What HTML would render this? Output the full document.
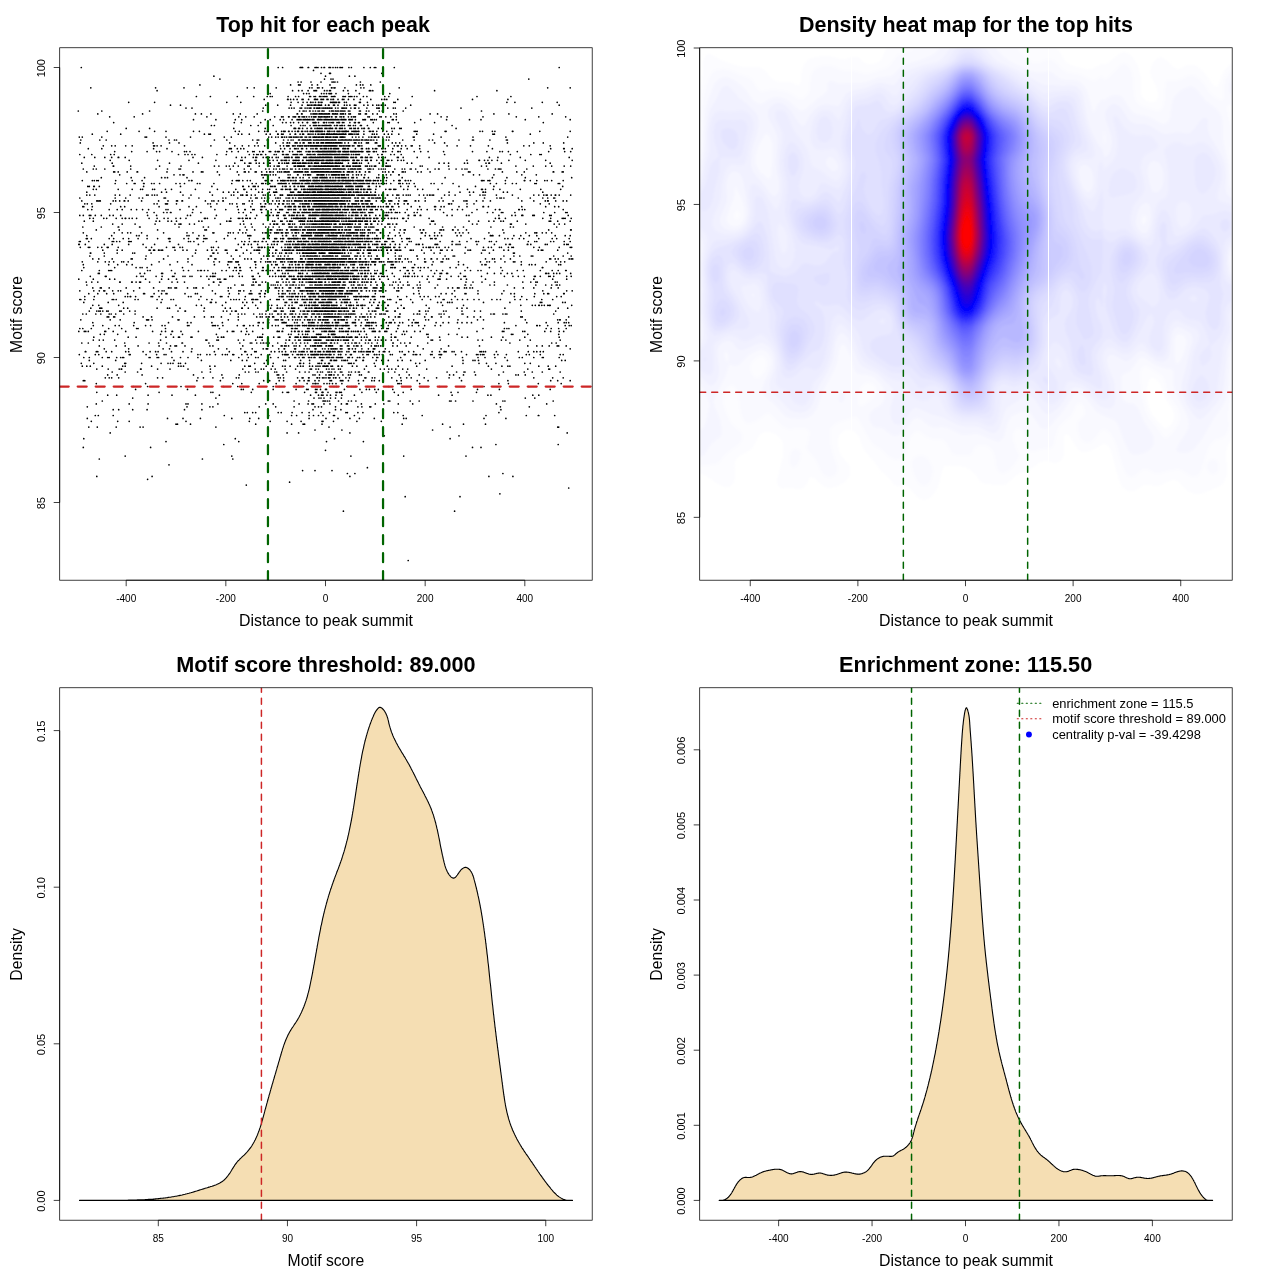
<!DOCTYPE html>
<html lang="en"><head><meta charset="utf-8"><title>Motif enrichment plots</title>
<style>html,body{margin:0;padding:0;background:#fff}svg{display:block}</style></head>
<body><svg width="1280" height="1280" viewBox="0 0 1280 1280" font-family="'Liberation Sans', sans-serif" fill="#000">
<rect width="1280" height="1280" fill="#fff"/>
<defs>
<clipPath id="c0"><rect x="59.70" y="47.75" width="532.50" height="532.45"/></clipPath>
<clipPath id="c1"><rect x="699.70" y="47.75" width="532.50" height="532.45"/></clipPath>
<clipPath id="c2"><rect x="59.70" y="687.75" width="532.50" height="532.45"/></clipPath>
<clipPath id="c3"><rect x="699.70" y="687.75" width="532.50" height="532.45"/></clipPath>
<filter id="hb" x="-5%" y="-5%" width="110%" height="110%"><feGaussianBlur stdDeviation="1.2"/></filter>
</defs>
<path d="M408.2 560.5h0M343.4 511.2h0m111.2 0h0M405.2 496.7h0m54.8 0h0M499.9 493.8h0M568.7 488.0h0M246.3 485.1h0M289.6 482.2h0M147.6 479.3h0M96.8 476.4h0m55.3 0h0m197.8 0h0m139 0h0m24 0h0M347.4 473.5h0m7.5 0h0m148 0h0M302.6 470.6h0m12.4 0h0m17 0h0M367.4 467.7h0M169 464.8h0M99.3 459.0h0m103.1 0h0m30.4 0h0M125.2 456.1h0m106.6 0h0m119.1 0h0m52.8 0h0m62.3 0h0M325.5 450.3h0M83.3 447.4h0m67.3 0h0m321.9 0h0m8.5 0h0M223.8 444.5h0m272.1 0h0m62.3 0h0M166 441.6h0m72.8 0h0m87.7 0h0m36.9 0h0M83.8 438.7h0m151.5 0h0m99.2 0h0m115.6 0h0M384.3 435.8h0m74.7 0h0M110.2 432.9h0m176.9 0h0m11.5 0h0m51.3 0h0m217.3 0h0M315 430.0h0m26.9 0h0m90.7 0h0M88.8 427.1h0m8.5 0h0m18.9 0h0m23.9 0h0m3 0h0m72.8 0h0m113.1 0h0m121.1 0h0m107.6 0h0m1 0h0M176 424.2h0m1.5 0h0m13 0h0m65.2 0h0m35.9 0h0m11.5 0h0m1.5 0h0m17.4 0h0m80.2 0h0m40.4 0h0m20.9 0h0m22 0h0M91.3 421.3h0m26.4 0h0m11.5 0h0m56.8 0h0m63.3 0h0m20.9 0h0m16.9 0h0m14 0h0m20.9 0h0m1 0h0m10.5 0h0m23.4 0h0m24.4 0h0M87.3 418.4h0m80.2 0h0m15.5 0h0m17.4 0h0m31.4 0h0m18 0h0m8.9 0h0m50.4 0h0m16.9 0h0m12 0h0m11.9 0h0m9.5 0h0m14.9 0h0m29.4 0h0m2.5 0h0m77.8 0h0m21.9 0h0M95.3 415.5h0m3 0h0m14.9 0h0m111.1 0h0m44.4 0h0m22.9 0h0m5 0h0m12.5 0h0m4.4 0h0m5 0h0m4.5 0h0m10.5 0h0m1 0h0m19.9 0h0m48.8 0h0m19 0h0m63.8 0h0m40.3 0h0m12 0h0m0.5 0h0m15.9 0h0M244.8 412.6h0m2.5 0h0m5.4 0h0m3 0h0m22.5 0h0m3 0h0m10.9 0h0m10 0h0m7 0h0m11.9 0h0m8.5 0h0m16.4 0h0m1.5 0h0m10.5 0h0m5 0h0m30.9 0h0m4 0h0m101.1 0h0M113.2 409.7h0m5.5 0h0m14 0h0m14.4 0h0m37.4 0h0m17.4 0h0m111.1 0h0m22.5 0h0m5.4 0h0m160 0h0M87.3 406.8h0m99.7 0h0m22.9 0h0m3 0h0m46.3 0h0m16.5 0h0m18.4 0h0m20.9 0h0m3.5 0h0m3 0h0m14 0h0m22.4 0h0m4 0h0m7.9 0h0m1 0h0m129.6 0h0m28.9 0h0M96.3 403.9h0m32.9 0h0m18.9 0h0m37.9 0h0m2 0h0m13.9 0h0m16 0h0m47.8 0h0m7.5 0h0m25.9 0h0m9 0h0m3.9 0h0m1.5 0h0m10.5 0h0m6 0h0m11.4 0h0m5 0h0m1 0h0m14 0h0m13.9 0h0m8.5 0h0m14.5 0h0m14.4 0h0m83.7 0h0m50.3 0h0M102.3 401.0h0m191.8 0h0m14.5 0h0m14.4 0h0m0.5 0h0m1 0h0m1 0h0m2 0h0m2 0h0m9 0h0m9.9 0h0m3 0h0m4.5 0h0m32.4 0h0m1.5 0h0m20.4 0h0m9 0h0m30.4 0h0m1.5 0h0m4.5 0h0m17.4 0h0m29.9 0h0m2 0h0m48.3 0h0M132.7 398.1h0m83.2 0h0m98.1 0h0m5 0h0m2 0h0m3 0h0m6.5 0h0m5 0h0m5.9 0h0m183.9 0h0m9.5 0h0M107.7 395.2h0m9 0h0m31.4 0h0m23.9 0h0m23.4 0h0m24 0h0m48.8 0h0m42.4 0h0m7.9 0h0m3 0h0m1.5 0h0m4 0h0m3.5 0h0m5.5 0h0m5.9 0h0m12.5 0h0m43.9 0h0m40.3 0h0m13.5 0h0m35.8 0h0m3 0h0m41.9 0h0m6 0h0M96.8 392.3h0m62.3 0h0m51.8 0h0m2 0h0m38.4 0h0m31.3 0h0m4.5 0h0m1.5 0h0m16 0h0m10.9 0h0m1 0h0m5.5 0h0m0.5 0h0m0.5 0h0m5 0h0m8 0h0m1 0h0m2.5 0h0m0.5 0h0m1.4 0h0m20.5 0h0m14.4 0h0m18 0h0m8.9 0h0m47.9 0h0m6.9 0h0m18.5 0h0M135.6 389.4h0m51.9 0h0m53.8 0h0m2 0h0m9.4 0h0m20.5 0h0m22.9 0h0m10.5 0h0m1.5 0h0m7.4 0h0m1.5 0h0m3.5 0h0m5 0h0m0.5 0h0m0.5 0h0m17.9 0h0m15.5 0h0m6.5 0h0m3 0h0m5.4 0h0m3.5 0h0m14.5 0h0m18.4 0h0m66.3 0h0m21.9 0h0m50.8 0h0M122.2 386.5h0m11 0h0m14.4 0h0m33.4 0h0m42.8 0h0m14 0h0m35.4 0h0m6 0h0m14.9 0h0m4.5 0h0m0.5 0h0m4.5 0h0m15.4 0h0m15 0h0m2.5 0h0m10.4 0h0m0.5 0h0m4.5 0h0m2 0h0m1.5 0h0m12.5 0h0m20.9 0h0m50.8 0h0m44.4 0h0m44.8 0h0M96.3 383.6h0m49.3 0h0m87.2 0h0m9 0h0m17.4 0h0m17 0h0m19.9 0h0m11 0h0m5.9 0h0m2 0h0m0.5 0h0m0.5 0h0m2 0h0m6 0h0m3 0h0m2.5 0h0m3 0h0m3.5 0h0m5.9 0h0m17 0h0m38.9 0h0m1.4 0h0m2 0h0m18.5 0h0m79.2 0h0m9.5 0h0m29.9 0h0m22.9 0h0M83.3 380.7h0m1.5 0h0m112.1 0h0m23.5 0h0m43.3 0h0m6 0h0m9.5 0h0m4.4 0h0m16 0h0m4.5 0h0m4 0h0m1 0h0m5.9 0h0m4 0h0m11 0h0m1.5 0h0m8.9 0h0m1.5 0h0m1 0h0m5.5 0h0m10 0h0m5 0h0m8.4 0h0m2.5 0h0m5 0h0m17.5 0h0m4.4 0h0m16 0h0m10.9 0h0m33.4 0h0m46.4 0h0m42.8 0h0m7 0h0m12.5 0h0M105.3 377.8h0m3.9 0h0m2.5 0h0m7 0h0m38.9 0h0m5 0h0m35.3 0h0m5.5 0h0m9.5 0h0m10 0h0m13.4 0h0m2.5 0h0m39.4 0h0m2 0h0m3.4 0h0m14 0h0m4.5 0h0m1 0h0m5.5 0h0m0.5 0h0m7.9 0h0m0.5 0h0m2 0h0m3 0h0m1.5 0h0m2 0h0m2.5 0h0m0.5 0h0m1 0h0m3.5 0h0m2 0h0m0.5 0h0m3.5 0h0m6.4 0h0m3.5 0h0m15.5 0h0m1 0h0m6.4 0h0m2.5 0h0m17 0h0m8.9 0h0m6 0h0m4.5 0h0m13 0h0m12.4 0h0m12.5 0h0m10.4 0h0m74.3 0h0m18.9 0h0m10.5 0h0M107.7 374.9h0m9.5 0h0m24.9 0h0m51.4 0h0m28.4 0h0m17.4 0h0m37.9 0h0m1.5 0h0m4.4 0h0m29.9 0h0m2 0h0m4.5 0h0m6.5 0h0m3 0h0m1 0h0m1 0h0m0.5 0h0m2.5 0h0m4 0h0m4.9 0h0m5.5 0h0m2 0h0m9 0h0m2 0h0m37.8 0h0m10 0h0m10 0h0m30.4 0h0m4 0h0m9.9 0h0m12 0h0m23.4 0h0m17 0h0m2.4 0h0m7 0h0M112.2 372.0h0m13 0h0m12.4 0h0m64.3 0h0m8.5 0h0m34.9 0h0m3.5 0h0m6.9 0h0m2.5 0h0m9.5 0h0m7 0h0m2 0h0m9.9 0h0m13 0h0m5.5 0h0m4 0h0m8.4 0h0m3 0h0m2 0h0m5.5 0h0m1.5 0h0m2 0h0m3.5 0h0m5.4 0h0m1.5 0h0m7 0h0m2.5 0h0m4 0h0m3 0h0m1 0h0m9 0h0m0.5 0h0m19.4 0h0m6.5 0h0m11.9 0h0m40.4 0h0m9.5 0h0m7.4 0h0m1 0h0m9.5 0h0m28.9 0h0m20.9 0h0m8 0h0m10 0h0m17.9 0h0M96.8 369.1h0m11.4 0h0m11 0h0m2 0h0m0.5 0h0m18.9 0h0m0.5 0h0m16.5 0h0m12.4 0h0m18 0h0m22.4 0h0m32.4 0h0m12.4 0h0m6 0h0m2.5 0h0m7.5 0h0m4 0h0m9.9 0h0m10.5 0h0m14.5 0h0m1.4 0h0m4.5 0h0m2.5 0h0m8 0h0m2.5 0h0m3 0h0m2 0h0m4.5 0h0m1.9 0h0m24 0h0m15.9 0h0m4 0h0m4.5 0h0m3 0h0m4 0h0m6.9 0h0m5 0h0m19 0h0m64.7 0h0m36.4 0h0m20.9 0h0m1 0h0M82.3 366.2h0m4.5 0h0m3.5 0h0m12 0h0m20.4 0h0m2.5 0h0m26.4 0h0m26.9 0h0m2.5 0h0m2.5 0h0m26.4 0h0m5 0h0m29.9 0h0m4 0h0m1.5 0h0m15.9 0h0m6.5 0h0m9.9 0h0m2.5 0h0m5 0h0m7.5 0h0m3 0h0m2.5 0h0m6.5 0h0m2.9 0h0m3.5 0h0m2 0h0m2 0h0m3 0h0m0.5 0h0m1 0h0m0.5 0h0m1.5 0h0m0.5 0h0m0.5 0h0m0.5 0h0m3 0h0m1.5 0h0m5.5 0h0m0.5 0h0m3.4 0h0m10.5 0h0m4.5 0h0m9.5 0h0m8.9 0h0m12 0h0m11 0h0m18.4 0h0m35.4 0h0m36.3 0h0m13.5 0h0m6 0h0m2 0h0m28.9 0h0m9.4 0h0m7.5 0h0M81.3 363.3h0m12.5 0h0m30.9 0h0m1 0h0m15.9 0h0m19.5 0h0m6.9 0h0m2.5 0h0m2.5 0h0m5.5 0h0m2 0h0m5 0h0m69.2 0h0m9.5 0h0m9 0h0m26.4 0h0m1 0h0m3 0h0m6 0h0m8.4 0h0m1.5 0h0m2 0h0m3.5 0h0m3.5 0h0m1 0h0m18.9 0h0m1.5 0h0m1.5 0h0m2.5 0h0m20.4 0h0m41.4 0h0m4 0h0m43.3 0h0m16 0h0m7.5 0h0m9.4 0h0m28.9 0h0m5.5 0h0M89.3 360.4h0m26.4 0h0m58.3 0h0m27.4 0h0m29.4 0h0m11.5 0h0m4.5 0h0m19.9 0h0m16.9 0h0m2 0h0m15 0h0m9 0h0m11.9 0h0m1 0h0m8 0h0m0.5 0h0m0.5 0h0m2.5 0h0m1 0h0m1.5 0h0m5.4 0h0m2 0h0m1.5 0h0m2 0h0m8.5 0h0m0.5 0h0m6.5 0h0m0.5 0h0m12.9 0h0m5.5 0h0m6.5 0h0m9.5 0h0m4.4 0h0m8.5 0h0m14.5 0h0m37.8 0h0m10 0h0m2 0h0m3.5 0h0m28.9 0h0m54.3 0h0m3.5 0h0M83.8 357.5h0m5.5 0h0m13 0h0m5.4 0h0m1.5 0h0m7.5 0h0m4 0h0m2 0h0m1 0h0m25.4 0h0m1 0h0m7 0h0m1.5 0h0m13.4 0h0m8.5 0h0m7.5 0h0m9.9 0h0m40.9 0h0m9.5 0h0m7.4 0h0m2.5 0h0m12.5 0h0m7.5 0h0m10.9 0h0m5.5 0h0m1 0h0m3.5 0h0m3.5 0h0m1 0h0m0.5 0h0m4.5 0h0m1 0h0m1.9 0h0m2.5 0h0m0.5 0h0m0.5 0h0m4.5 0h0m0.5 0h0m1 0h0m1.5 0h0m1.5 0h0m2.5 0h0m0.5 0h0m0.5 0h0m0.5 0h0m0.5 0h0m0.5 0h0m0.5 0h0m2 0h0m1 0h0m0.5 0h0m0.5 0h0m3 0h0m0.5 0h0m0.5 0h0m1 0h0m1.5 0h0m0.4 0h0m1 0h0m1 0h0m5.5 0h0m1 0h0m0.5 0h0m3 0h0m5 0h0m2 0h0m0.5 0h0m3.5 0h0m0.5 0h0m8.9 0h0m4 0h0m1 0h0m22.9 0h0m33.4 0h0m6 0h0m22.4 0h0m15.5 0h0m7 0h0m9.9 0h0m10 0h0m14.4 0h0m3 0h0m11.5 0h0m8.5 0h0m1 0h0m15.9 0h0M79.3 354.6h0m16 0h0m3.5 0h0m30.4 0h0m1 0h0m15.9 0h0m10.5 0h0m7.5 0h0m1.9 0h0m31.9 0h0m2.5 0h0m6.5 0h0m3 0h0m5.5 0h0m7 0h0m2.9 0h0m2 0h0m5.5 0h0m1 0h0m8 0h0m5.5 0h0m4 0h0m9.9 0h0m8.5 0h0m12.9 0h0m2 0h0m1 0h0m0.5 0h0m1 0h0m1 0h0m4.5 0h0m4.5 0h0m1.5 0h0m2 0h0m0.5 0h0m1.5 0h0m2.5 0h0m3 0h0m2.9 0h0m1 0h0m1 0h0m1 0h0m0.5 0h0m0.5 0h0m1 0h0m0.5 0h0m0.5 0h0m0.5 0h0m1 0h0m2 0h0m0.5 0h0m1.5 0h0m0.5 0h0m2 0h0m0.5 0h0m1.5 0h0m2 0h0m0.5 0h0m0.5 0h0m1 0h0m3 0h0m4.5 0h0m1.9 0h0m0.5 0h0m5 0h0m4.5 0h0m1 0h0m11.5 0h0m4 0h0m1.5 0h0m5.9 0h0m0.5 0h0m2 0h0m2.5 0h0m3 0h0m8 0h0m2 0h0m11.9 0h0m1 0h0m8 0h0m2 0h0m1.5 0h0m3.5 0h0m10.4 0h0m1.5 0h0m7 0h0m1.5 0h0m1 0h0m14 0h0m10.9 0h0m10 0h0m1.5 0h0m2.5 0h0m2 0h0m1.5 0h0m10.4 0h0m3.5 0h0m8.5 0h0m19.9 0h0m3 0h0m11 0h0m19.9 0h0m3 0h0M85.3 351.7h0m0.5 0h0m10.5 0h0m1.5 0h0m8.4 0h0m5.5 0h0m14 0h0m3 0h0m14.4 0h0m7 0h0m5.5 0h0m2.5 0h0m13.4 0h0m11.5 0h0m8.5 0h0m22.9 0h0m14.9 0h0m15.5 0h0m1 0h0m8.9 0h0m1.5 0h0m15 0h0m3.5 0h0m4.5 0h0m2.9 0h0m3.5 0h0m5.5 0h0m2.5 0h0m2 0h0m3.5 0h0m2 0h0m1.5 0h0m0.5 0h0m1 0h0m3 0h0m3.5 0h0m0.4 0h0m1 0h0m0.5 0h0m2.5 0h0m0.5 0h0m2.5 0h0m1 0h0m1.5 0h0m3 0h0m0.5 0h0m2.5 0h0m0.5 0h0m0.5 0h0m0.5 0h0m0.5 0h0m1 0h0m0.5 0h0m0.5 0h0m2 0h0m0.5 0h0m1.5 0h0m0.5 0h0m3 0h0m0.5 0h0m1.5 0h0m1.9 0h0m5 0h0m2 0h0m5 0h0m1.5 0h0m3.5 0h0m2 0h0m0.5 0h0m0.5 0h0m2 0h0m2.5 0h0m1 0h0m1.5 0h0m1.4 0h0m2.5 0h0m0.5 0h0m6 0h0m4 0h0m1 0h0m0.5 0h0m4.5 0h0m10.4 0h0m2.5 0h0m6.5 0h0m5 0h0m18.4 0h0m7.5 0h0m4.5 0h0m0.5 0h0m1.5 0h0m6 0h0m2 0h0m7.4 0h0m18.5 0h0m1.5 0h0m2 0h0m2 0h0m10.9 0h0m21.9 0h0m10 0h0m5.5 0h0m3 0h0m3.5 0h0m3 0h0M104.3 348.8h0m24.4 0h0m34.4 0h0m6.4 0h0m22.5 0h0m26.4 0h0m8.4 0h0m14 0h0m11.4 0h0m11 0h0m3 0h0m0.5 0h0m1 0h0m11 0h0m5.4 0h0m0.5 0h0m10 0h0m1 0h0m8.5 0h0m3 0h0m2 0h0m5.9 0h0m1 0h0m6.5 0h0m2.5 0h0m3.5 0h0m2.5 0h0m1 0h0m1.5 0h0m1.5 0h0m0.5 0h0m1.5 0h0m3.4 0h0m1.5 0h0m6.5 0h0m1 0h0m3 0h0m3 0h0m6.5 0h0m6.5 0h0m4.9 0h0m0.5 0h0m1 0h0m10.5 0h0m37.9 0h0m17.9 0h0m129.1 0h0M99.3 345.9h0m16.9 0h0m9 0h0m12.9 0h0m21 0h0m11.4 0h0m4.5 0h0m1.5 0h0m8.5 0h0m24.9 0h0m3 0h0m29.9 0h0m24.9 0h0m5 0h0m8.5 0h0m0.9 0h0m2.5 0h0m1.5 0h0m2.5 0h0m5.5 0h0m2 0h0m3.5 0h0m6 0h0m5 0h0m1.9 0h0m1.5 0h0m0.5 0h0m1 0h0m2 0h0m0.5 0h0m1.5 0h0m0.5 0h0m0.5 0h0m1 0h0m4.5 0h0m0.5 0h0m2 0h0m1 0h0m0.5 0h0m0.5 0h0m1.5 0h0m0.5 0h0m7.9 0h0m1.5 0h0m5.5 0h0m1.5 0h0m5 0h0m2.5 0h0m1.5 0h0m3.5 0h0m9.9 0h0m3.5 0h0m1.5 0h0m2 0h0m2.5 0h0m12 0h0m4.5 0h0m8.9 0h0m11.5 0h0m30.9 0h0m30.9 0h0m48.3 0h0m9 0h0m5.5 0h0m6.9 0h0m8 0h0m1.5 0h0m7.5 0h0M81.8 343.0h0m6.5 0h0m36.4 0h0m24.4 0h0m9.5 0h0m7.9 0h0m15.5 0h0m0.5 0h0m26.4 0h0m30.9 0h0m10.5 0h0m1.5 0h0m4.9 0h0m4 0h0m2.5 0h0m0.5 0h0m2.5 0h0m3 0h0m8.5 0h0m7.9 0h0m7 0h0m3.5 0h0m4.5 0h0m4 0h0m3 0h0m7.4 0h0m0.5 0h0m1 0h0m2 0h0m2.5 0h0m1 0h0m1 0h0m1.5 0h0m0.5 0h0m1 0h0m0.5 0h0m4 0h0m0.5 0h0m0.5 0h0m3 0h0m3 0h0m7.9 0h0m3 0h0m3.5 0h0m3 0h0m0.5 0h0m1 0h0m3 0h0m6 0h0m3 0h0m3.4 0h0m5.5 0h0m15.5 0h0m0.5 0h0m7.4 0h0m4 0h0m5 0h0m0.5 0h0m17.5 0h0m82.2 0h0m41.8 0h0m4.5 0h0M93.3 340.1h0m6 0h0m4 0h0m11.4 0h0m45.9 0h0m45.3 0h0m1 0h0m10 0h0m1.5 0h0m19.9 0h0m5.5 0h0m11.9 0h0m6.5 0h0m23.9 0h0m3 0h0m0.5 0h0m5.5 0h0m3.5 0h0m1.5 0h0m4 0h0m1.5 0h0m1.5 0h0m1 0h0m1.5 0h0m0.5 0h0m0.5 0h0m3.4 0h0m1.5 0h0m0.5 0h0m1 0h0m1.5 0h0m1 0h0m0.5 0h0m1 0h0m5.5 0h0m1.5 0h0m1 0h0m2 0h0m0.5 0h0m1 0h0m1 0h0m2 0h0m2 0h0m0.5 0h0m0.5 0h0m2.4 0h0m2.5 0h0m1.5 0h0m1.5 0h0m1 0h0m1 0h0m4.5 0h0m8.5 0h0m4.5 0h0m3 0h0m0.9 0h0m0.5 0h0m5 0h0m2.5 0h0m3.5 0h0m4.5 0h0m5.5 0h0m6.5 0h0m33.3 0h0m1.5 0h0m7.5 0h0m37.9 0h0m4.5 0h0m18.9 0h0m4.5 0h0m13.9 0h0m10.5 0h0m29.9 0h0M93.8 337.2h0m34.4 0h0m7.9 0h0m29.9 0h0m7.5 0h0m5 0h0m1 0h0m11.5 0h0m1 0h0m25.9 0h0m3.5 0h0m1.9 0h0m0.5 0h0m33.9 0h0m2 0h0m1 0h0m1.5 0h0m11.5 0h0m4.5 0h0m1.5 0h0m9.9 0h0m0.5 0h0m5 0h0m0.5 0h0m1 0h0m1 0h0m0.5 0h0m2.5 0h0m3 0h0m0.5 0h0m0.5 0h0m1.5 0h0m1 0h0m2 0h0m2.4 0h0m1 0h0m1.5 0h0m0.5 0h0m1 0h0m1 0h0m3.5 0h0m1 0h0m1 0h0m1 0h0m1 0h0m1.5 0h0m0.5 0h0m2 0h0m0.5 0h0m0.5 0h0m0.5 0h0m0.5 0h0m3 0h0m2 0h0m0.5 0h0m0.5 0h0m0.5 0h0m1.5 0h0m1.5 0h0m0.5 0h0m1.9 0h0m0.5 0h0m0.5 0h0m0.5 0h0m1 0h0m2 0h0m0.5 0h0m2 0h0m1.5 0h0m1 0h0m0.5 0h0m3.5 0h0m0.5 0h0m1.5 0h0m4 0h0m3 0h0m2.5 0h0m8.4 0h0m3.5 0h0m4 0h0m8.5 0h0m3.5 0h0m1 0h0m15.4 0h0m16.9 0h0m11.5 0h0m22.4 0h0m5.5 0h0m23.9 0h0m11.5 0h0m21.9 0h0m34.4 0h0M100.3 334.3h0m4 0h0m13.4 0h0m42.9 0h0m10.4 0h0m11.5 0h0m33.9 0h0m29.4 0h0m3 0h0m13.9 0h0m25.9 0h0m2.5 0h0m7.5 0h0m4 0h0m3 0h0m2 0h0m8.9 0h0m1.5 0h0m0.5 0h0m1.5 0h0m1 0h0m7.5 0h0m3 0h0m1 0h0m1 0h0m0.5 0h0m1 0h0m12.9 0h0m11.5 0h0m7 0h0m24.9 0h0m10.9 0h0m2.5 0h0m22 0h0m1.4 0h0m20.5 0h0m8.5 0h0m54.3 0h0m1.5 0h0m14.9 0h0m30.9 0h0M78.8 331.4h0m5.5 0h0m1.5 0h0m2.5 0h0m16.5 0h0m0.9 0h0m7.5 0h0m12.5 0h0m26.9 0h0m9 0h0m3.9 0h0m6.5 0h0m0.5 0h0m8.5 0h0m17.4 0h0m28.9 0h0m5 0h0m1.5 0h0m7.5 0h0m5.5 0h0m5.9 0h0m24.5 0h0m0.5 0h0m1.5 0h0m2.9 0h0m0.5 0h0m9 0h0m3 0h0m0.5 0h0m3 0h0m1 0h0m3 0h0m3.5 0h0m1.5 0h0m1.5 0h0m0.5 0h0m4.4 0h0m8.5 0h0m2 0h0m0.5 0h0m1 0h0m1 0h0m2.5 0h0m0.5 0h0m0.5 0h0m1 0h0m1.5 0h0m0.5 0h0m1.5 0h0m5 0h0m0.5 0h0m1.9 0h0m1.5 0h0m2 0h0m1 0h0m1.5 0h0m0.5 0h0m3 0h0m2 0h0m2 0h0m2 0h0m1 0h0m2.5 0h0m3.5 0h0m7.9 0h0m1 0h0m1 0h0m1 0h0m4 0h0m0.5 0h0m5 0h0m1 0h0m1 0h0m9.5 0h0m7.4 0h0m3 0h0m8 0h0m5.5 0h0m56.8 0h0m25.4 0h0m1.5 0h0m18.9 0h0m2 0h0m20 0h0m5.9 0h0m8.5 0h0m4.5 0h0M79.8 328.5h0m3 0h0m8.5 0h0m17.4 0h0m13 0h0m14.9 0h0m1.5 0h0m27.4 0h0m53.9 0h0m26.9 0h0m16.4 0h0m20.4 0h0m8.5 0h0m1 0h0m2.5 0h0m0.5 0h0m1.5 0h0m10.5 0h0m0.5 0h0m1 0h0m3.4 0h0m0.5 0h0m3 0h0m1.5 0h0m2 0h0m0.5 0h0m1 0h0m0.5 0h0m0.5 0h0m1 0h0m0.5 0h0m1.5 0h0m0.5 0h0m0.5 0h0m1 0h0m0.5 0h0m1 0h0m0.5 0h0m1 0h0m0.5 0h0m0.5 0h0m4.5 0h0m0.5 0h0m3.5 0h0m1.9 0h0m1 0h0m6 0h0m1 0h0m14 0h0m0.5 0h0m5.5 0h0m1.9 0h0m2 0h0m0.5 0h0m8 0h0m5 0h0m1.5 0h0m9.5 0h0m25.4 0h0m35.8 0h0m24 0h0m21.4 0h0m2.5 0h0m2 0h0m37.3 0h0m5 0h0m7.5 0h0m7.5 0h0M93.3 325.6h0m9.5 0h0m12.4 0h0m4 0h0m14.5 0h0m11.9 0h0m5 0h0m11.5 0h0m2.9 0h0m22.5 0h0m1.5 0h0m23.4 0h0m1.5 0h0m1.5 0h0m2.5 0h0m5 0h0m14.4 0h0m6 0h0m1 0h0m5.5 0h0m3.4 0h0m5 0h0m14 0h0m3.5 0h0m2.5 0h0m8.4 0h0m1 0h0m1.5 0h0m1 0h0m1.5 0h0m1 0h0m2.5 0h0m2 0h0m1 0h0m1.5 0h0m3 0h0m1.5 0h0m0.5 0h0m1.5 0h0m0.5 0h0m2 0h0m0.5 0h0m0.5 0h0m1 0h0m0.4 0h0m0.5 0h0m1.5 0h0m1 0h0m1 0h0m2 0h0m1 0h0m2 0h0m1 0h0m0.5 0h0m0.5 0h0m0.5 0h0m0.5 0h0m1.5 0h0m0.5 0h0m1.5 0h0m0.5 0h0m0.5 0h0m1 0h0m0.5 0h0m1 0h0m0.5 0h0m1.5 0h0m1.5 0h0m2 0h0m0.5 0h0m0.5 0h0m0.5 0h0m0.5 0h0m0.5 0h0m2 0h0m1.9 0h0m1 0h0m1 0h0m1.5 0h0m0.5 0h0m0.5 0h0m1 0h0m1.5 0h0m6.5 0h0m0.5 0h0m5 0h0m4.5 0h0m0.5 0h0m0.5 0h0m1.5 0h0m1 0h0m0.9 0h0m2 0h0m4.5 0h0m5 0h0m7 0h0m10 0h0m0.5 0h0m9.9 0h0m3.5 0h0m6.5 0h0m6 0h0m10.4 0h0m5.5 0h0m75.3 0h0m20.9 0h0m0.5 0h0m2.5 0h0m7.9 0h0m17.5 0h0m4 0h0m2 0h0M92.8 322.7h0m41.4 0h0m34.3 0h0m19 0h0m3.5 0h0m20.9 0h0m10.5 0h0m35.8 0h0m1 0h0m4 0h0m5.5 0h0m13.4 0h0m1.5 0h0m0.5 0h0m0.5 0h0m1.5 0h0m8.5 0h0m2.5 0h0m5.5 0h0m6 0h0m0.5 0h0m1.9 0h0m1 0h0m0.5 0h0m1.5 0h0m4 0h0m4 0h0m3 0h0m0.5 0h0m1 0h0m1.5 0h0m1 0h0m3.5 0h0m3 0h0m0.5 0h0m1 0h0m1 0h0m0.5 0h0m7.4 0h0m1.5 0h0m5 0h0m1 0h0m1 0h0m1 0h0m6 0h0m5.5 0h0m1.5 0h0m1 0h0m1.9 0h0m1.5 0h0m1 0h0m2 0h0m10.5 0h0m3 0h0m1.5 0h0m0.5 0h0m3.5 0h0m4.9 0h0m3 0h0m9.5 0h0m3 0h0m1.5 0h0m1.5 0h0m17.9 0h0m7 0h0m5.5 0h0m8.9 0h0m4.5 0h0m5 0h0m4.5 0h0m32.9 0h0m22.4 0h0m19.4 0h0m12 0h0m6 0h0m2 0h0m2.5 0h0M80.8 319.8h0m29.4 0h0m10 0h0m26.4 0h0m1 0h0m1 0h0m3.5 0h0m25.9 0h0m1 0h0m49.3 0h0m10 0h0m30.4 0h0m6.5 0h0m1.5 0h0m1.5 0h0m3 0h0m1.4 0h0m6 0h0m4 0h0m3 0h0m2 0h0m2.5 0h0m4.5 0h0m3 0h0m1.5 0h0m1 0h0m2.4 0h0m2.5 0h0m3.5 0h0m1.5 0h0m0.5 0h0m2 0h0m1 0h0m0.5 0h0m1.5 0h0m1.5 0h0m0.5 0h0m0.5 0h0m6.5 0h0m1 0h0m2.5 0h0m0.5 0h0m0.5 0h0m1.9 0h0m0.5 0h0m0.5 0h0m1 0h0m0.5 0h0m1 0h0m2.5 0h0m8.5 0h0m3.5 0h0m6.5 0h0m2 0h0m15.9 0h0m1 0h0m9 0h0m15.4 0h0m5 0h0m12 0h0m2.9 0h0m29.4 0h0m19.5 0h0m6 0h0m41.8 0h0m32.4 0h0m2 0h0m0.5 0h0m6 0h0M107.2 316.9h0m1.5 0h0m5 0h0m1 0h0m28.4 0h0m8.5 0h0m20.9 0h0m21.9 0h0m10 0h0m7 0h0m2 0h0m8 0h0m16.9 0h0m18.4 0h0m3.5 0h0m2 0h0m4 0h0m2 0h0m1 0h0m3.5 0h0m0.5 0h0m0.5 0h0m7.5 0h0m3.4 0h0m3 0h0m5 0h0m2 0h0m3.5 0h0m0.5 0h0m0.5 0h0m2.5 0h0m3.5 0h0m0.5 0h0m1 0h0m4.9 0h0m4 0h0m0.5 0h0m3 0h0m0.5 0h0m0.5 0h0m4 0h0m0.5 0h0m1.5 0h0m0.5 0h0m1 0h0m1 0h0m0.5 0h0m0.5 0h0m0.5 0h0m1 0h0m1 0h0m0.5 0h0m1.5 0h0m0.5 0h0m1 0h0m1.5 0h0m1.5 0h0m0.5 0h0m1.9 0h0m4 0h0m1.5 0h0m0.5 0h0m0.5 0h0m1 0h0m2 0h0m5.5 0h0m4 0h0m2.5 0h0m1 0h0m1.5 0h0m3 0h0m2.9 0h0m4 0h0m14 0h0m6.5 0h0m3 0h0m1.4 0h0m25 0h0m6.9 0h0m0.5 0h0m9 0h0m8 0h0m18.4 0h0m6.5 0h0m6.5 0h0m40.3 0h0m1.5 0h0m46.4 0h0M82.8 314.0h0m3.5 0h0m9.5 0h0m5 0h0m8.4 0h0m2 0h0m4.5 0h0m8 0h0m11.4 0h0m95.2 0h0m8 0h0m3.5 0h0m3 0h0m8.9 0h0m6 0h0m2.5 0h0m3.5 0h0m4 0h0m2.5 0h0m5.5 0h0m1 0h0m2.5 0h0m3.4 0h0m1 0h0m4.5 0h0m1.5 0h0m0.5 0h0m0.5 0h0m3 0h0m4 0h0m3.5 0h0m1 0h0m1 0h0m2 0h0m0.5 0h0m4.4 0h0m0.5 0h0m1 0h0m0.5 0h0m0.5 0h0m2.5 0h0m1.5 0h0m1 0h0m2 0h0m2 0h0m1 0h0m1 0h0m0.5 0h0m1.5 0h0m0.5 0h0m0.5 0h0m0.5 0h0m0.5 0h0m1.5 0h0m1 0h0m0.5 0h0m2.5 0h0m0.5 0h0m2.5 0h0m0.5 0h0m0.5 0h0m1 0h0m1.9 0h0m2 0h0m2 0h0m0.5 0h0m2 0h0m1.5 0h0m1 0h0m0.5 0h0m1.5 0h0m0.5 0h0m1.5 0h0m6.5 0h0m5.5 0h0m3.4 0h0m0.5 0h0m5 0h0m4 0h0m1.5 0h0m0.5 0h0m2 0h0m1.5 0h0m14.4 0h0m0.5 0h0m13.5 0h0m3.5 0h0m0.5 0h0m2 0h0m6.5 0h0m12.9 0h0m2 0h0m3 0h0m17.9 0h0m1 0h0m27.9 0h0m2.5 0h0m1 0h0m8.5 0h0m2.5 0h0m1.5 0h0m46.8 0h0M89.3 311.1h0m7.5 0h0m2 0h0m1.5 0h0m2.5 0h0m3.9 0h0m1.5 0h0m11.5 0h0m1.5 0h0m8.5 0h0m5.4 0h0m42.9 0h0m7 0h0m0.5 0h0m18.4 0h0m19.4 0h0m3.5 0h0m5 0h0m3.5 0h0m1 0h0m29.9 0h0m8 0h0m1.5 0h0m0.5 0h0m5 0h0m0.4 0h0m1.5 0h0m7.5 0h0m2 0h0m1 0h0m0.5 0h0m6.5 0h0m2.5 0h0m1.5 0h0m2.5 0h0m1 0h0m1 0h0m2.4 0h0m0.5 0h0m2 0h0m1 0h0m0.5 0h0m0.5 0h0m0.5 0h0m0.5 0h0m1 0h0m1.5 0h0m1 0h0m0.5 0h0m0.5 0h0m1 0h0m0.5 0h0m1.5 0h0m0.5 0h0m0.5 0h0m0.5 0h0m1 0h0m0.5 0h0m1 0h0m1 0h0m1.5 0h0m0.5 0h0m0.5 0h0m0.5 0h0m0.5 0h0m0.5 0h0m1 0h0m1.5 0h0m2.5 0h0m0.5 0h0m1 0h0m0.4 0h0m1.5 0h0m2 0h0m0.5 0h0m0.5 0h0m2 0h0m1.5 0h0m4.5 0h0m1 0h0m0.5 0h0m14.5 0h0m3.4 0h0m2 0h0m1.5 0h0m10.5 0h0m1.5 0h0m7 0h0m0.5 0h0m23.9 0h0m0.5 0h0m6 0h0m2.4 0h0m15.5 0h0m2.5 0h0m15.9 0h0m12.5 0h0m6 0h0m40.8 0h0m34.4 0h0M90.8 308.2h0m9 0h0m1 0h0m1 0h0m21.9 0h0m4 0h0m29.4 0h0m10.4 0h0m2 0h0m10.5 0h0m24.4 0h0m20.9 0h0m5 0h0m11.5 0h0m0.5 0h0m6 0h0m9.4 0h0m13 0h0m6.5 0h0m0.5 0h0m2.5 0h0m2.4 0h0m6 0h0m3 0h0m0.5 0h0m1.5 0h0m1 0h0m4 0h0m7 0h0m1 0h0m2.5 0h0m1.9 0h0m0.5 0h0m0.5 0h0m2.5 0h0m1 0h0m0.5 0h0m0.5 0h0m0.5 0h0m1 0h0m1 0h0m0.5 0h0m0.5 0h0m2 0h0m0.5 0h0m1 0h0m0.5 0h0m1.5 0h0m0.5 0h0m0.5 0h0m0.5 0h0m1 0h0m1 0h0m1 0h0m1 0h0m0.5 0h0m1.5 0h0m1 0h0m0.5 0h0m1 0h0m1 0h0m0.5 0h0m1.5 0h0m0.5 0h0m0.5 0h0m1.9 0h0m1 0h0m1.5 0h0m1 0h0m1.5 0h0m0.5 0h0m3 0h0m3.5 0h0m0.5 0h0m2.5 0h0m6 0h0m6 0h0m7.9 0h0m1 0h0m1.5 0h0m7 0h0m12 0h0m5.9 0h0m0.5 0h0m24.9 0h0m28 0h0m4.9 0h0m5 0h0m37.9 0h0m53.3 0h0m9.5 0h0M92.8 305.3h0m6 0h0m19.9 0h0m57.3 0h0m20.4 0h0m5 0h0m21 0h0m22.4 0h0m10.9 0h0m12 0h0m1 0h0m3 0h0m5.5 0h0m7.9 0h0m4 0h0m3 0h0m8 0h0m1.5 0h0m0.5 0h0m2.5 0h0m2 0h0m2 0h0m1 0h0m2.4 0h0m0.5 0h0m1.5 0h0m1 0h0m0.5 0h0m0.5 0h0m1.5 0h0m0.5 0h0m3.5 0h0m0.5 0h0m1.5 0h0m0.5 0h0m1 0h0m1.5 0h0m0.5 0h0m0.5 0h0m1 0h0m1 0h0m2 0h0m0.5 0h0m1 0h0m0.5 0h0m1 0h0m1.5 0h0m1 0h0m3.9 0h0m5.5 0h0m2.5 0h0m1 0h0m0.5 0h0m1 0h0m2 0h0m3.5 0h0m1.5 0h0m2.5 0h0m1 0h0m0.5 0h0m0.5 0h0m2 0h0m6.9 0h0m6 0h0m0.5 0h0m4 0h0m5.5 0h0m0.5 0h0m12.9 0h0m25 0h0m16.4 0h0m20.9 0h0m57.3 0h0m11.5 0h0m3 0h0m3.5 0h0m0.5 0h0m2.5 0h0m2.5 0h0m3.4 0h0m1.5 0h0m1 0h0m21.5 0h0M83.8 302.4h0m24.4 0h0m15 0h0m37.9 0h0m49.3 0h0m1 0h0m4.5 0h0m9.9 0h0m17 0h0m4 0h0m5.9 0h0m8 0h0m24.4 0h0m1.5 0h0m5.5 0h0m3 0h0m1 0h0m1 0h0m7 0h0m1.5 0h0m4 0h0m1.9 0h0m2.5 0h0m1 0h0m0.5 0h0m3.5 0h0m1.5 0h0m1.5 0h0m1 0h0m1 0h0m2 0h0m1 0h0m0.5 0h0m1 0h0m0.5 0h0m0.5 0h0m0.5 0h0m0.5 0h0m1 0h0m5 0h0m4.9 0h0m0.5 0h0m2.5 0h0m0.5 0h0m1 0h0m0.5 0h0m1 0h0m3 0h0m6.5 0h0m12.9 0h0m4 0h0m5.5 0h0m5.5 0h0m11.5 0h0m16.4 0h0m24.9 0h0m3.5 0h0m6.5 0h0m2 0h0m2.5 0h0m31.4 0h0m26.4 0h0m30.4 0h0m1.5 0h0m20.9 0h0m2.5 0h0M79.8 299.5h0m1 0h0m4 0h0m9 0h0m18.4 0h0m1.5 0h0m2.5 0h0m18.9 0h0m3 0h0m19 0h0m5 0h0m8.9 0h0m2.5 0h0m25.4 0h0m8 0h0m5 0h0m18.9 0h0m3 0h0m2.5 0h0m3 0h0m5.5 0h0m7 0h0m0.4 0h0m0.5 0h0m0.5 0h0m0.5 0h0m2 0h0m1 0h0m1 0h0m12.5 0h0m6.5 0h0m1 0h0m1.5 0h0m4.4 0h0m5.5 0h0m1 0h0m1.5 0h0m3 0h0m3 0h0m4.5 0h0m0.5 0h0m1.5 0h0m2 0h0m0.5 0h0m1 0h0m2 0h0m0.5 0h0m0.5 0h0m0.9 0h0m1 0h0m3 0h0m0.5 0h0m0.5 0h0m1 0h0m0.5 0h0m0.5 0h0m3.5 0h0m1 0h0m1.5 0h0m1 0h0m2.5 0h0m0.5 0h0m0.5 0h0m0.5 0h0m0.5 0h0m0.5 0h0m1 0h0m0.5 0h0m0.5 0h0m1 0h0m1 0h0m1 0h0m0.5 0h0m4 0h0m2.9 0h0m1 0h0m1 0h0m1 0h0m1 0h0m0.5 0h0m0.5 0h0m1.5 0h0m5.5 0h0m1.5 0h0m2 0h0m5.5 0h0m6.9 0h0m3.5 0h0m1 0h0m12.5 0h0m2 0h0m1 0h0m8.9 0h0m1.5 0h0m9.5 0h0m11.5 0h0m8.4 0h0m12.5 0h0m1 0h0m7.5 0h0m5.9 0h0m5 0h0m5 0h0m6.5 0h0m5 0h0m12.9 0h0m5 0h0m3.5 0h0m14.5 0h0m5.4 0h0m6.5 0h0m15 0h0m10.9 0h0M84.8 296.6h0m9.5 0h0m30.9 0h0m2.5 0h0m2.5 0h0m0.5 0h0m4.9 0h0m15.5 0h0m1.5 0h0m6.5 0h0m29.4 0h0m2.5 0h0m9.9 0h0m19.5 0h0m1.5 0h0m6.4 0h0m17 0h0m14.9 0h0m4.5 0h0m14.5 0h0m2 0h0m0.9 0h0m1 0h0m4 0h0m2 0h0m2 0h0m1 0h0m1 0h0m2.5 0h0m1.5 0h0m1 0h0m2.5 0h0m2 0h0m2 0h0m0.5 0h0m4 0h0m1 0h0m0.9 0h0m2 0h0m0.5 0h0m1 0h0m1 0h0m3 0h0m0.5 0h0m0.5 0h0m0.5 0h0m1 0h0m1 0h0m1 0h0m0.5 0h0m0.5 0h0m1.5 0h0m0.5 0h0m0.5 0h0m1 0h0m0.5 0h0m1 0h0m0.5 0h0m0.5 0h0m0.5 0h0m1 0h0m0.5 0h0m1 0h0m1 0h0m0.5 0h0m1 0h0m0.5 0h0m0.5 0h0m1 0h0m0.5 0h0m0.5 0h0m1 0h0m1.4 0h0m0.5 0h0m1.5 0h0m1.5 0h0m0.5 0h0m0.5 0h0m2.5 0h0m6 0h0m1.5 0h0m1 0h0m1.5 0h0m2 0h0m1 0h0m0.5 0h0m0.5 0h0m2 0h0m1.5 0h0m0.5 0h0m1.5 0h0m1 0h0m3.9 0h0m1 0h0m1.5 0h0m6 0h0m2 0h0m0.5 0h0m1 0h0m13.5 0h0m8.9 0h0m13.5 0h0m4 0h0m3.9 0h0m7.5 0h0m3.5 0h0m16 0h0m59.3 0h0m7.4 0h0m12.5 0h0m22.4 0h0m4.5 0h0M88.8 293.7h0m9 0h0m8.9 0h0m7 0h0m14 0h0m15.9 0h0m1 0h0m9.5 0h0m7.5 0h0m4.4 0h0m1 0h0m18 0h0m10.4 0h0m2 0h0m18 0h0m13.9 0h0m9.5 0h0m10.5 0h0m1.5 0h0m1 0h0m7.4 0h0m1 0h0m4.5 0h0m0.5 0h0m13.5 0h0m3.4 0h0m1 0h0m2 0h0m4.5 0h0m2.5 0h0m2 0h0m1 0h0m3.5 0h0m3.5 0h0m5.5 0h0m0.5 0h0m2 0h0m0.9 0h0m0.5 0h0m1 0h0m1 0h0m1 0h0m2 0h0m0.5 0h0m1 0h0m0.5 0h0m3.5 0h0m0.5 0h0m0.5 0h0m0.5 0h0m2 0h0m0.5 0h0m1.5 0h0m1.5 0h0m0.5 0h0m1.5 0h0m0.5 0h0m0.5 0h0m0.5 0h0m1 0h0m2 0h0m1 0h0m2.5 0h0m0.5 0h0m0.5 0h0m0.4 0h0m1 0h0m1 0h0m2.5 0h0m1 0h0m0.5 0h0m0.5 0h0m0.5 0h0m1 0h0m1 0h0m0.5 0h0m1 0h0m1 0h0m7 0h0m16.4 0h0m38.4 0h0m5.5 0h0m21.9 0h0m5 0h0m6 0h0m12.9 0h0m1 0h0m12 0h0m23.9 0h0m9 0h0m3.5 0h0m20.4 0h0m9 0h0m3.9 0h0m1 0h0m15 0h0m0.5 0h0M79.8 290.8h0m14 0h0m5.5 0h0m4.5 0h0m1 0h0m7.9 0h0m5.5 0h0m2.5 0h0m13 0h0m24.9 0h0m3.5 0h0m2 0h0m48.3 0h0m15.9 0h0m10.5 0h0m1.5 0h0m3.5 0h0m7 0h0m10.4 0h0m4.5 0h0m13 0h0m3.9 0h0m4.5 0h0m0.5 0h0m0.5 0h0m2 0h0m4 0h0m6 0h0m0.5 0h0m0.5 0h0m1 0h0m0.5 0h0m1.5 0h0m2 0h0m0.5 0h0m0.5 0h0m0.5 0h0m1.5 0h0m1 0h0m0.9 0h0m1 0h0m1 0h0m2.5 0h0m4 0h0m1 0h0m0.5 0h0m1 0h0m1.5 0h0m0.5 0h0m1 0h0m1 0h0m0.5 0h0m0.5 0h0m1 0h0m0.5 0h0m0.5 0h0m0.5 0h0m0.5 0h0m1 0h0m0.5 0h0m0.5 0h0m0.5 0h0m1 0h0m0.5 0h0m0.5 0h0m2.5 0h0m1.5 0h0m1 0h0m0.5 0h0m0.4 0h0m1 0h0m0.5 0h0m0.5 0h0m0.5 0h0m4 0h0m1 0h0m2 0h0m1.5 0h0m0.5 0h0m0.5 0h0m1.5 0h0m0.5 0h0m1.5 0h0m1.5 0h0m3.5 0h0m1 0h0m4.5 0h0m3 0h0m3.4 0h0m2 0h0m1 0h0m3.5 0h0m1 0h0m1.5 0h0m4 0h0m11 0h0m1.5 0h0m0.5 0h0m19.9 0h0m35.9 0h0m23.4 0h0m25.9 0h0m38.9 0h0m23.9 0h0m5.5 0h0M92.8 287.9h0m7.5 0h0m1 0h0m7.9 0h0m17 0h0m13.4 0h0m14 0h0m14.9 0h0m0.5 0h0m2 0h0m4 0h0m1.5 0h0m11 0h0m6.4 0h0m2 0h0m0.5 0h0m6.5 0h0m25.4 0h0m2.5 0h0m38.4 0h0m6 0h0m0.5 0h0m1 0h0m2.5 0h0m3.4 0h0m6.5 0h0m1.5 0h0m5 0h0m2.5 0h0m1 0h0m0.5 0h0m6 0h0m0.5 0h0m1.5 0h0m0.5 0h0m1 0h0m0.5 0h0m0.5 0h0m0.5 0h0m0.9 0h0m1 0h0m0.5 0h0m1 0h0m0.5 0h0m0.5 0h0m0.5 0h0m1 0h0m0.5 0h0m1 0h0m0.5 0h0m0.5 0h0m0.5 0h0m0.5 0h0m0.5 0h0m0.5 0h0m1 0h0m0.5 0h0m1 0h0m1 0h0m1 0h0m1 0h0m0.5 0h0m0.5 0h0m0.5 0h0m0.5 0h0m0.5 0h0m0.5 0h0m0.5 0h0m0.5 0h0m1.5 0h0m0.5 0h0m0.5 0h0m0.5 0h0m0.5 0h0m0.5 0h0m0.5 0h0m0.5 0h0m1 0h0m0.5 0h0m2 0h0m0.5 0h0m0.9 0h0m1 0h0m0.5 0h0m0.5 0h0m0.5 0h0m1.5 0h0m4 0h0m4 0h0m0.5 0h0m2.5 0h0m0.5 0h0m0.5 0h0m2.5 0h0m2 0h0m0.5 0h0m3 0h0m1 0h0m1.5 0h0m6.4 0h0m1 0h0m1 0h0m1.5 0h0m4 0h0m1 0h0m12.5 0h0m4 0h0m2.9 0h0m0.5 0h0m11.5 0h0m5 0h0m2 0h0m14.9 0h0m13 0h0m4.5 0h0m4.9 0h0m1.5 0h0m5.5 0h0m2 0h0m3.5 0h0m2.5 0h0m41.9 0h0m8.9 0h0m10.5 0h0m17.4 0h0m7 0h0M86.8 285.0h0m122.1 0h0m10 0h0m15.9 0h0m7 0h0m1.5 0h0m8.5 0h0m1.4 0h0m0.5 0h0m5 0h0m0.5 0h0m1 0h0m11 0h0m2 0h0m2 0h0m2.5 0h0m3 0h0m5.4 0h0m1 0h0m3 0h0m2 0h0m1 0h0m0.5 0h0m2.5 0h0m3 0h0m2.5 0h0m0.5 0h0m2 0h0m6 0h0m1.9 0h0m3 0h0m0.5 0h0m0.5 0h0m1.5 0h0m1.5 0h0m1 0h0m0.5 0h0m0.5 0h0m1 0h0m2.5 0h0m1 0h0m0.5 0h0m0.5 0h0m1.5 0h0m1 0h0m0.5 0h0m0.5 0h0m0.5 0h0m0.5 0h0m1.5 0h0m0.5 0h0m1 0h0m0.5 0h0m0.5 0h0m0.5 0h0m1.5 0h0m0.5 0h0m1 0h0m0.5 0h0m0.5 0h0m2.9 0h0m1 0h0m0.5 0h0m0.5 0h0m1 0h0m6 0h0m2 0h0m0.5 0h0m4 0h0m1.5 0h0m0.5 0h0m2.5 0h0m3 0h0m5.4 0h0m6 0h0m0.5 0h0m7 0h0m5.5 0h0m2.5 0h0m6 0h0m4.9 0h0m4.5 0h0m1.5 0h0m8 0h0m3 0h0m17.4 0h0m27.4 0h0m0.5 0h0m5.5 0h0m18.9 0h0m4.5 0h0m13 0h0m28.4 0h0m9.9 0h0m6 0h0m4.5 0h0m1 0h0m2.5 0h0M86.3 282.1h0m5.5 0h0m6 0h0m21.9 0h0m0.5 0h0m11.5 0h0m0.5 0h0m3.9 0h0m3.5 0h0m1 0h0m9 0h0m10 0h0m12.4 0h0m5.5 0h0m7 0h0m28.9 0h0m0.5 0h0m6 0h0m1 0h0m32.3 0h0m2.5 0h0m0.5 0h0m6 0h0m3.5 0h0m11 0h0m1.5 0h0m4.9 0h0m3 0h0m3 0h0m4 0h0m1.5 0h0m5 0h0m2.5 0h0m0.5 0h0m3.5 0h0m2 0h0m1.5 0h0m1 0h0m0.4 0h0m1 0h0m1 0h0m1.5 0h0m1 0h0m1 0h0m2 0h0m0.5 0h0m1 0h0m0.5 0h0m1 0h0m0.5 0h0m3 0h0m0.5 0h0m3.5 0h0m3 0h0m1 0h0m1 0h0m0.5 0h0m1 0h0m0.5 0h0m1.5 0h0m0.5 0h0m0.5 0h0m0.5 0h0m0.5 0h0m0.5 0h0m0.4 0h0m3 0h0m1.5 0h0m4.5 0h0m0.5 0h0m1.5 0h0m2 0h0m0.5 0h0m0.5 0h0m0.5 0h0m3 0h0m4 0h0m0.5 0h0m2 0h0m2 0h0m1.5 0h0m2.9 0h0m0.5 0h0m4.5 0h0m6 0h0m11.5 0h0m2.5 0h0m4.4 0h0m7.5 0h0m12 0h0m9.4 0h0m36.9 0h0m7 0h0m9 0h0m12.4 0h0m28.4 0h0m8 0h0m5 0h0m1.5 0h0m17.9 0h0m2 0h0M78.8 279.2h0m14.5 0h0m16.4 0h0m5 0h0m30.9 0h0m16 0h0m6.9 0h0m8 0h0m32.4 0h0m9 0h0m2 0h0m4.4 0h0m1.5 0h0m27.4 0h0m1.5 0h0m27.4 0h0m4.5 0h0m1 0h0m4.5 0h0m1.5 0h0m1 0h0m1.5 0h0m2.5 0h0m1 0h0m0.5 0h0m2.5 0h0m1 0h0m1 0h0m1.5 0h0m0.5 0h0m1.5 0h0m1.5 0h0m0.5 0h0m0.9 0h0m1.5 0h0m3.5 0h0m2 0h0m0.5 0h0m0.5 0h0m0.5 0h0m0.5 0h0m2 0h0m2 0h0m1.5 0h0m2 0h0m0.5 0h0m0.5 0h0m0.5 0h0m1 0h0m0.5 0h0m1.5 0h0m0.5 0h0m0.5 0h0m2 0h0m0.5 0h0m0.5 0h0m0.5 0h0m2.5 0h0m0.5 0h0m0.9 0h0m0.5 0h0m1.5 0h0m0.5 0h0m0.5 0h0m1.5 0h0m1 0h0m0.5 0h0m1 0h0m0.5 0h0m3 0h0m2.5 0h0m0.5 0h0m1 0h0m0.5 0h0m1.5 0h0m2 0h0m3.5 0h0m0.5 0h0m2.5 0h0m3 0h0m2.9 0h0m2 0h0m1 0h0m5.5 0h0m8.5 0h0m10.9 0h0m28 0h0m10.9 0h0m1.5 0h0m0.5 0h0m6.5 0h0m14.4 0h0m5.5 0h0m19 0h0m48.3 0h0m18.9 0h0m14 0h0M90.3 276.3h0m15 0h0m0.9 0h0m30.4 0h0m4.5 0h0m2 0h0m13 0h0m6 0h0m10.4 0h0m1.5 0h0m9 0h0m2 0h0m5 0h0m2 0h0m8.9 0h0m6 0h0m3.5 0h0m2 0h0m1 0h0m1.5 0h0m14.9 0h0m2.5 0h0m0.5 0h0m6.5 0h0m3 0h0m9.9 0h0m1 0h0m6.5 0h0m10 0h0m3 0h0m3 0h0m3 0h0m2 0h0m0.9 0h0m2 0h0m1 0h0m0.5 0h0m4 0h0m0.5 0h0m0.5 0h0m1.5 0h0m2 0h0m0.5 0h0m3.5 0h0m1 0h0m2 0h0m1 0h0m1 0h0m2.5 0h0m0.5 0h0m1.5 0h0m1.5 0h0m0.5 0h0m1 0h0m0.9 0h0m1.5 0h0m0.5 0h0m1 0h0m1 0h0m0.5 0h0m1 0h0m0.5 0h0m1 0h0m0.5 0h0m1 0h0m0.5 0h0m1 0h0m1 0h0m0.5 0h0m0.5 0h0m0.5 0h0m0.5 0h0m2 0h0m0.5 0h0m0.5 0h0m0.5 0h0m0.5 0h0m0.5 0h0m0.5 0h0m0.5 0h0m0.5 0h0m0.5 0h0m0.5 0h0m0.5 0h0m0.5 0h0m1.5 0h0m0.5 0h0m1 0h0m0.5 0h0m1.5 0h0m0.5 0h0m1 0h0m0.5 0h0m1 0h0m1.4 0h0m1 0h0m0.5 0h0m0.5 0h0m0.5 0h0m1 0h0m0.5 0h0m1 0h0m0.5 0h0m0.5 0h0m1 0h0m2 0h0m2 0h0m1 0h0m0.5 0h0m0.5 0h0m0.5 0h0m1.5 0h0m1 0h0m1.5 0h0m2.5 0h0m3 0h0m1 0h0m0.5 0h0m0.5 0h0m0.5 0h0m4.4 0h0m0.5 0h0m2 0h0m5 0h0m3 0h0m1.5 0h0m1 0h0m3 0h0m7 0h0m9.4 0h0m2 0h0m2 0h0m1 0h0m3.5 0h0m2.5 0h0m3 0h0m4.5 0h0m5.9 0h0m5 0h0m7 0h0m11 0h0m7.4 0h0m5.5 0h0m1.5 0h0m16 0h0m22.9 0h0m8.5 0h0m5.4 0h0m6 0h0m10 0h0m1 0h0m5 0h0m8.4 0h0m1.5 0h0m3.5 0h0m13 0h0m4.5 0h0M98.3 273.4h0m1 0h0m40.8 0h0m4.5 0h0m17 0h0m1 0h0m12.4 0h0m37.9 0h0m2.5 0h0m23.4 0h0m19.4 0h0m17 0h0m7.4 0h0m2.5 0h0m3 0h0m10.5 0h0m0.5 0h0m1.5 0h0m2 0h0m4.5 0h0m5.4 0h0m2 0h0m1 0h0m1 0h0m1 0h0m0.5 0h0m1 0h0m0.5 0h0m0.5 0h0m0.5 0h0m0.5 0h0m0.5 0h0m1.5 0h0m0.5 0h0m1 0h0m0.5 0h0m0.5 0h0m1.5 0h0m0.5 0h0m0.5 0h0m1 0h0m3 0h0m1 0h0m1.5 0h0m1 0h0m0.5 0h0m0.5 0h0m0.5 0h0m1 0h0m1.5 0h0m0.5 0h0m0.4 0h0m1 0h0m0.5 0h0m0.5 0h0m0.5 0h0m1 0h0m1 0h0m1 0h0m1.5 0h0m1 0h0m1.5 0h0m0.5 0h0m1 0h0m1.5 0h0m5.5 0h0m2.5 0h0m1.5 0h0m2.5 0h0m0.5 0h0m2.5 0h0m2.9 0h0m4 0h0m1.5 0h0m4 0h0m1.5 0h0m10.5 0h0m12.9 0h0m4 0h0m5 0h0m20.4 0h0m5.5 0h0m1.5 0h0m5 0h0m1 0h0m12.9 0h0m26.9 0h0m7 0h0m6.5 0h0m6.5 0h0m4.5 0h0m33.8 0h0m1 0h0m2 0h0m5 0h0m3 0h0m3 0h0m11 0h0M81.8 270.5h0m17.5 0h0m9.4 0h0m1.5 0h0m1.5 0h0m35.9 0h0m2.5 0h0m21.4 0h0m12 0h0m5 0h0m9.4 0h0m2.5 0h0m1 0h0m3 0h0m3.5 0h0m14 0h0m4.4 0h0m7 0h0m3 0h0m3.5 0h0m1 0h0m11 0h0m10.4 0h0m1 0h0m3 0h0m0.5 0h0m0.5 0h0m3 0h0m2.5 0h0m5 0h0m1 0h0m0.5 0h0m2.4 0h0m4.5 0h0m0.5 0h0m1 0h0m0.5 0h0m0.5 0h0m1 0h0m1.5 0h0m1 0h0m1 0h0m2 0h0m0.5 0h0m0.5 0h0m0.5 0h0m2 0h0m2.5 0h0m1.5 0h0m0.5 0h0m2 0h0m0.5 0h0m2.5 0h0m1 0h0m1.9 0h0m0.5 0h0m1.5 0h0m0.5 0h0m0.5 0h0m0.5 0h0m1 0h0m0.5 0h0m0.5 0h0m0.5 0h0m0.5 0h0m0.5 0h0m0.5 0h0m0.5 0h0m0.5 0h0m0.5 0h0m0.5 0h0m0.5 0h0m1 0h0m0.5 0h0m0.5 0h0m0.5 0h0m1.5 0h0m0.5 0h0m0.5 0h0m0.5 0h0m0.5 0h0m0.5 0h0m1 0h0m0.5 0h0m0.5 0h0m0.5 0h0m0.5 0h0m0.5 0h0m0.5 0h0m0.5 0h0m0.5 0h0m1 0h0m0.5 0h0m1 0h0m1.5 0h0m1 0h0m0.5 0h0m0.5 0h0m1.9 0h0m1.5 0h0m1 0h0m2 0h0m1.5 0h0m0.5 0h0m1 0h0m0.5 0h0m2.5 0h0m1.5 0h0m0.5 0h0m1 0h0m0.5 0h0m0.5 0h0m0.5 0h0m0.5 0h0m0.5 0h0m0.5 0h0m0.5 0h0m2.5 0h0m2 0h0m2.5 0h0m1.5 0h0m2 0h0m0.5 0h0m0.5 0h0m5.9 0h0m2.5 0h0m9 0h0m13.9 0h0m7 0h0m1 0h0m4.5 0h0m7.5 0h0m10.9 0h0m5.5 0h0m6 0h0m22.4 0h0m5.5 0h0m7.5 0h0m3 0h0m21.4 0h0m14.9 0h0m6 0h0m17 0h0m11.9 0h0m6 0h0m7.5 0h0m0.5 0h0M83.8 267.6h0m30.9 0h0m21.4 0h0m4 0h0m2 0h0m5 0h0m35.4 0h0m46.8 0h0m5.5 0h0m1.5 0h0m3.5 0h0m0.5 0h0m10 0h0m5.4 0h0m7 0h0m0.5 0h0m11 0h0m4.5 0h0m3.4 0h0m1.5 0h0m1 0h0m1 0h0m2.5 0h0m1 0h0m0.5 0h0m1 0h0m2.5 0h0m2.5 0h0m0.5 0h0m2 0h0m1 0h0m1.5 0h0m2 0h0m0.5 0h0m2.5 0h0m0.5 0h0m0.5 0h0m0.5 0h0m0.5 0h0m0.5 0h0m1 0h0m1.9 0h0m0.5 0h0m0.5 0h0m0.5 0h0m1.5 0h0m1.5 0h0m1 0h0m0.5 0h0m1 0h0m1.5 0h0m0.5 0h0m0.5 0h0m0.5 0h0m0.5 0h0m1 0h0m0.5 0h0m0.5 0h0m0.5 0h0m0.5 0h0m0.5 0h0m0.5 0h0m1 0h0m0.5 0h0m2 0h0m0.5 0h0m1 0h0m0.5 0h0m1.5 0h0m0.5 0h0m0.5 0h0m0.5 0h0m0.5 0h0m1 0h0m1.5 0h0m0.5 0h0m0.5 0h0m0.5 0h0m0.5 0h0m1 0h0m4.9 0h0m0.5 0h0m2.5 0h0m0.5 0h0m0.5 0h0m4 0h0m1 0h0m3.5 0h0m3 0h0m1 0h0m0.5 0h0m1.5 0h0m1.5 0h0m3 0h0m0.5 0h0m14.4 0h0m8 0h0m1.5 0h0m2 0h0m1 0h0m8.4 0h0m1.5 0h0m7 0h0m1.5 0h0m4.5 0h0m2.5 0h0m3.5 0h0m3.9 0h0m22 0h0m6 0h0m11.4 0h0m21.9 0h0m11.5 0h0m41.4 0h0m0.5 0h0M83.3 264.7h0m25.4 0h0m9 0h0m9 0h0m5.5 0h0m19.4 0h0m18.4 0h0m22 0h0m22.4 0h0m13.4 0h0m11 0h0m16.9 0h0m16 0h0m4 0h0m1.5 0h0m5.9 0h0m6.5 0h0m2.5 0h0m3.5 0h0m2.5 0h0m1 0h0m3.5 0h0m3.5 0h0m0.5 0h0m1 0h0m0.5 0h0m0.5 0h0m0.5 0h0m0.5 0h0m0.5 0h0m1.4 0h0m1 0h0m0.5 0h0m3 0h0m0.5 0h0m2 0h0m1 0h0m1 0h0m0.5 0h0m4 0h0m0.5 0h0m1.5 0h0m0.5 0h0m0.5 0h0m0.5 0h0m0.5 0h0m0.5 0h0m0.5 0h0m2.5 0h0m1 0h0m1 0h0m0.5 0h0m0.5 0h0m2 0h0m2.5 0h0m0.4 0h0m2 0h0m1.5 0h0m2.5 0h0m4.5 0h0m2 0h0m1 0h0m0.5 0h0m5.5 0h0m2 0h0m0.5 0h0m3 0h0m0.5 0h0m0.5 0h0m2 0h0m2.4 0h0m4 0h0m0.5 0h0m9.5 0h0m6.5 0h0m1 0h0m1 0h0m21.4 0h0m17.4 0h0m26.4 0h0m5 0h0m18.5 0h0m3 0h0m1 0h0m35.3 0h0m8 0h0m2.5 0h0m3.5 0h0m23.4 0h0m2 0h0M82.3 261.8h0m15.5 0h0m7.5 0h0m3.9 0h0m4.5 0h0m8 0h0m2 0h0m4.5 0h0m30.9 0h0m18.4 0h0m10.5 0h0m25.9 0h0m5.5 0h0m8.9 0h0m0.5 0h0m1.5 0h0m1.5 0h0m4 0h0m1 0h0m1 0h0m0.5 0h0m16.4 0h0m1 0h0m5 0h0m5 0h0m2 0h0m1.5 0h0m1.5 0h0m3 0h0m2 0h0m5 0h0m0.5 0h0m1.4 0h0m2 0h0m3.5 0h0m2 0h0m1 0h0m0.5 0h0m1 0h0m2 0h0m0.5 0h0m0.5 0h0m0.5 0h0m2.5 0h0m0.5 0h0m1.5 0h0m0.5 0h0m0.5 0h0m0.5 0h0m0.5 0h0m0.5 0h0m0.5 0h0m0.5 0h0m0.5 0h0m2.5 0h0m1 0h0m0.5 0h0m0.5 0h0m0.5 0h0m0.5 0h0m0.9 0h0m0.5 0h0m0.5 0h0m0.5 0h0m1 0h0m0.5 0h0m1.5 0h0m1 0h0m1 0h0m1 0h0m0.5 0h0m1 0h0m0.5 0h0m0.5 0h0m0.5 0h0m0.5 0h0m0.5 0h0m0.5 0h0m0.5 0h0m0.5 0h0m0.5 0h0m0.5 0h0m0.5 0h0m0.5 0h0m1 0h0m1 0h0m0.5 0h0m0.5 0h0m0.5 0h0m0.5 0h0m0.5 0h0m1 0h0m0.5 0h0m1 0h0m1 0h0m1 0h0m0.5 0h0m0.5 0h0m1 0h0m0.5 0h0m1 0h0m0.5 0h0m1.4 0h0m0.5 0h0m0.5 0h0m1 0h0m0.5 0h0m0.5 0h0m1 0h0m0.5 0h0m2 0h0m1.5 0h0m1 0h0m0.5 0h0m0.5 0h0m1 0h0m0.5 0h0m1 0h0m0.5 0h0m0.5 0h0m1 0h0m0.5 0h0m1.5 0h0m2 0h0m1 0h0m0.5 0h0m1.5 0h0m1 0h0m1 0h0m1.5 0h0m1 0h0m0.5 0h0m2 0h0m2.9 0h0m0.5 0h0m1 0h0m0.5 0h0m1 0h0m1 0h0m3.5 0h0m0.5 0h0m1.5 0h0m0.5 0h0m2 0h0m4 0h0m1.5 0h0m1.5 0h0m0.5 0h0m1.5 0h0m2.5 0h0m1.5 0h0m2.4 0h0m3 0h0m6.5 0h0m2.5 0h0m13.5 0h0m1 0h0m7.4 0h0m8 0h0m1.5 0h0m15.9 0h0m22 0h0m6.4 0h0m2.5 0h0m5.5 0h0m10 0h0m8.5 0h0m1.5 0h0m6.4 0h0m24.9 0h0m10 0h0m4.5 0h0m4 0h0M92.8 258.9h0m6 0h0m13.4 0h0m19 0h0m1 0h0m13.4 0h0m18 0h0m24.4 0h0m20.4 0h0m6.5 0h0m1 0h0m17.4 0h0m11.5 0h0m3 0h0m3.5 0h0m9.9 0h0m6.5 0h0m9 0h0m1.5 0h0m1 0h0m1 0h0m1.9 0h0m0.5 0h0m1.5 0h0m2.5 0h0m1.5 0h0m1 0h0m1 0h0m2 0h0m0.5 0h0m8 0h0m0.5 0h0m0.5 0h0m0.5 0h0m3.5 0h0m2.5 0h0m1 0h0m1 0h0m0.9 0h0m1 0h0m0.5 0h0m2 0h0m0.5 0h0m1 0h0m0.5 0h0m1.5 0h0m0.5 0h0m0.5 0h0m1.5 0h0m1.5 0h0m1.5 0h0m0.5 0h0m1 0h0m0.5 0h0m0.5 0h0m0.5 0h0m0.5 0h0m0.5 0h0m0.5 0h0m1 0h0m1 0h0m1 0h0m0.5 0h0m0.5 0h0m0.5 0h0m0.5 0h0m0.5 0h0m0.5 0h0m1 0h0m0.5 0h0m0.5 0h0m1.5 0h0m1.5 0h0m0.5 0h0m1.4 0h0m0.5 0h0m0.5 0h0m1 0h0m0.5 0h0m0.5 0h0m1 0h0m1 0h0m0.5 0h0m2.5 0h0m0.5 0h0m1 0h0m2 0h0m3.5 0h0m0.5 0h0m3.5 0h0m0.5 0h0m5 0h0m5.4 0h0m4.5 0h0m0.5 0h0m1.5 0h0m1.5 0h0m0.5 0h0m9 0h0m7.5 0h0m3 0h0m1.4 0h0m5 0h0m2.5 0h0m10 0h0m7 0h0m6.4 0h0m0.5 0h0m5.5 0h0m6 0h0m3.5 0h0m2 0h0m36.9 0h0m6.9 0h0m2 0h0m6.5 0h0m9.5 0h0m39.3 0h0m1 0h0m4.5 0h0m3 0h0m11 0h0m2 0h0m1.5 0h0M89.8 256.0h0m14.5 0h0m41.8 0h0m21.9 0h0m24.5 0h0m17.9 0h0m1 0h0m19.9 0h0m8.5 0h0m23.9 0h0m3 0h0m2.5 0h0m3.5 0h0m1 0h0m4.5 0h0m2.5 0h0m3.9 0h0m3.5 0h0m12.5 0h0m2.5 0h0m0.5 0h0m1 0h0m2 0h0m0.5 0h0m0.5 0h0m0.5 0h0m1 0h0m1.5 0h0m0.4 0h0m1 0h0m1 0h0m1.5 0h0m0.5 0h0m0.5 0h0m0.5 0h0m0.5 0h0m1 0h0m2 0h0m3 0h0m1 0h0m0.5 0h0m1 0h0m1.5 0h0m0.5 0h0m0.5 0h0m1 0h0m0.5 0h0m0.5 0h0m0.5 0h0m0.5 0h0m0.5 0h0m1 0h0m0.5 0h0m0.5 0h0m2.5 0h0m1.5 0h0m0.5 0h0m4.4 0h0m1.5 0h0m1.5 0h0m1.5 0h0m1 0h0m1.5 0h0m0.5 0h0m5.5 0h0m1 0h0m1.5 0h0m3 0h0m3.5 0h0m4.5 0h0m0.5 0h0m2.4 0h0m5.5 0h0m0.5 0h0m18 0h0m3.9 0h0m2 0h0m15.5 0h0m0.5 0h0m27.9 0h0m8 0h0m1.5 0h0m49.3 0h0m10 0h0m5.9 0h0m11.5 0h0m1.5 0h0m20.9 0h0m9.5 0h0m8 0h0M90.3 253.1h0m0.5 0h0m13.5 0h0m12.9 0h0m15.5 0h0m2 0h0m16.4 0h0m44.3 0h0m17.5 0h0m1 0h0m4 0h0m9.4 0h0m16 0h0m7.5 0h0m8.4 0h0m10 0h0m3.5 0h0m3 0h0m4 0h0m1.9 0h0m4 0h0m1 0h0m2.5 0h0m2 0h0m0.5 0h0m5.5 0h0m2.5 0h0m3 0h0m0.5 0h0m0.5 0h0m0.5 0h0m1.5 0h0m1 0h0m0.5 0h0m1 0h0m1 0h0m1 0h0m0.9 0h0m0.5 0h0m0.5 0h0m1 0h0m0.5 0h0m0.5 0h0m0.5 0h0m1 0h0m0.5 0h0m3 0h0m0.5 0h0m0.5 0h0m1 0h0m0.5 0h0m0.5 0h0m0.5 0h0m0.5 0h0m0.5 0h0m1 0h0m0.5 0h0m4 0h0m0.5 0h0m0.5 0h0m0.5 0h0m0.5 0h0m0.5 0h0m0.5 0h0m0.5 0h0m0.5 0h0m1 0h0m0.5 0h0m0.5 0h0m0.5 0h0m1 0h0m0.5 0h0m0.5 0h0m1 0h0m0.5 0h0m0.5 0h0m0.9 0h0m1.5 0h0m0.5 0h0m2 0h0m0.5 0h0m3.5 0h0m2.5 0h0m6.5 0h0m1.5 0h0m4 0h0m0.5 0h0m5 0h0m1 0h0m0.9 0h0m17.5 0h0m7.5 0h0m28.9 0h0m9.9 0h0m6 0h0m24.9 0h0m16.5 0h0m7.9 0h0m24 0h0m1 0h0m53.3 0h0M102.8 250.2h0m14.4 0h0m5 0h0m26.9 0h0m1 0h0m3.5 0h0m1 0h0m4 0h0m0.5 0h0m2 0h0m1.5 0h0m12.4 0h0m8 0h0m4 0h0m8.9 0h0m11.5 0h0m4.5 0h0m4.5 0h0m8.9 0h0m1.5 0h0m9 0h0m1 0h0m10 0h0m7.4 0h0m2 0h0m1.5 0h0m0.5 0h0m1.5 0h0m9.5 0h0m6.5 0h0m1 0h0m5.9 0h0m2 0h0m0.5 0h0m1.5 0h0m1.5 0h0m1 0h0m1 0h0m2 0h0m1.5 0h0m3 0h0m1 0h0m0.5 0h0m1.5 0h0m0.5 0h0m1 0h0m1 0h0m0.5 0h0m1.5 0h0m0.5 0h0m1.5 0h0m1 0h0m0.5 0h0m0.5 0h0m0.5 0h0m0.5 0h0m0.5 0h0m1 0h0m0.4 0h0m0.5 0h0m0.5 0h0m1 0h0m1.5 0h0m1 0h0m0.5 0h0m0.5 0h0m0.5 0h0m0.5 0h0m0.5 0h0m0.5 0h0m0.5 0h0m0.5 0h0m0.5 0h0m1 0h0m0.5 0h0m0.5 0h0m0.5 0h0m1.5 0h0m0.5 0h0m0.5 0h0m1 0h0m0.5 0h0m0.5 0h0m0.5 0h0m1 0h0m0.5 0h0m0.5 0h0m0.5 0h0m0.5 0h0m0.5 0h0m0.5 0h0m0.5 0h0m1 0h0m0.5 0h0m0.5 0h0m0.5 0h0m0.5 0h0m0.5 0h0m0.5 0h0m0.5 0h0m0.5 0h0m0.5 0h0m0.5 0h0m0.5 0h0m1 0h0m0.9 0h0m2 0h0m0.5 0h0m0.5 0h0m0.5 0h0m0.5 0h0m0.5 0h0m2.5 0h0m2.5 0h0m1 0h0m1 0h0m1.5 0h0m1 0h0m1.5 0h0m0.5 0h0m0.5 0h0m0.5 0h0m1 0h0m2 0h0m3.5 0h0m3.5 0h0m0.5 0h0m1 0h0m0.9 0h0m0.5 0h0m1 0h0m2 0h0m1.5 0h0m0.5 0h0m1 0h0m2.5 0h0m2.5 0h0m2 0h0m3.5 0h0m0.5 0h0m3.5 0h0m0.5 0h0m4 0h0m1 0h0m1 0h0m1.9 0h0m1.5 0h0m9.5 0h0m1 0h0m2 0h0m8.5 0h0m9.4 0h0m9.5 0h0m1.5 0h0m5 0h0m5 0h0m15.9 0h0m2 0h0m0.5 0h0m12.5 0h0m2 0h0m8.4 0h0m10.5 0h0m4.5 0h0m29.9 0h0m3 0h0m1.5 0h0m14.9 0h0M80.3 247.3h0m8 0h0m1.5 0h0m8 0h0m4 0h0m5.4 0h0m1 0h0m10 0h0m27.9 0h0m5.5 0h0m14.9 0h0m6.5 0h0m1.5 0h0m5.5 0h0m2.5 0h0m28.9 0h0m2 0h0m5 0h0m22.9 0h0m10.5 0h0m6.4 0h0m1 0h0m2 0h0m1 0h0m2.5 0h0m5.5 0h0m2.5 0h0m0.5 0h0m8.4 0h0m3.5 0h0m2.5 0h0m0.5 0h0m1 0h0m1 0h0m1 0h0m3 0h0m1 0h0m0.5 0h0m0.5 0h0m0.5 0h0m1 0h0m1.5 0h0m0.5 0h0m2.5 0h0m1 0h0m1 0h0m0.5 0h0m0.5 0h0m1.5 0h0m0.5 0h0m0.5 0h0m1 0h0m0.5 0h0m1 0h0m0.5 0h0m0.4 0h0m0.5 0h0m1.5 0h0m0.5 0h0m1 0h0m0.5 0h0m0.5 0h0m1 0h0m0.5 0h0m0.5 0h0m1 0h0m1 0h0m0.5 0h0m0.5 0h0m0.5 0h0m0.5 0h0m0.5 0h0m0.5 0h0m0.5 0h0m0.5 0h0m0.5 0h0m0.5 0h0m0.5 0h0m0.5 0h0m0.5 0h0m0.5 0h0m0.5 0h0m0.5 0h0m0.5 0h0m1.5 0h0m0.5 0h0m1 0h0m0.5 0h0m0.5 0h0m0.5 0h0m0.5 0h0m0.5 0h0m0.5 0h0m1 0h0m0.5 0h0m1 0h0m0.5 0h0m1 0h0m1 0h0m1.9 0h0m0.5 0h0m0.5 0h0m0.5 0h0m1 0h0m0.5 0h0m0.5 0h0m0.5 0h0m1.5 0h0m2 0h0m1 0h0m2.5 0h0m3.5 0h0m2.5 0h0m1.5 0h0m0.5 0h0m0.5 0h0m1 0h0m1.5 0h0m1.5 0h0m1 0h0m3 0h0m0.5 0h0m0.5 0h0m0.9 0h0m6.5 0h0m1 0h0m2.5 0h0m1.5 0h0m2 0h0m1.5 0h0m0.5 0h0m1 0h0m1 0h0m0.5 0h0m0.5 0h0m1.5 0h0m3.5 0h0m1 0h0m4.4 0h0m0.5 0h0m5.5 0h0m18 0h0m3 0h0m2.4 0h0m0.5 0h0m1 0h0m0.5 0h0m2.5 0h0m3.5 0h0m2.5 0h0m6 0h0m3.5 0h0m16.9 0h0m18 0h0m4.9 0h0m3 0h0m8 0h0m2 0h0m7 0h0m3.5 0h0m1.5 0h0m20.4 0h0m5.5 0h0m19.9 0h0m11 0h0m1.5 0h0M78.8 244.4h0m0.5 0h0m6 0h0m19 0h0m7.9 0h0m16.5 0h0m14.4 0h0m11.5 0h0m23.9 0h0m19.9 0h0m39.9 0h0m5.5 0h0m0.5 0h0m4 0h0m3 0h0m6.4 0h0m10 0h0m4 0h0m2.5 0h0m3 0h0m7.9 0h0m2 0h0m2 0h0m1 0h0m2.5 0h0m0.5 0h0m2 0h0m0.5 0h0m1.5 0h0m1 0h0m0.5 0h0m0.5 0h0m2 0h0m1 0h0m0.5 0h0m0.5 0h0m0.5 0h0m0.5 0h0m1.5 0h0m2.5 0h0m1 0h0m0.5 0h0m0.5 0h0m1.9 0h0m0.5 0h0m0.5 0h0m0.5 0h0m1.5 0h0m0.5 0h0m0.5 0h0m0.5 0h0m0.5 0h0m0.5 0h0m0.5 0h0m0.5 0h0m1 0h0m2 0h0m0.5 0h0m0.5 0h0m0.5 0h0m0.5 0h0m0.5 0h0m1.5 0h0m0.5 0h0m0.5 0h0m1 0h0m1.5 0h0m0.5 0h0m0.5 0h0m1.5 0h0m1 0h0m0.5 0h0m0.5 0h0m0.5 0h0m0.5 0h0m0.5 0h0m0.5 0h0m1 0h0m0.5 0h0m1.5 0h0m0.5 0h0m1.4 0h0m0.5 0h0m1 0h0m1 0h0m1.5 0h0m1 0h0m0.5 0h0m2 0h0m0.5 0h0m1.5 0h0m1 0h0m2 0h0m1 0h0m1 0h0m1 0h0m0.5 0h0m1.5 0h0m0.5 0h0m0.5 0h0m1.5 0h0m3.5 0h0m1.5 0h0m3 0h0m0.5 0h0m3.9 0h0m2 0h0m1.5 0h0m1.5 0h0m4 0h0m1 0h0m2 0h0m0.5 0h0m5 0h0m5 0h0m4.4 0h0m7.5 0h0m9 0h0m2 0h0m1 0h0m3.5 0h0m12.4 0h0m1 0h0m1.5 0h0m14.5 0h0m4 0h0m1.9 0h0m2 0h0m17 0h0m17.4 0h0m11.5 0h0m3.5 0h0m1 0h0m16.9 0h0m0.5 0h0m3 0h0m14.5 0h0m1.9 0h0m17 0h0m2.5 0h0m1.5 0h0M79.3 241.5h0m1 0h0m8.5 0h0m23.4 0h0m1.5 0h0m3 0h0m3 0h0m9 0h0m1 0h0m1.5 0h0m38.3 0h0m0.5 0h0m18.5 0h0m2 0h0m3.4 0h0m9.5 0h0m13 0h0m25.4 0h0m3 0h0m4.5 0h0m4.9 0h0m1.5 0h0m2.5 0h0m4 0h0m0.5 0h0m3.5 0h0m7 0h0m1 0h0m0.5 0h0m2.5 0h0m1 0h0m3 0h0m0.9 0h0m0.5 0h0m4 0h0m2 0h0m1.5 0h0m0.5 0h0m0.5 0h0m2.5 0h0m0.5 0h0m3.5 0h0m0.5 0h0m0.5 0h0m1.5 0h0m1 0h0m0.5 0h0m2 0h0m0.5 0h0m1.5 0h0m0.5 0h0m0.5 0h0m0.5 0h0m1.5 0h0m2.9 0h0m0.5 0h0m0.5 0h0m2 0h0m1 0h0m0.5 0h0m2 0h0m0.5 0h0m0.5 0h0m0.5 0h0m0.5 0h0m0.5 0h0m1 0h0m0.5 0h0m1 0h0m0.5 0h0m0.5 0h0m0.5 0h0m0.5 0h0m1 0h0m0.5 0h0m0.5 0h0m0.5 0h0m1.5 0h0m0.5 0h0m0.5 0h0m0.5 0h0m0.5 0h0m3 0h0m1.5 0h0m1 0h0m1 0h0m0.5 0h0m0.5 0h0m0.5 0h0m0.5 0h0m0.9 0h0m0.5 0h0m1 0h0m1 0h0m2 0h0m0.5 0h0m0.5 0h0m1 0h0m1.5 0h0m0.5 0h0m0.5 0h0m0.5 0h0m0.5 0h0m1 0h0m0.5 0h0m1 0h0m0.5 0h0m0.5 0h0m2.5 0h0m0.5 0h0m1 0h0m1.5 0h0m1.5 0h0m1.5 0h0m0.5 0h0m2 0h0m1 0h0m0.5 0h0m0.5 0h0m1.5 0h0m1.9 0h0m1.5 0h0m4.5 0h0m1.5 0h0m2 0h0m5 0h0m0.5 0h0m1.5 0h0m5.5 0h0m1.5 0h0m8.4 0h0m7 0h0m2 0h0m28.9 0h0m12 0h0m0.5 0h0m6.9 0h0m7.5 0h0m9 0h0m0.5 0h0m2 0h0m10.9 0h0m2 0h0m5 0h0m31.9 0h0m6.5 0h0m2 0h0m13.9 0h0m3 0h0m10.5 0h0m6 0h0M86.3 238.6h0m1 0h0m4 0h0m17.9 0h0m4.5 0h0m9.5 0h0m5.5 0h0m9.4 0h0m9 0h0m10.5 0h0m10.9 0h0m1 0h0m0.5 0h0m14 0h0m4.5 0h0m8.4 0h0m1 0h0m6 0h0m1.5 0h0m1.5 0h0m17.4 0h0m11 0h0m14 0h0m13.9 0h0m1 0h0m5 0h0m5.5 0h0m1 0h0m1 0h0m4 0h0m1.9 0h0m1 0h0m4.5 0h0m0.5 0h0m1 0h0m0.5 0h0m1.5 0h0m1.5 0h0m0.5 0h0m0.5 0h0m0.5 0h0m1 0h0m0.5 0h0m1 0h0m0.5 0h0m0.5 0h0m2 0h0m2.5 0h0m1 0h0m0.5 0h0m1 0h0m3.5 0h0m0.5 0h0m0.5 0h0m1.4 0h0m1 0h0m1 0h0m0.5 0h0m0.5 0h0m0.5 0h0m1 0h0m0.5 0h0m0.5 0h0m1 0h0m0.5 0h0m0.5 0h0m1 0h0m1 0h0m0.5 0h0m1 0h0m0.5 0h0m0.5 0h0m1 0h0m0.5 0h0m1 0h0m0.5 0h0m0.5 0h0m0.5 0h0m0.5 0h0m0.5 0h0m1 0h0m0.5 0h0m0.5 0h0m1.5 0h0m1 0h0m0.5 0h0m0.5 0h0m0.5 0h0m0.5 0h0m0.5 0h0m0.5 0h0m0.5 0h0m0.5 0h0m0.5 0h0m1.5 0h0m1 0h0m0.9 0h0m1.5 0h0m0.5 0h0m0.5 0h0m1 0h0m0.5 0h0m1 0h0m2 0h0m1 0h0m0.5 0h0m2.5 0h0m0.5 0h0m0.5 0h0m0.5 0h0m1 0h0m1.5 0h0m1.5 0h0m0.5 0h0m0.5 0h0m0.5 0h0m1.5 0h0m0.5 0h0m1.5 0h0m0.5 0h0m2 0h0m0.5 0h0m2 0h0m0.5 0h0m1 0h0m1.4 0h0m2.5 0h0m2 0h0m0.5 0h0m0.5 0h0m1.5 0h0m1 0h0m0.5 0h0m2 0h0m7.5 0h0m1 0h0m1 0h0m2.5 0h0m9.4 0h0m5 0h0m1 0h0m1.5 0h0m0.5 0h0m11 0h0m9.9 0h0m1.5 0h0m3 0h0m1 0h0m34.9 0h0m13.5 0h0m20.4 0h0m3 0h0m4.5 0h0m6.9 0h0m4.5 0h0m15 0h0m13.4 0h0m4.5 0h0m12.5 0h0M86.8 235.7h0m24.9 0h0m24.9 0h0m2.5 0h0m8 0h0m39.9 0h0m2 0h0m9.9 0h0m5 0h0m23.9 0h0m20 0h0m1.5 0h0m1.5 0h0m18.4 0h0m13.4 0h0m3.5 0h0m0.5 0h0m6.5 0h0m0.5 0h0m2.5 0h0m5.5 0h0m0.5 0h0m1.5 0h0m1 0h0m0.5 0h0m0.5 0h0m0.5 0h0m1.5 0h0m1 0h0m1.5 0h0m0.5 0h0m0.4 0h0m0.5 0h0m3.5 0h0m0.5 0h0m0.5 0h0m1 0h0m0.5 0h0m0.5 0h0m0.5 0h0m1.5 0h0m0.5 0h0m0.5 0h0m0.5 0h0m0.5 0h0m0.5 0h0m3.5 0h0m2 0h0m0.5 0h0m0.5 0h0m0.5 0h0m0.5 0h0m1.5 0h0m1 0h0m0.5 0h0m0.5 0h0m0.5 0h0m1 0h0m1.5 0h0m0.5 0h0m3.4 0h0m2 0h0m0.5 0h0m1 0h0m2 0h0m0.5 0h0m0.5 0h0m1 0h0m1 0h0m0.5 0h0m0.5 0h0m1 0h0m3 0h0m2 0h0m1 0h0m1 0h0m2.5 0h0m1 0h0m0.5 0h0m0.5 0h0m0.5 0h0m1.5 0h0m3 0h0m1 0h0m8.4 0h0m7 0h0m4.5 0h0m7 0h0m4.9 0h0m25 0h0m4.4 0h0m5 0h0m3 0h0m4 0h0m15.5 0h0m3.9 0h0m29.4 0h0m0.5 0h0m1.5 0h0m0.5 0h0m6.5 0h0m14.5 0h0m6.9 0h0m8.5 0h0m7.5 0h0m18.4 0h0m10 0h0m5 0h0M83.3 232.8h0m30.9 0h0m8 0h0m5.5 0h0m3 0h0m10.9 0h0m22 0h0m23.4 0h0m6 0h0m19.9 0h0m1 0h0m14.4 0h0m2 0h0m3 0h0m5 0h0m4.5 0h0m3 0h0m16.9 0h0m2.5 0h0m1.5 0h0m2 0h0m2 0h0m4 0h0m1.5 0h0m0.5 0h0m0.5 0h0m1.5 0h0m2.5 0h0m0.4 0h0m1 0h0m3 0h0m1 0h0m1.5 0h0m4 0h0m3 0h0m0.5 0h0m1 0h0m2 0h0m4 0h0m0.5 0h0m3.5 0h0m1 0h0m0.5 0h0m1 0h0m0.5 0h0m1 0h0m0.9 0h0m2 0h0m0.5 0h0m1.5 0h0m1 0h0m0.5 0h0m1 0h0m0.5 0h0m0.5 0h0m0.5 0h0m0.5 0h0m1 0h0m0.5 0h0m0.5 0h0m0.5 0h0m0.5 0h0m0.5 0h0m1 0h0m0.5 0h0m1 0h0m1 0h0m0.5 0h0m0.5 0h0m0.5 0h0m0.5 0h0m2 0h0m0.5 0h0m0.5 0h0m1 0h0m0.5 0h0m1.5 0h0m1 0h0m1 0h0m1 0h0m0.5 0h0m0.5 0h0m0.5 0h0m0.9 0h0m1 0h0m0.5 0h0m2 0h0m0.5 0h0m2.5 0h0m1.5 0h0m1.5 0h0m1 0h0m1 0h0m0.5 0h0m1 0h0m0.5 0h0m1 0h0m1.5 0h0m1 0h0m3 0h0m1.5 0h0m1 0h0m1.5 0h0m0.5 0h0m3.5 0h0m1.9 0h0m2 0h0m0.5 0h0m2 0h0m5.5 0h0m0.5 0h0m9 0h0m9.4 0h0m5 0h0m17 0h0m1 0h0m3.5 0h0m8.9 0h0m5 0h0m16 0h0m3.9 0h0m3.5 0h0m5.5 0h0m20.4 0h0m15 0h0m21.9 0h0m9 0h0m1.5 0h0m0.5 0h0m5.5 0h0m3.9 0h0m5.5 0h0M96.3 229.9h0m22.9 0h0m38.4 0h0m47.3 0h0m1.5 0h0m33.4 0h0m7 0h0m7.9 0h0m15.5 0h0m0.5 0h0m1 0h0m5.5 0h0m2 0h0m1 0h0m1.9 0h0m4.5 0h0m0.5 0h0m4 0h0m0.5 0h0m1.5 0h0m1.5 0h0m1 0h0m0.5 0h0m0.5 0h0m1.5 0h0m2 0h0m2.5 0h0m1 0h0m1 0h0m0.5 0h0m2.5 0h0m1.5 0h0m0.5 0h0m1.4 0h0m0.5 0h0m1.5 0h0m1 0h0m1 0h0m0.5 0h0m2.5 0h0m0.5 0h0m1 0h0m1 0h0m0.5 0h0m0.5 0h0m0.5 0h0m1 0h0m0.5 0h0m0.5 0h0m0.5 0h0m1 0h0m0.5 0h0m0.5 0h0m1 0h0m1 0h0m0.5 0h0m0.5 0h0m0.5 0h0m0.5 0h0m0.5 0h0m0.5 0h0m0.5 0h0m0.5 0h0m1 0h0m0.5 0h0m0.5 0h0m0.5 0h0m0.5 0h0m0.5 0h0m2.5 0h0m1 0h0m2.4 0h0m0.5 0h0m2.5 0h0m1.5 0h0m0.5 0h0m2 0h0m1 0h0m0.5 0h0m5 0h0m0.5 0h0m1 0h0m1.5 0h0m2 0h0m2 0h0m2 0h0m3.5 0h0m0.5 0h0m1.4 0h0m6.5 0h0m1 0h0m1 0h0m16 0h0m5.9 0h0m4 0h0m1 0h0m15 0h0m3 0h0m0.5 0h0m16.4 0h0m1.5 0h0m2 0h0m9 0h0m0.5 0h0m4.9 0h0m8.5 0h0m36.4 0h0m45.8 0h0m22 0h0m0.5 0h0M82.8 227.0h0m18.5 0h0m16.9 0h0m0.5 0h0m20.9 0h0m0.5 0h0m38.9 0h0m24.4 0h0m5 0h0m36.9 0h0m6.9 0h0m13.5 0h0m3 0h0m4.5 0h0m6 0h0m9.9 0h0m0.5 0h0m1.5 0h0m1 0h0m3 0h0m1.5 0h0m3 0h0m1.5 0h0m0.5 0h0m3.5 0h0m1.5 0h0m1.5 0h0m1 0h0m0.5 0h0m1.9 0h0m1.5 0h0m0.5 0h0m1.5 0h0m0.5 0h0m1.5 0h0m0.5 0h0m1 0h0m0.5 0h0m0.5 0h0m0.5 0h0m1 0h0m0.5 0h0m0.5 0h0m0.5 0h0m1 0h0m0.5 0h0m0.5 0h0m1.5 0h0m0.5 0h0m1 0h0m1.5 0h0m0.5 0h0m1 0h0m3 0h0m1.5 0h0m0.5 0h0m0.5 0h0m0.5 0h0m1 0h0m1.5 0h0m0.5 0h0m1.4 0h0m1 0h0m0.5 0h0m3 0h0m2.5 0h0m0.5 0h0m0.5 0h0m1 0h0m1 0h0m0.5 0h0m3 0h0m0.5 0h0m1.5 0h0m1 0h0m1.5 0h0m0.5 0h0m1 0h0m4.5 0h0m1.5 0h0m2.5 0h0m1.9 0h0m1.5 0h0m1.5 0h0m11 0h0m0.5 0h0m4.5 0h0m5 0h0m19.4 0h0m28.4 0h0m12.5 0h0m8.4 0h0m27.4 0h0m19.5 0h0m3 0h0m43.3 0h0M112.7 224.1h0m9.5 0h0m12.9 0h0m20 0h0m19.9 0h0m4 0h0m1.5 0h0m0.5 0h0m8.5 0h0m4.9 0h0m26 0h0m19.9 0h0m3.5 0h0m7.5 0h0m11.9 0h0m7 0h0m3.5 0h0m1 0h0m2 0h0m1 0h0m4.9 0h0m1.5 0h0m4.5 0h0m0.5 0h0m1 0h0m2.5 0h0m2 0h0m6 0h0m2 0h0m1.5 0h0m0.5 0h0m2.5 0h0m2 0h0m1.9 0h0m1.5 0h0m1 0h0m0.5 0h0m1 0h0m0.5 0h0m1 0h0m1.5 0h0m1.5 0h0m1.5 0h0m0.5 0h0m0.5 0h0m0.5 0h0m0.5 0h0m0.5 0h0m1.5 0h0m0.5 0h0m0.5 0h0m0.5 0h0m1 0h0m0.5 0h0m1 0h0m0.5 0h0m1.5 0h0m0.5 0h0m2.5 0h0m1 0h0m0.5 0h0m0.5 0h0m3.5 0h0m0.9 0h0m2 0h0m0.5 0h0m1 0h0m1 0h0m1.5 0h0m1 0h0m0.5 0h0m1 0h0m0.5 0h0m0.5 0h0m1 0h0m1.5 0h0m3 0h0m3.5 0h0m1.5 0h0m5 0h0m0.5 0h0m0.5 0h0m1 0h0m3.4 0h0m0.5 0h0m0.5 0h0m6 0h0m4 0h0m6 0h0m0.5 0h0m1.5 0h0m3 0h0m3.5 0h0m0.5 0h0m33.3 0h0m5 0h0m37.4 0h0m4.5 0h0m33.4 0h0m1 0h0m14.4 0h0m28.4 0h0m5 0h0m5.5 0h0M84.3 221.2h0m9 0h0m62.8 0h0m3.5 0h0m8.4 0h0m3.5 0h0m5 0h0m22.4 0h0m3 0h0m24.9 0h0m2.5 0h0m1.5 0h0m12.5 0h0m29.4 0h0m2 0h0m6 0h0m1.4 0h0m5 0h0m2.5 0h0m1 0h0m1.5 0h0m7 0h0m1 0h0m0.5 0h0m0.5 0h0m0.5 0h0m0.5 0h0m0.5 0h0m1.5 0h0m0.5 0h0m3 0h0m0.5 0h0m2 0h0m0.5 0h0m0.4 0h0m1.5 0h0m2 0h0m0.5 0h0m0.5 0h0m1.5 0h0m1 0h0m1.5 0h0m0.5 0h0m1.5 0h0m0.5 0h0m0.5 0h0m0.5 0h0m0.5 0h0m0.5 0h0m1 0h0m0.5 0h0m1 0h0m0.5 0h0m0.5 0h0m0.5 0h0m0.5 0h0m0.5 0h0m1 0h0m1 0h0m0.5 0h0m1 0h0m0.5 0h0m0.5 0h0m0.5 0h0m0.5 0h0m0.5 0h0m1 0h0m1.5 0h0m0.5 0h0m1 0h0m2.9 0h0m2 0h0m2 0h0m0.5 0h0m2 0h0m1 0h0m1 0h0m1.5 0h0m1 0h0m1 0h0m1 0h0m0.5 0h0m0.5 0h0m0.5 0h0m2 0h0m0.5 0h0m0.5 0h0m1 0h0m1.5 0h0m0.5 0h0m2.5 0h0m0.5 0h0m1 0h0m1 0h0m2.9 0h0m3.5 0h0m1.5 0h0m3.5 0h0m3.5 0h0m23.9 0h0m25.4 0h0m1.5 0h0m0.5 0h0m35.4 0h0m9.5 0h0m10.4 0h0m5 0h0m7 0h0m2.5 0h0m13.9 0h0m31.9 0h0m1.5 0h0m7 0h0m12.5 0h0M89.8 218.3h0m3.5 0h0m10.5 0h0m2.9 0h0m9.5 0h0m6 0h0m3 0h0m0.5 0h0m3.5 0h0m3 0h0m4.4 0h0m12.5 0h0m8 0h0m7 0h0m3.9 0h0m8 0h0m4.5 0h0m5.5 0h0m18.4 0h0m1 0h0m2 0h0m7.5 0h0m15.9 0h0m7.5 0h0m1.5 0h0m2.5 0h0m0.5 0h0m3 0h0m1.5 0h0m2.5 0h0m0.5 0h0m4.9 0h0m23 0h0m6.4 0h0m1.5 0h0m5.5 0h0m2 0h0m1.5 0h0m1 0h0m0.5 0h0m0.5 0h0m0.5 0h0m1 0h0m1.5 0h0m1 0h0m1.5 0h0m0.5 0h0m1 0h0m0.5 0h0m0.5 0h0m0.5 0h0m3 0h0m0.5 0h0m1.5 0h0m1.9 0h0m1.5 0h0m0.5 0h0m1 0h0m4.5 0h0m1 0h0m0.5 0h0m0.5 0h0m0.5 0h0m0.5 0h0m0.5 0h0m0.5 0h0m0.5 0h0m1 0h0m0.5 0h0m0.5 0h0m0.5 0h0m0.5 0h0m1 0h0m0.5 0h0m0.5 0h0m0.5 0h0m0.5 0h0m0.5 0h0m1 0h0m0.5 0h0m0.5 0h0m0.5 0h0m1 0h0m1 0h0m0.5 0h0m0.5 0h0m0.5 0h0m1.5 0h0m0.5 0h0m0.5 0h0m0.5 0h0m1.4 0h0m0.5 0h0m0.5 0h0m1 0h0m1.5 0h0m1 0h0m0.5 0h0m0.5 0h0m1.5 0h0m1 0h0m0.5 0h0m2 0h0m3.5 0h0m0.5 0h0m1 0h0m1.5 0h0m1.5 0h0m0.5 0h0m2 0h0m0.5 0h0m0.5 0h0m1 0h0m2 0h0m1.5 0h0m1.9 0h0m1 0h0m3 0h0m0.5 0h0m2 0h0m0.5 0h0m1 0h0m4 0h0m3 0h0m3.5 0h0m3 0h0m0.5 0h0m2.5 0h0m0.5 0h0m2.5 0h0m5.4 0h0m1 0h0m4.5 0h0m20.9 0h0m66.3 0h0m3.5 0h0m0.5 0h0m6 0h0m37.4 0h0m7.9 0h0m11.5 0h0m1.5 0h0m1.5 0h0m6 0h0M79.8 215.4h0m3.5 0h0m6 0h0m1.5 0h0m4.5 0h0m6 0h0m8.4 0h0m3.5 0h0m7.5 0h0m26.9 0h0m9 0h0m30.9 0h0m3 0h0m25.9 0h0m29.9 0h0m10.4 0h0m9.5 0h0m2 0h0m1.5 0h0m3.5 0h0m3.5 0h0m1.5 0h0m5.4 0h0m1 0h0m0.5 0h0m4 0h0m0.5 0h0m2 0h0m1 0h0m1.5 0h0m2.5 0h0m1 0h0m2.5 0h0m2.5 0h0m1 0h0m5.5 0h0m0.5 0h0m1 0h0m0.4 0h0m1 0h0m0.5 0h0m0.5 0h0m0.5 0h0m1 0h0m0.5 0h0m0.5 0h0m0.5 0h0m0.5 0h0m0.5 0h0m1 0h0m1 0h0m2 0h0m0.5 0h0m0.5 0h0m0.5 0h0m0.5 0h0m0.5 0h0m0.5 0h0m0.5 0h0m1 0h0m0.5 0h0m0.5 0h0m0.5 0h0m1 0h0m1 0h0m0.5 0h0m1 0h0m1 0h0m0.5 0h0m1 0h0m2 0h0m0.5 0h0m1 0h0m0.5 0h0m0.5 0h0m1 0h0m1 0h0m0.9 0h0m1.5 0h0m0.5 0h0m0.5 0h0m1 0h0m2 0h0m3 0h0m2.5 0h0m1.5 0h0m2.5 0h0m0.5 0h0m1 0h0m1 0h0m3.5 0h0m3.5 0h0m0.5 0h0m1 0h0m3.4 0h0m6 0h0m4 0h0m5.5 0h0m0.5 0h0m1 0h0m1 0h0m20.4 0h0m0.5 0h0m5.5 0h0m1 0h0m5 0h0m0.5 0h0m26.4 0h0m5 0h0m14.4 0h0m2.5 0h0m29.9 0h0m13 0h0m3.5 0h0m6.4 0h0m0.5 0h0m0.5 0h0m10 0h0m1 0h0m0.5 0h0m15.4 0h0m1.5 0h0m17 0h0M147.1 212.5h0m7 0h0m9.5 0h0m3.4 0h0m3.5 0h0m0.5 0h0m21.5 0h0m8.4 0h0m37.9 0h0m4.5 0h0m7.5 0h0m10.9 0h0m9.5 0h0m6.5 0h0m1.5 0h0m7.4 0h0m1.5 0h0m5.5 0h0m0.5 0h0m1 0h0m2.5 0h0m0.5 0h0m1 0h0m3 0h0m0.5 0h0m1.5 0h0m0.5 0h0m1.5 0h0m0.5 0h0m1 0h0m1.5 0h0m1 0h0m2.4 0h0m1.5 0h0m1 0h0m0.5 0h0m0.5 0h0m0.5 0h0m1 0h0m0.5 0h0m1.5 0h0m1.5 0h0m1 0h0m0.5 0h0m0.5 0h0m0.5 0h0m0.5 0h0m0.5 0h0m1 0h0m0.5 0h0m0.5 0h0m0.5 0h0m0.5 0h0m0.5 0h0m0.5 0h0m0.5 0h0m1.5 0h0m1 0h0m1 0h0m1 0h0m1 0h0m0.5 0h0m1.5 0h0m0.5 0h0m0.5 0h0m2 0h0m0.9 0h0m0.5 0h0m0.5 0h0m0.5 0h0m0.5 0h0m0.5 0h0m2 0h0m1.5 0h0m3 0h0m3 0h0m0.5 0h0m0.5 0h0m0.5 0h0m1.5 0h0m1 0h0m0.5 0h0m1 0h0m2.5 0h0m1.5 0h0m0.5 0h0m0.5 0h0m2 0h0m4 0h0m1.4 0h0m1.5 0h0m1 0h0m11 0h0m2.5 0h0m2 0h0m0.5 0h0m2.5 0h0m0.5 0h0m3.5 0h0m0.5 0h0m1.5 0h0m2.4 0h0m5.5 0h0m9 0h0m3 0h0m26.4 0h0m28.4 0h0m15.4 0h0m5.5 0h0m8.5 0h0m1.5 0h0m12 0h0m28.9 0h0m10.9 0h0m11 0h0m1.5 0h0M87.8 209.6h0m4 0h0m17.4 0h0m8 0h0m5 0h0m9 0h0m5.4 0h0m6 0h0m6 0h0m17.4 0h0m2 0h0m12 0h0m13 0h0m21.9 0h0m10.9 0h0m12.5 0h0m6.5 0h0m0.5 0h0m7.4 0h0m1.5 0h0m6.5 0h0m1 0h0m4.5 0h0m5 0h0m4.5 0h0m4 0h0m0.5 0h0m1.4 0h0m1 0h0m5.5 0h0m1 0h0m2 0h0m2.5 0h0m1.5 0h0m0.5 0h0m4.5 0h0m0.5 0h0m3 0h0m0.5 0h0m1 0h0m1 0h0m2.5 0h0m0.5 0h0m0.5 0h0m1.4 0h0m0.5 0h0m0.5 0h0m0.5 0h0m0.5 0h0m0.5 0h0m2.5 0h0m1 0h0m1 0h0m1 0h0m0.5 0h0m0.5 0h0m2 0h0m0.5 0h0m0.5 0h0m0.5 0h0m0.5 0h0m0.5 0h0m0.5 0h0m1 0h0m0.5 0h0m0.5 0h0m0.5 0h0m0.5 0h0m0.5 0h0m0.5 0h0m0.5 0h0m1.5 0h0m1 0h0m0.5 0h0m0.5 0h0m0.5 0h0m1.5 0h0m0.5 0h0m1.5 0h0m0.5 0h0m0.5 0h0m0.5 0h0m1 0h0m0.5 0h0m0.4 0h0m2.5 0h0m1.5 0h0m0.5 0h0m1 0h0m1.5 0h0m1 0h0m3 0h0m0.5 0h0m1 0h0m1 0h0m1.5 0h0m2.5 0h0m1 0h0m0.5 0h0m1 0h0m0.5 0h0m0.5 0h0m2.5 0h0m0.5 0h0m2 0h0m3.9 0h0m1 0h0m1 0h0m3.5 0h0m1.5 0h0m4 0h0m0.5 0h0m8.5 0h0m1 0h0m2.5 0h0m13.4 0h0m10.5 0h0m3.5 0h0m6 0h0m7.9 0h0m5 0h0m12 0h0m5.4 0h0m5 0h0m14.5 0h0m18.4 0h0m4 0h0m0.5 0h0m18.9 0h0m0.5 0h0m3 0h0m2.5 0h0m38.4 0h0M82.8 206.7h0m1 0h0m8.5 0h0m28.4 0h0m4 0h0m34.4 0h0m29.9 0h0m7.4 0h0m14.5 0h0m26.4 0h0m13.5 0h0m10.4 0h0m1.5 0h0m2 0h0m13 0h0m7.4 0h0m0.5 0h0m2.5 0h0m1 0h0m0.5 0h0m0.5 0h0m1 0h0m3 0h0m0.5 0h0m0.5 0h0m0.5 0h0m3 0h0m1.5 0h0m2.5 0h0m0.5 0h0m0.5 0h0m1 0h0m0.5 0h0m2.5 0h0m0.5 0h0m0.5 0h0m0.5 0h0m0.5 0h0m3.4 0h0m1 0h0m0.5 0h0m1 0h0m1 0h0m0.5 0h0m1 0h0m0.5 0h0m0.5 0h0m0.5 0h0m0.5 0h0m0.5 0h0m0.5 0h0m0.5 0h0m0.5 0h0m0.5 0h0m0.5 0h0m0.5 0h0m0.5 0h0m0.5 0h0m0.5 0h0m0.5 0h0m0.5 0h0m0.5 0h0m1.5 0h0m0.5 0h0m0.5 0h0m0.5 0h0m0.5 0h0m0.5 0h0m1 0h0m0.5 0h0m0.5 0h0m0.5 0h0m2 0h0m0.5 0h0m0.5 0h0m0.5 0h0m0.5 0h0m1 0h0m2.4 0h0m0.5 0h0m0.5 0h0m0.5 0h0m2.5 0h0m0.5 0h0m0.5 0h0m2 0h0m0.5 0h0m0.5 0h0m1 0h0m1 0h0m1.5 0h0m0.5 0h0m0.5 0h0m2 0h0m1.5 0h0m0.5 0h0m0.5 0h0m1.5 0h0m1.5 0h0m2.5 0h0m1.5 0h0m2.5 0h0m1 0h0m0.5 0h0m0.5 0h0m0.5 0h0m1.9 0h0m1.5 0h0m1 0h0m1.5 0h0m3 0h0m2.5 0h0m2.5 0h0m3 0h0m1 0h0m1 0h0m3.5 0h0m1 0h0m6 0h0m12.4 0h0m8.5 0h0m14.9 0h0m1 0h0m5.5 0h0m3 0h0m14.9 0h0m8 0h0m16 0h0m0.5 0h0m4.9 0h0m33.4 0h0m23.9 0h0m9 0h0m4 0h0M84.8 203.8h0m2.5 0h0m4.5 0h0m18.9 0h0m43.4 0h0m3 0h0m8.4 0h0m1 0h0m1 0h0m9 0h0m31.4 0h0m2.5 0h0m6.5 0h0m12.9 0h0m2.5 0h0m4.5 0h0m6 0h0m1.5 0h0m7.9 0h0m8.5 0h0m4.5 0h0m0.5 0h0m3.5 0h0m2 0h0m4 0h0m3.5 0h0m0.5 0h0m3.4 0h0m1 0h0m3.5 0h0m2 0h0m3 0h0m1.5 0h0m0.5 0h0m6 0h0m2 0h0m0.5 0h0m1.5 0h0m1.5 0h0m0.5 0h0m0.5 0h0m0.5 0h0m1.5 0h0m0.5 0h0m2.4 0h0m2.5 0h0m0.5 0h0m0.5 0h0m0.5 0h0m1 0h0m0.5 0h0m1 0h0m0.5 0h0m0.5 0h0m0.5 0h0m0.5 0h0m0.5 0h0m0.5 0h0m0.5 0h0m0.5 0h0m0.5 0h0m0.5 0h0m1 0h0m0.5 0h0m0.5 0h0m1 0h0m1 0h0m1.5 0h0m0.5 0h0m0.5 0h0m0.5 0h0m0.5 0h0m1 0h0m0.5 0h0m1 0h0m0.5 0h0m0.5 0h0m0.5 0h0m0.5 0h0m0.5 0h0m0.5 0h0m0.5 0h0m1 0h0m2 0h0m0.9 0h0m1 0h0m0.5 0h0m0.5 0h0m0.5 0h0m0.5 0h0m1 0h0m1 0h0m3 0h0m0.5 0h0m3 0h0m0.5 0h0m1 0h0m1 0h0m1 0h0m1 0h0m2 0h0m0.5 0h0m3 0h0m0.5 0h0m1.5 0h0m2 0h0m1 0h0m1 0h0m2.9 0h0m0.5 0h0m1 0h0m14 0h0m3.5 0h0m5 0h0m3 0h0m0.5 0h0m5.9 0h0m3.5 0h0m0.5 0h0m40.4 0h0m1 0h0m2 0h0m15.4 0h0m7 0h0m66.3 0h0m8.9 0h0M81.8 200.9h0m15 0h0m1 0h0m1.5 0h0m1 0h0m12.9 0h0m2.5 0h0m4 0h0m4.5 0h0m0.5 0h0m3.5 0h0m13.4 0h0m17 0h0m9.4 0h0m8.5 0h0m1 0h0m4.5 0h0m0.5 0h0m22.9 0h0m6.5 0h0m2 0h0m4.5 0h0m4.5 0h0m0.4 0h0m26 0h0m2.9 0h0m12 0h0m3 0h0m5.5 0h0m4 0h0m2.5 0h0m4.4 0h0m0.5 0h0m3 0h0m2 0h0m2.5 0h0m3 0h0m0.5 0h0m0.5 0h0m1 0h0m1.5 0h0m1.5 0h0m1 0h0m1.5 0h0m2.5 0h0m1 0h0m1 0h0m2 0h0m0.5 0h0m0.5 0h0m0.5 0h0m0.5 0h0m1.9 0h0m0.5 0h0m0.5 0h0m0.5 0h0m0.5 0h0m0.5 0h0m0.5 0h0m0.5 0h0m0.5 0h0m0.5 0h0m0.5 0h0m1 0h0m0.5 0h0m0.5 0h0m0.5 0h0m0.5 0h0m0.5 0h0m0.5 0h0m0.5 0h0m0.5 0h0m0.5 0h0m0.5 0h0m0.5 0h0m0.5 0h0m0.5 0h0m0.5 0h0m1 0h0m1 0h0m0.5 0h0m0.5 0h0m0.5 0h0m1 0h0m0.5 0h0m0.5 0h0m0.5 0h0m0.5 0h0m1 0h0m1 0h0m0.5 0h0m0.5 0h0m0.5 0h0m1 0h0m0.5 0h0m1 0h0m0.5 0h0m0.5 0h0m1.4 0h0m0.5 0h0m0.5 0h0m0.5 0h0m1 0h0m1.5 0h0m0.5 0h0m2 0h0m0.5 0h0m2 0h0m0.5 0h0m5.5 0h0m1.5 0h0m1.5 0h0m2.5 0h0m0.5 0h0m0.5 0h0m0.5 0h0m3 0h0m1.5 0h0m0.5 0h0m0.5 0h0m1 0h0m0.9 0h0m6.5 0h0m5 0h0m0.5 0h0m2 0h0m1 0h0m4 0h0m1.5 0h0m0.5 0h0m1 0h0m7 0h0m5.4 0h0m1 0h0m1 0h0m0.5 0h0m8.5 0h0m0.5 0h0m3 0h0m6.5 0h0m13.9 0h0m4 0h0m10 0h0m10.9 0h0m2 0h0m1 0h0m9.5 0h0m6.5 0h0m7.4 0h0m31.4 0h0m12 0h0m11.5 0h0m2.4 0h0m0.5 0h0m7.5 0h0m7.5 0h0m3.5 0h0M79.8 198.0h0m35.4 0h0m10.5 0h0m13.4 0h0m3.5 0h0m21.5 0h0m1.4 0h0m23.5 0h0m9.9 0h0m24 0h0m2.9 0h0m12 0h0m13 0h0m4.9 0h0m0.5 0h0m1 0h0m4.5 0h0m3 0h0m4 0h0m7 0h0m2 0h0m0.5 0h0m2 0h0m5.9 0h0m2 0h0m1.5 0h0m3 0h0m0.5 0h0m2.5 0h0m3 0h0m1 0h0m1.5 0h0m2 0h0m0.5 0h0m0.5 0h0m1.5 0h0m0.5 0h0m1 0h0m0.5 0h0m1 0h0m0.5 0h0m0.5 0h0m1.4 0h0m0.5 0h0m1 0h0m1 0h0m0.5 0h0m0.5 0h0m0.5 0h0m1 0h0m0.5 0h0m1.5 0h0m1 0h0m0.5 0h0m0.5 0h0m1 0h0m0.5 0h0m0.5 0h0m1 0h0m0.5 0h0m1 0h0m1 0h0m0.5 0h0m0.5 0h0m1 0h0m1 0h0m0.5 0h0m0.5 0h0m1.5 0h0m1.5 0h0m1.5 0h0m1 0h0m0.5 0h0m1.5 0h0m0.5 0h0m1 0h0m0.5 0h0m2.4 0h0m1 0h0m1 0h0m0.5 0h0m0.5 0h0m1 0h0m1.5 0h0m1.5 0h0m1.5 0h0m0.5 0h0m4.5 0h0m0.5 0h0m2 0h0m1 0h0m3.5 0h0m1 0h0m1 0h0m4.5 0h0m1 0h0m2.4 0h0m0.5 0h0m1.5 0h0m2 0h0m1.5 0h0m0.5 0h0m1.5 0h0m0.5 0h0m0.5 0h0m3 0h0m2 0h0m11 0h0m2.9 0h0m26 0h0m16.4 0h0m42.9 0h0m12.4 0h0m3 0h0m1.5 0h0m2.5 0h0m14.4 0h0m12 0h0m12.5 0h0m4.9 0h0m6 0h0m1 0h0M86.8 195.1h0m3 0h0m5 0h0m20.4 0h0m4.5 0h0m10.5 0h0m16.4 0h0m1.5 0h0m4 0h0m2.5 0h0m2.5 0h0m25.9 0h0m8 0h0m21.4 0h0m18.9 0h0m2.5 0h0m7 0h0m1.5 0h0m0.5 0h0m3.5 0h0m1 0h0m4 0h0m3.9 0h0m8 0h0m2 0h0m5 0h0m4.5 0h0m5.5 0h0m0.5 0h0m1.4 0h0m0.5 0h0m5 0h0m0.5 0h0m1 0h0m0.5 0h0m1.5 0h0m1 0h0m2 0h0m0.5 0h0m1.5 0h0m1 0h0m1.5 0h0m0.5 0h0m0.5 0h0m1 0h0m0.5 0h0m0.5 0h0m0.5 0h0m0.5 0h0m0.5 0h0m0.5 0h0m0.5 0h0m1.5 0h0m1 0h0m1 0h0m0.5 0h0m0.5 0h0m0.5 0h0m1.5 0h0m0.9 0h0m0.5 0h0m1 0h0m0.5 0h0m0.5 0h0m0.5 0h0m0.5 0h0m0.5 0h0m0.5 0h0m0.5 0h0m0.5 0h0m0.5 0h0m1 0h0m0.5 0h0m0.5 0h0m0.5 0h0m0.5 0h0m0.5 0h0m0.5 0h0m0.5 0h0m0.5 0h0m1 0h0m0.5 0h0m0.5 0h0m1 0h0m0.5 0h0m0.5 0h0m1 0h0m0.5 0h0m0.5 0h0m0.5 0h0m1 0h0m0.5 0h0m1 0h0m0.5 0h0m0.5 0h0m0.5 0h0m0.5 0h0m0.5 0h0m0.5 0h0m0.5 0h0m0.5 0h0m1 0h0m1 0h0m0.5 0h0m0.5 0h0m0.5 0h0m0.5 0h0m0.5 0h0m0.4 0h0m1 0h0m0.5 0h0m0.5 0h0m0.5 0h0m0.5 0h0m1 0h0m0.5 0h0m0.5 0h0m0.5 0h0m0.5 0h0m0.5 0h0m1.5 0h0m0.5 0h0m0.5 0h0m0.5 0h0m1.5 0h0m0.5 0h0m0.5 0h0m0.5 0h0m0.5 0h0m1 0h0m2.5 0h0m1.5 0h0m0.5 0h0m1 0h0m1 0h0m0.5 0h0m0.5 0h0m1 0h0m1.5 0h0m0.5 0h0m0.5 0h0m1 0h0m0.5 0h0m0.5 0h0m1 0h0m1 0h0m0.4 0h0m1.5 0h0m1.5 0h0m1.5 0h0m0.5 0h0m1 0h0m3 0h0m3 0h0m1.5 0h0m4 0h0m0.5 0h0m5 0h0m4 0h0m0.5 0h0m1.5 0h0m4.4 0h0m3 0h0m2 0h0m2 0h0m9 0h0m4.5 0h0m3.5 0h0m2.4 0h0m0.5 0h0m2 0h0m1.5 0h0m11 0h0m4.5 0h0m6 0h0m14.9 0h0m10 0h0m3 0h0m2 0h0m11.4 0h0m16 0h0m21.4 0h0m5 0h0m5 0h0m2.4 0h0m1 0h0m4 0h0m4 0h0m0.5 0h0m3.5 0h0m11.5 0h0M86.8 192.2h0m74.8 0h0m4.9 0h0m14 0h0m29.4 0h0m13.4 0h0m5.5 0h0m5 0h0m4 0h0m9 0h0m11.9 0h0m3.5 0h0m7 0h0m4.5 0h0m1.5 0h0m1 0h0m0.5 0h0m13.9 0h0m1.5 0h0m1.5 0h0m4.5 0h0m0.5 0h0m0.5 0h0m1.5 0h0m3 0h0m1 0h0m1 0h0m0.5 0h0m1.5 0h0m1.5 0h0m1 0h0m1.9 0h0m1 0h0m0.5 0h0m0.5 0h0m0.5 0h0m0.5 0h0m0.5 0h0m2 0h0m0.5 0h0m0.5 0h0m1 0h0m1 0h0m0.5 0h0m0.5 0h0m0.5 0h0m1 0h0m0.5 0h0m1 0h0m0.5 0h0m1 0h0m1 0h0m1 0h0m0.5 0h0m0.5 0h0m0.5 0h0m0.5 0h0m0.5 0h0m0.5 0h0m0.5 0h0m0.5 0h0m1 0h0m0.5 0h0m1.5 0h0m1 0h0m1 0h0m0.5 0h0m0.5 0h0m1.5 0h0m0.5 0h0m1.4 0h0m0.5 0h0m0.5 0h0m1.5 0h0m2.5 0h0m2 0h0m1 0h0m1 0h0m0.5 0h0m2.5 0h0m0.5 0h0m2 0h0m1 0h0m0.5 0h0m1.5 0h0m2 0h0m3 0h0m2.5 0h0m1 0h0m3.4 0h0m4.5 0h0m8 0h0m65.8 0h0m10.9 0h0m9.5 0h0m4 0h0m9.5 0h0m0.5 0h0m2 0h0m17.9 0h0m4 0h0m35.4 0h0M93.3 189.3h0m3 0h0m21.9 0h0m14 0h0m8.4 0h0m2 0h0m10 0h0m2 0h0m10.9 0h0m6 0h0m23.9 0h0m22 0h0m18.4 0h0m8 0h0m1 0h0m6.5 0h0m4.4 0h0m7 0h0m5 0h0m2 0h0m6.5 0h0m5 0h0m1.4 0h0m3 0h0m1.5 0h0m2 0h0m1 0h0m0.5 0h0m4 0h0m1 0h0m1 0h0m5 0h0m2 0h0m1 0h0m0.5 0h0m2 0h0m0.5 0h0m1.5 0h0m0.5 0h0m1 0h0m0.9 0h0m1 0h0m0.5 0h0m1 0h0m0.5 0h0m0.5 0h0m0.5 0h0m0.5 0h0m0.5 0h0m1 0h0m1 0h0m0.5 0h0m1 0h0m0.5 0h0m0.5 0h0m0.5 0h0m0.5 0h0m1 0h0m2 0h0m0.5 0h0m0.5 0h0m0.5 0h0m0.5 0h0m0.5 0h0m0.5 0h0m0.5 0h0m0.5 0h0m1.5 0h0m0.5 0h0m0.5 0h0m1 0h0m1 0h0m0.5 0h0m0.5 0h0m0.5 0h0m0.5 0h0m0.5 0h0m1 0h0m1.5 0h0m0.5 0h0m0.5 0h0m0.5 0h0m0.9 0h0m0.5 0h0m0.5 0h0m1.5 0h0m0.5 0h0m1 0h0m1 0h0m2 0h0m0.5 0h0m1 0h0m1.5 0h0m0.5 0h0m0.5 0h0m0.5 0h0m1 0h0m2.5 0h0m1.5 0h0m1 0h0m2.5 0h0m0.5 0h0m2 0h0m0.5 0h0m1 0h0m2.5 0h0m1.5 0h0m0.5 0h0m1.4 0h0m5 0h0m10 0h0m3.5 0h0m1.5 0h0m3 0h0m0.5 0h0m1.5 0h0m7.9 0h0m4 0h0m10 0h0m5 0h0m15.4 0h0m29.4 0h0m14 0h0m1 0h0m3 0h0m7.9 0h0m6.5 0h0m20.4 0h0m20.5 0h0m19.9 0h0M87.8 186.4h0m1.5 0h0m4.5 0h0m0.5 0h0m5 0h0m44.3 0h0m36.9 0h0m31.4 0h0m30.9 0h0m0.5 0h0m5.5 0h0m4.4 0h0m1 0h0m1 0h0m3 0h0m12.5 0h0m1.5 0h0m2 0h0m1 0h0m7.4 0h0m2.5 0h0m1 0h0m4 0h0m4 0h0m0.5 0h0m3.5 0h0m2.5 0h0m0.5 0h0m1.5 0h0m1.5 0h0m4.5 0h0m1 0h0m0.5 0h0m1.4 0h0m1 0h0m0.5 0h0m0.5 0h0m2 0h0m1.5 0h0m1.5 0h0m0.5 0h0m0.5 0h0m1 0h0m1 0h0m1.5 0h0m2 0h0m0.5 0h0m0.5 0h0m0.5 0h0m1 0h0m0.5 0h0m0.5 0h0m1 0h0m1 0h0m1.5 0h0m0.5 0h0m1.5 0h0m1 0h0m0.5 0h0m1 0h0m1 0h0m0.5 0h0m0.5 0h0m1.5 0h0m0.9 0h0m1 0h0m0.5 0h0m3.5 0h0m0.5 0h0m1.5 0h0m0.5 0h0m1 0h0m0.5 0h0m0.5 0h0m1 0h0m0.5 0h0m1 0h0m3 0h0m1.5 0h0m1 0h0m1 0h0m1 0h0m0.5 0h0m0.5 0h0m1 0h0m6 0h0m1 0h0m6.9 0h0m3.5 0h0m20.9 0h0m7.5 0h0m7 0h0m43.8 0h0m16.5 0h0m18.4 0h0m68.8 0h0M115.2 183.5h0m11.5 0h0m7.5 0h0m0.9 0h0m8.5 0h0m0.5 0h0m7.5 0h0m2.5 0h0m5.5 0h0m16.4 0h0m4 0h0m4.5 0h0m12.9 0h0m2.5 0h0m14 0h0m17.9 0h0m20.4 0h0m4 0h0m5.5 0h0m1 0h0m0.5 0h0m2.5 0h0m3 0h0m1 0h0m8.5 0h0m1 0h0m1 0h0m1 0h0m0.4 0h0m1.5 0h0m1.5 0h0m1 0h0m0.5 0h0m3 0h0m3.5 0h0m0.5 0h0m1.5 0h0m0.5 0h0m0.5 0h0m0.5 0h0m1.5 0h0m1 0h0m0.5 0h0m0.5 0h0m2 0h0m1 0h0m2.5 0h0m1 0h0m1 0h0m0.5 0h0m0.5 0h0m0.5 0h0m0.5 0h0m0.5 0h0m1.9 0h0m1 0h0m0.5 0h0m1 0h0m0.5 0h0m0.5 0h0m0.5 0h0m0.5 0h0m0.5 0h0m0.5 0h0m0.5 0h0m0.5 0h0m0.5 0h0m0.5 0h0m1 0h0m0.5 0h0m0.5 0h0m0.5 0h0m0.5 0h0m0.5 0h0m0.5 0h0m1 0h0m0.5 0h0m0.5 0h0m0.5 0h0m0.5 0h0m0.5 0h0m0.5 0h0m0.5 0h0m0.5 0h0m0.5 0h0m0.5 0h0m0.5 0h0m0.5 0h0m1 0h0m0.5 0h0m0.5 0h0m1 0h0m0.5 0h0m0.5 0h0m0.5 0h0m0.5 0h0m0.5 0h0m1 0h0m0.5 0h0m0.5 0h0m0.5 0h0m0.5 0h0m0.5 0h0m1 0h0m0.4 0h0m0.5 0h0m0.5 0h0m0.5 0h0m0.5 0h0m0.5 0h0m1 0h0m1 0h0m0.5 0h0m0.5 0h0m0.5 0h0m0.5 0h0m0.5 0h0m0.5 0h0m0.5 0h0m0.5 0h0m1 0h0m1 0h0m2.5 0h0m0.5 0h0m0.5 0h0m1 0h0m0.5 0h0m1 0h0m2 0h0m1.5 0h0m1.5 0h0m1 0h0m0.5 0h0m1.5 0h0m2 0h0m1 0h0m1.5 0h0m2.9 0h0m0.5 0h0m1 0h0m2.5 0h0m2.5 0h0m2.5 0h0m3 0h0m2 0h0m4.5 0h0m8 0h0m0.9 0h0m0.5 0h0m2.5 0h0m4 0h0m2.5 0h0m5 0h0m16.9 0h0m3 0h0m8 0h0m11 0h0m37.3 0h0m6 0h0m9 0h0m7 0h0m3.9 0h0m18.5 0h0m1.5 0h0m21.9 0h0m1.5 0h0M82.3 180.6h0m10 0h0m2 0h0m2.5 0h0m1.5 0h0m17.4 0h0m16.5 0h0m9.9 0h0m46.9 0h0m2.5 0h0m0.5 0h0m40.3 0h0m4 0h0m1.5 0h0m1 0h0m0.5 0h0m3.5 0h0m4.5 0h0m3 0h0m14.9 0h0m1 0h0m1.5 0h0m3.5 0h0m1 0h0m5.5 0h0m3 0h0m1.4 0h0m0.5 0h0m1 0h0m0.5 0h0m1 0h0m2 0h0m1.5 0h0m2 0h0m0.5 0h0m2 0h0m2 0h0m0.5 0h0m0.5 0h0m4 0h0m1 0h0m1.5 0h0m0.5 0h0m0.5 0h0m1 0h0m1.5 0h0m0.5 0h0m0.5 0h0m0.5 0h0m1 0h0m1.5 0h0m0.5 0h0m2.4 0h0m0.5 0h0m0.5 0h0m0.5 0h0m0.5 0h0m1 0h0m0.5 0h0m0.5 0h0m0.5 0h0m1.5 0h0m0.5 0h0m2 0h0m0.5 0h0m0.5 0h0m0.5 0h0m0.5 0h0m0.5 0h0m0.5 0h0m0.5 0h0m1 0h0m0.5 0h0m0.5 0h0m0.5 0h0m0.5 0h0m0.5 0h0m0.5 0h0m1 0h0m0.5 0h0m0.5 0h0m1 0h0m0.5 0h0m1 0h0m0.5 0h0m1 0h0m0.5 0h0m0.5 0h0m2 0h0m0.5 0h0m1 0h0m0.5 0h0m1.9 0h0m0.5 0h0m0.5 0h0m0.5 0h0m0.5 0h0m1.5 0h0m0.5 0h0m0.5 0h0m1 0h0m1 0h0m0.5 0h0m0.5 0h0m1 0h0m0.5 0h0m1.5 0h0m0.5 0h0m1 0h0m2 0h0m1.5 0h0m0.5 0h0m1 0h0m0.5 0h0m1 0h0m0.5 0h0m1 0h0m1 0h0m0.5 0h0m2.5 0h0m0.5 0h0m0.5 0h0m0.5 0h0m1.5 0h0m0.5 0h0m0.9 0h0m0.5 0h0m2.5 0h0m0.5 0h0m1.5 0h0m2 0h0m1 0h0m2.5 0h0m2.5 0h0m3 0h0m7.5 0h0m5 0h0m0.4 0h0m0.5 0h0m0.5 0h0m5 0h0m0.5 0h0m2.5 0h0m2.5 0h0m70.8 0h0m1 0h0m1.5 0h0m3.9 0h0m1.5 0h0m0.5 0h0m15.5 0h0m18.9 0h0m0.5 0h0m5.5 0h0m6.5 0h0m8 0h0m2.4 0h0m4.5 0h0m11.5 0h0M101.3 177.7h0m29.9 0h0m13.4 0h0m17 0h0m3.4 0h0m2.5 0h0m19.5 0h0m76.2 0h0m16 0h0m8.9 0h0m1.5 0h0m3 0h0m1 0h0m2.5 0h0m4 0h0m3 0h0m6 0h0m3.9 0h0m2 0h0m1 0h0m1 0h0m0.5 0h0m2.5 0h0m0.5 0h0m1 0h0m0.5 0h0m0.5 0h0m0.5 0h0m1 0h0m0.5 0h0m0.5 0h0m1 0h0m0.5 0h0m0.5 0h0m3 0h0m0.5 0h0m2.5 0h0m2.5 0h0m0.5 0h0m2 0h0m1.5 0h0m1.9 0h0m1.5 0h0m1.5 0h0m1.5 0h0m2.5 0h0m3.5 0h0m1 0h0m0.5 0h0m3.5 0h0m7 0h0m0.5 0h0m4 0h0m8.4 0h0m2 0h0m5.5 0h0m2.5 0h0m15.4 0h0m42.9 0h0m47.3 0h0m14.5 0h0m18.4 0h0m46.4 0h0M119.7 174.8h0m54.3 0h0m6 0h0m3 0h0m1 0h0m35.4 0h0m19.4 0h0m22.9 0h0m0.5 0h0m2 0h0m1 0h0m1.5 0h0m3.5 0h0m3 0h0m2.5 0h0m12.4 0h0m2 0h0m7.5 0h0m0.5 0h0m5.5 0h0m2 0h0m2 0h0m0.5 0h0m0.5 0h0m0.5 0h0m1.5 0h0m6.4 0h0m0.5 0h0m1 0h0m0.5 0h0m1.5 0h0m1 0h0m0.5 0h0m0.5 0h0m0.5 0h0m0.5 0h0m0.5 0h0m2.5 0h0m2.5 0h0m2.5 0h0m1 0h0m0.5 0h0m0.5 0h0m1 0h0m0.5 0h0m0.5 0h0m0.5 0h0m0.5 0h0m1.5 0h0m0.5 0h0m1 0h0m1.9 0h0m0.5 0h0m1 0h0m0.5 0h0m0.5 0h0m0.5 0h0m2.5 0h0m1.5 0h0m4.5 0h0m3.5 0h0m2 0h0m3 0h0m3.5 0h0m13.9 0h0m4 0h0m3.5 0h0m4.5 0h0m8 0h0m0.4 0h0m63.8 0h0m10.5 0h0m6 0h0m14.4 0h0m27.9 0h0m14.5 0h0M86.8 171.9h0m26.9 0h0m1 0h0m3.5 0h0m9 0h0m9.9 0h0m0.5 0h0m29.4 0h0m26 0h0m8.4 0h0m1.5 0h0m14.5 0h0m19.9 0h0m7 0h0m1 0h0m3.5 0h0m6.4 0h0m1 0h0m5.5 0h0m5 0h0m3 0h0m1 0h0m2.5 0h0m4.5 0h0m2 0h0m1.9 0h0m2.5 0h0m1 0h0m0.5 0h0m1.5 0h0m1.5 0h0m0.5 0h0m5 0h0m1.5 0h0m0.5 0h0m1.5 0h0m0.5 0h0m1 0h0m0.5 0h0m1 0h0m1 0h0m0.5 0h0m0.5 0h0m2.5 0h0m0.5 0h0m1.5 0h0m0.5 0h0m0.5 0h0m3.4 0h0m1.5 0h0m1.5 0h0m0.5 0h0m0.5 0h0m0.5 0h0m0.5 0h0m1 0h0m0.5 0h0m0.5 0h0m0.5 0h0m1 0h0m0.5 0h0m0.5 0h0m0.5 0h0m0.5 0h0m0.5 0h0m0.5 0h0m0.5 0h0m1 0h0m1 0h0m1 0h0m0.5 0h0m0.5 0h0m0.5 0h0m0.5 0h0m1.5 0h0m1.5 0h0m0.5 0h0m1.5 0h0m0.5 0h0m1 0h0m0.5 0h0m1 0h0m0.5 0h0m0.5 0h0m0.5 0h0m1 0h0m0.5 0h0m1.4 0h0m2.5 0h0m0.5 0h0m3.5 0h0m1 0h0m0.5 0h0m1 0h0m2 0h0m0.5 0h0m0.5 0h0m3.5 0h0m3 0h0m0.5 0h0m5.5 0h0m3.5 0h0m0.9 0h0m13 0h0m2.5 0h0m3.5 0h0m4 0h0m0.5 0h0m8.9 0h0m1 0h0m2 0h0m12.5 0h0m3.5 0h0m8.9 0h0m38.4 0h0m1.5 0h0m32.4 0h0m14.4 0h0m7.5 0h0m28.9 0h0m0.5 0h0m8.5 0h0m1 0h0M83.3 169.0h0m10 0h0m3 0h0m8.5 0h0m25.9 0h0m25.4 0h0m11.4 0h0m11.5 0h0m1.5 0h0m49.8 0h0m14 0h0m6.5 0h0m14.9 0h0m3.5 0h0m4.5 0h0m2.5 0h0m3.5 0h0m2.9 0h0m0.5 0h0m1.5 0h0m2.5 0h0m3.5 0h0m1.5 0h0m3.5 0h0m3.5 0h0m0.5 0h0m3 0h0m2 0h0m0.5 0h0m1 0h0m0.5 0h0m1.5 0h0m2.5 0h0m0.9 0h0m0.5 0h0m0.5 0h0m1 0h0m0.5 0h0m1 0h0m0.5 0h0m1 0h0m0.5 0h0m0.5 0h0m0.5 0h0m0.5 0h0m1 0h0m1 0h0m0.5 0h0m1 0h0m0.5 0h0m0.5 0h0m0.5 0h0m0.5 0h0m1.5 0h0m0.5 0h0m1 0h0m0.5 0h0m1 0h0m0.5 0h0m0.5 0h0m1 0h0m2.5 0h0m0.5 0h0m0.5 0h0m0.5 0h0m0.5 0h0m0.5 0h0m0.5 0h0m1 0h0m0.5 0h0m0.5 0h0m0.5 0h0m0.5 0h0m0.5 0h0m0.9 0h0m0.5 0h0m0.5 0h0m1.5 0h0m0.5 0h0m1 0h0m0.5 0h0m3.5 0h0m2 0h0m1 0h0m0.5 0h0m0.5 0h0m0.5 0h0m1.5 0h0m0.5 0h0m0.5 0h0m2 0h0m1 0h0m1 0h0m0.5 0h0m0.5 0h0m0.5 0h0m7 0h0m1.5 0h0m0.4 0h0m1 0h0m2.5 0h0m5.5 0h0m2.5 0h0m2 0h0m2 0h0m9.5 0h0m7.4 0h0m2.5 0h0m5.5 0h0m1 0h0m4.5 0h0m12 0h0m7.4 0h0m3.5 0h0m0.5 0h0m10 0h0m7 0h0m5.9 0h0m3 0h0m2 0h0m20.9 0h0m7.5 0h0m3 0h0m1 0h0m1.5 0h0m25.9 0h0M94.3 166.1h0m18.9 0h0m0.5 0h0m17 0h0m28.9 0h0m21.4 0h0m33.4 0h0m4.5 0h0m7.4 0h0m3 0h0m4 0h0m5 0h0m9.5 0h0m1.5 0h0m9.9 0h0m11 0h0m4 0h0m3 0h0m1.5 0h0m0.5 0h0m7.9 0h0m7 0h0m1 0h0m0.5 0h0m2 0h0m0.5 0h0m0.5 0h0m0.5 0h0m0.5 0h0m1 0h0m0.5 0h0m0.5 0h0m1.5 0h0m0.5 0h0m0.5 0h0m0.5 0h0m4 0h0m0.5 0h0m0.5 0h0m1.4 0h0m2 0h0m1.5 0h0m0.5 0h0m1 0h0m0.5 0h0m1.5 0h0m0.5 0h0m0.5 0h0m1 0h0m1 0h0m0.5 0h0m0.5 0h0m1 0h0m0.5 0h0m1 0h0m0.5 0h0m0.5 0h0m0.5 0h0m1 0h0m0.5 0h0m0.5 0h0m0.5 0h0m0.5 0h0m0.5 0h0m1 0h0m1 0h0m0.5 0h0m0.5 0h0m1 0h0m1.5 0h0m0.5 0h0m0.5 0h0m0.5 0h0m0.5 0h0m0.5 0h0m1.5 0h0m0.5 0h0m2.9 0h0m0.5 0h0m0.5 0h0m0.5 0h0m2.5 0h0m1 0h0m0.5 0h0m1.5 0h0m1 0h0m2.5 0h0m1 0h0m1.5 0h0m1 0h0m1.5 0h0m0.5 0h0m1 0h0m0.5 0h0m0.5 0h0m5 0h0m1.5 0h0m0.5 0h0m2.4 0h0m2 0h0m2.5 0h0m1 0h0m0.5 0h0m6.5 0h0m3.5 0h0m1 0h0m1 0h0m1 0h0m1.5 0h0m29.9 0h0m2 0h0m26.4 0h0m32.9 0h0m5 0h0m29.4 0h0m17.4 0h0m12.4 0h0m6 0h0m12.5 0h0m6.5 0h0M81.8 163.2h0m30.4 0h0m57.3 0h0m28.9 0h0m36.4 0h0m10 0h0m4.5 0h0m1.5 0h0m5.4 0h0m3 0h0m4.5 0h0m6 0h0m0.5 0h0m8.5 0h0m0.5 0h0m2.9 0h0m2.5 0h0m2 0h0m1.5 0h0m0.5 0h0m4 0h0m1 0h0m1 0h0m0.5 0h0m0.5 0h0m2 0h0m1.5 0h0m1 0h0m0.5 0h0m2 0h0m0.5 0h0m0.5 0h0m1 0h0m1 0h0m0.5 0h0m2 0h0m1 0h0m1.9 0h0m0.5 0h0m0.5 0h0m2.5 0h0m0.5 0h0m0.5 0h0m0.5 0h0m1 0h0m1 0h0m0.5 0h0m3 0h0m0.5 0h0m1 0h0m1 0h0m1.5 0h0m0.5 0h0m0.5 0h0m0.5 0h0m0.5 0h0m1.5 0h0m0.5 0h0m0.5 0h0m1 0h0m1.5 0h0m0.5 0h0m2 0h0m0.5 0h0m0.5 0h0m0.5 0h0m1.5 0h0m0.5 0h0m1.5 0h0m0.4 0h0m0.5 0h0m1.5 0h0m6 0h0m4.5 0h0m0.5 0h0m1.5 0h0m1 0h0m0.5 0h0m0.5 0h0m2.5 0h0m2 0h0m7 0h0m10.9 0h0m7 0h0m20.9 0h0m4.5 0h0m27.4 0h0m5 0h0m4.5 0h0m15.9 0h0m3 0h0m18.5 0h0m2.9 0h0m0.5 0h0m12 0h0m48.8 0h0M110.2 160.3h0m19 0h0m28.4 0h0m31.4 0h0m26.9 0h0m24.9 0h0m1.5 0h0m12.9 0h0m1 0h0m13.5 0h0m3.5 0h0m4 0h0m4 0h0m0.9 0h0m2 0h0m1.5 0h0m1 0h0m2.5 0h0m4 0h0m1 0h0m1.5 0h0m1 0h0m1.5 0h0m1 0h0m3.5 0h0m0.5 0h0m3.5 0h0m1.5 0h0m1 0h0m1 0h0m0.5 0h0m0.4 0h0m0.5 0h0m1 0h0m1 0h0m0.5 0h0m1.5 0h0m0.5 0h0m0.5 0h0m0.5 0h0m0.5 0h0m1 0h0m1 0h0m1.5 0h0m1 0h0m0.5 0h0m0.5 0h0m0.5 0h0m0.5 0h0m2 0h0m0.5 0h0m1 0h0m0.5 0h0m1 0h0m0.5 0h0m0.5 0h0m0.5 0h0m0.5 0h0m0.5 0h0m1 0h0m0.5 0h0m2 0h0m1 0h0m0.5 0h0m1 0h0m1 0h0m0.5 0h0m0.5 0h0m0.5 0h0m1.9 0h0m0.5 0h0m1 0h0m1.5 0h0m1 0h0m1.5 0h0m1.5 0h0m4 0h0m0.5 0h0m0.5 0h0m0.5 0h0m2.5 0h0m0.5 0h0m1.5 0h0m3 0h0m3.5 0h0m1.5 0h0m0.5 0h0m3.4 0h0m0.5 0h0m5.5 0h0m4.5 0h0m6 0h0m1.5 0h0m3 0h0m6 0h0m3.4 0h0m2.5 0h0m63.3 0h0m12 0h0m0.5 0h0m5 0h0m3.4 0h0m4 0h0m5.5 0h0m11.5 0h0m16.4 0h0m20.4 0h0m26.5 0h0M84.3 157.4h0m10.5 0h0m10 0h0m6.9 0h0m6.5 0h0m0.5 0h0m6.5 0h0m67.8 0h0m9.4 0h0m33.9 0h0m5.5 0h0m3.5 0h0m7.9 0h0m2.5 0h0m1 0h0m6.5 0h0m3 0h0m0.5 0h0m0.5 0h0m2 0h0m3 0h0m4 0h0m2 0h0m6.4 0h0m1.5 0h0m1 0h0m1.5 0h0m0.5 0h0m2.5 0h0m0.5 0h0m3.5 0h0m1 0h0m1 0h0m0.5 0h0m1 0h0m4.5 0h0m1.5 0h0m1 0h0m0.5 0h0m2.5 0h0m1.5 0h0m0.4 0h0m0.5 0h0m0.5 0h0m1 0h0m1 0h0m1 0h0m0.5 0h0m0.5 0h0m1.5 0h0m0.5 0h0m1 0h0m0.5 0h0m0.5 0h0m0.5 0h0m0.5 0h0m1 0h0m0.5 0h0m0.5 0h0m0.5 0h0m0.5 0h0m1 0h0m0.5 0h0m0.5 0h0m0.5 0h0m0.5 0h0m0.5 0h0m0.5 0h0m0.5 0h0m0.5 0h0m0.5 0h0m1 0h0m0.5 0h0m0.5 0h0m0.5 0h0m2.5 0h0m0.5 0h0m0.5 0h0m0.5 0h0m1 0h0m0.5 0h0m0.5 0h0m0.5 0h0m1 0h0m0.5 0h0m0.9 0h0m0.5 0h0m0.5 0h0m0.5 0h0m0.5 0h0m0.5 0h0m0.5 0h0m0.5 0h0m0.5 0h0m0.5 0h0m1 0h0m0.5 0h0m1 0h0m3 0h0m1 0h0m1.5 0h0m2 0h0m1 0h0m4.5 0h0m0.5 0h0m0.5 0h0m0.5 0h0m3 0h0m0.5 0h0m1.5 0h0m2.9 0h0m1.5 0h0m7 0h0m3 0h0m3.5 0h0m12 0h0m1 0h0m4.9 0h0m14 0h0m11.9 0h0m60.3 0h0m8.5 0h0m22.4 0h0m48.9 0h0M79.8 154.5h0m12 0h0m18.9 0h0m3.5 0h0m64.3 0h0m6.5 0h0m3 0h0m4 0h0m2.9 0h0m22 0h0m9.4 0h0m23 0h0m4.4 0h0m3 0h0m1.5 0h0m2.5 0h0m1 0h0m4 0h0m8.5 0h0m2 0h0m6.4 0h0m1 0h0m2.5 0h0m1 0h0m1 0h0m5 0h0m1 0h0m1.5 0h0m1 0h0m1 0h0m2.5 0h0m1.5 0h0m0.5 0h0m5 0h0m0.5 0h0m1.5 0h0m1 0h0m0.9 0h0m2 0h0m1.5 0h0m0.5 0h0m3 0h0m0.5 0h0m1 0h0m1 0h0m1.5 0h0m0.5 0h0m0.5 0h0m0.5 0h0m0.5 0h0m0.5 0h0m1 0h0m0.5 0h0m0.5 0h0m0.5 0h0m0.5 0h0m0.5 0h0m1 0h0m0.5 0h0m0.5 0h0m0.5 0h0m0.5 0h0m0.5 0h0m1 0h0m1.5 0h0m0.5 0h0m1 0h0m1 0h0m0.5 0h0m1 0h0m1 0h0m0.5 0h0m0.5 0h0m1.9 0h0m0.5 0h0m1 0h0m1.5 0h0m0.5 0h0m1 0h0m0.5 0h0m1 0h0m0.5 0h0m0.5 0h0m2.5 0h0m2 0h0m2 0h0m1 0h0m1.5 0h0m1 0h0m0.5 0h0m9.5 0h0m8.9 0h0m4 0h0m0.5 0h0m8.5 0h0m3.5 0h0m6.9 0h0m43.4 0h0m65.8 0h0m20.4 0h0m9 0h0m1.5 0h0M114.7 151.6h0m17 0h0m15.4 0h0m9.5 0h0m3 0h0m12.4 0h0m12.5 0h0m2 0h0m3.5 0h0m36.8 0h0m5 0h0m6.5 0h0m9.5 0h0m4.9 0h0m1.5 0h0m5.5 0h0m3 0h0m0.5 0h0m6 0h0m1.5 0h0m4.5 0h0m0.5 0h0m2 0h0m1 0h0m0.5 0h0m3.4 0h0m0.5 0h0m6.5 0h0m3 0h0m5 0h0m1.5 0h0m0.5 0h0m1.5 0h0m5 0h0m2 0h0m1 0h0m1 0h0m2.4 0h0m1.5 0h0m2 0h0m1.5 0h0m0.5 0h0m0.5 0h0m0.5 0h0m1 0h0m1 0h0m1 0h0m0.5 0h0m0.5 0h0m0.5 0h0m0.5 0h0m0.5 0h0m0.5 0h0m0.5 0h0m1 0h0m0.5 0h0m0.5 0h0m0.5 0h0m0.5 0h0m0.5 0h0m0.5 0h0m0.5 0h0m0.5 0h0m0.5 0h0m0.5 0h0m0.5 0h0m0.5 0h0m0.5 0h0m0.5 0h0m0.5 0h0m0.5 0h0m0.5 0h0m0.5 0h0m0.5 0h0m2 0h0m0.5 0h0m0.5 0h0m0.5 0h0m0.5 0h0m0.4 0h0m2.5 0h0m1 0h0m0.5 0h0m0.5 0h0m1 0h0m1 0h0m1 0h0m0.5 0h0m2 0h0m0.5 0h0m0.5 0h0m1 0h0m1 0h0m0.5 0h0m0.5 0h0m1 0h0m1 0h0m1.5 0h0m0.5 0h0m1.5 0h0m1.5 0h0m0.5 0h0m1 0h0m4 0h0m1 0h0m0.5 0h0m1.4 0h0m3.5 0h0m1 0h0m2 0h0m6.5 0h0m1 0h0m2 0h0m6.5 0h0m5.5 0h0m0.5 0h0m1.9 0h0m14 0h0m6.5 0h0m7.4 0h0m15.5 0h0m28.9 0h0m14.4 0h0m13 0h0m2.5 0h0m6 0h0m8.9 0h0m31.4 0h0m16 0h0m6 0h0M88.3 148.7h0m13.5 0h0m51.8 0h0m13.4 0h0m62.3 0h0m1 0h0m1 0h0m6 0h0m3.5 0h0m3 0h0m36.9 0h0m3.9 0h0m5.5 0h0m4.5 0h0m1.5 0h0m2 0h0m3.5 0h0m1 0h0m4 0h0m4.4 0h0m2 0h0m2.5 0h0m1 0h0m0.5 0h0m3.5 0h0m1.5 0h0m2 0h0m0.5 0h0m1 0h0m0.5 0h0m0.5 0h0m2 0h0m2 0h0m0.5 0h0m0.5 0h0m2 0h0m1 0h0m0.5 0h0m0.5 0h0m1 0h0m1 0h0m1 0h0m4.4 0h0m0.5 0h0m0.5 0h0m1 0h0m0.5 0h0m2 0h0m1 0h0m7 0h0m6 0h0m1 0h0m4 0h0m2 0h0m0.5 0h0m3.9 0h0m2.5 0h0m1.5 0h0m5 0h0m1 0h0m2.5 0h0m7.5 0h0m8.4 0h0m6 0h0m12.5 0h0m72.7 0h0m58.3 0h0m13 0h0m0.5 0h0m8 0h0M103.3 145.8h0m8.4 0h0m3.5 0h0m10.5 0h0m6.5 0h0m21.4 0h0m1 0h0m2.5 0h0m4 0h0m23.4 0h0m26.4 0h0m23.9 0h0m7.5 0h0m6.5 0h0m5.9 0h0m3.5 0h0m6.5 0h0m3.5 0h0m12 0h0m3.4 0h0m3 0h0m1 0h0m1 0h0m0.5 0h0m3.5 0h0m1 0h0m1.5 0h0m2.5 0h0m1.5 0h0m1 0h0m1 0h0m1.5 0h0m2 0h0m1 0h0m1 0h0m1.5 0h0m0.5 0h0m1.5 0h0m0.5 0h0m0.9 0h0m0.5 0h0m0.5 0h0m0.5 0h0m1 0h0m0.5 0h0m0.5 0h0m0.5 0h0m0.5 0h0m0.5 0h0m1 0h0m0.5 0h0m0.5 0h0m1 0h0m1 0h0m1 0h0m0.5 0h0m1.5 0h0m1 0h0m0.5 0h0m0.5 0h0m1 0h0m0.5 0h0m1 0h0m0.5 0h0m0.5 0h0m0.5 0h0m0.5 0h0m0.5 0h0m0.5 0h0m0.5 0h0m0.5 0h0m0.5 0h0m0.5 0h0m0.5 0h0m0.5 0h0m0.5 0h0m1 0h0m0.5 0h0m1 0h0m2.5 0h0m0.5 0h0m0.9 0h0m1 0h0m1.5 0h0m1.5 0h0m1.5 0h0m1.5 0h0m0.5 0h0m1 0h0m0.5 0h0m2.5 0h0m1.5 0h0m4 0h0m0.5 0h0m0.5 0h0m0.5 0h0m0.5 0h0m2 0h0m16.4 0h0m1 0h0m1 0h0m8 0h0m6 0h0m3 0h0m1 0h0m3.4 0h0m4 0h0m5.5 0h0m1 0h0m7.5 0h0m27.4 0h0m10 0h0m13.4 0h0m17.9 0h0m35.4 0h0m5.5 0h0m20.9 0h0M80.3 142.9h0m72.8 0h0m16.4 0h0m9.5 0h0m50.8 0h0m27.4 0h0m18.5 0h0m7.4 0h0m4 0h0m0.5 0h0m2 0h0m5.5 0h0m0.5 0h0m0.5 0h0m1 0h0m3 0h0m3 0h0m0.5 0h0m0.5 0h0m4.5 0h0m0.5 0h0m1.5 0h0m0.4 0h0m2.5 0h0m0.5 0h0m2.5 0h0m1.5 0h0m0.5 0h0m2.5 0h0m0.5 0h0m0.5 0h0m0.5 0h0m0.5 0h0m0.5 0h0m2 0h0m1 0h0m0.5 0h0m0.5 0h0m0.5 0h0m0.5 0h0m0.5 0h0m0.5 0h0m1 0h0m1 0h0m0.5 0h0m1.5 0h0m0.5 0h0m1.5 0h0m0.5 0h0m0.5 0h0m0.5 0h0m1 0h0m0.5 0h0m0.5 0h0m1 0h0m0.4 0h0m1.5 0h0m3 0h0m3.5 0h0m6 0h0m0.5 0h0m0.5 0h0m0.5 0h0m3 0h0m2.5 0h0m5 0h0m1.5 0h0m0.5 0h0m6.9 0h0m1 0h0m0.5 0h0m15.5 0h0m3.5 0h0m3.9 0h0m34.9 0h0m10 0h0m62.8 0h0m26.4 0h0m9.5 0h0m20.4 0h0M80.8 140.0h0m19 0h0m6.4 0h0m62.8 0h0m5.5 0h0m2 0h0m37.9 0h0m12.4 0h0m25.9 0h0m4.5 0h0m1.5 0h0m8.5 0h0m16.4 0h0m4.5 0h0m3 0h0m2 0h0m5.5 0h0m0.5 0h0m0.5 0h0m2.5 0h0m0.5 0h0m0.5 0h0m0.5 0h0m1 0h0m0.5 0h0m0.5 0h0m1.5 0h0m0.5 0h0m1.5 0h0m0.5 0h0m0.5 0h0m0.5 0h0m0.4 0h0m2.5 0h0m1.5 0h0m1.5 0h0m0.5 0h0m0.5 0h0m1 0h0m1.5 0h0m1 0h0m0.5 0h0m0.5 0h0m1 0h0m0.5 0h0m0.5 0h0m1.5 0h0m0.5 0h0m0.5 0h0m0.5 0h0m0.5 0h0m0.5 0h0m0.5 0h0m1 0h0m1 0h0m1 0h0m0.5 0h0m0.5 0h0m0.5 0h0m1 0h0m0.5 0h0m0.5 0h0m0.5 0h0m0.5 0h0m2.5 0h0m1.5 0h0m1.4 0h0m0.5 0h0m0.5 0h0m0.5 0h0m1 0h0m1 0h0m0.5 0h0m0.5 0h0m0.5 0h0m1.5 0h0m1 0h0m0.5 0h0m0.5 0h0m1 0h0m0.5 0h0m2 0h0m1 0h0m1.5 0h0m0.5 0h0m0.5 0h0m1 0h0m1.5 0h0m2 0h0m0.5 0h0m0.5 0h0m0.5 0h0m2 0h0m1 0h0m0.5 0h0m0.5 0h0m1.5 0h0m1.9 0h0m1.5 0h0m2 0h0m3 0h0m9.5 0h0m2.5 0h0m13.9 0h0m11.5 0h0m14.9 0h0m3.5 0h0m26.4 0h0m13.5 0h0m1 0h0m16.4 0h0m16.5 0h0m1 0h0M79.3 137.1h0m3 0h0m19.5 0h0m43.3 0h0m1.5 0h0m19.4 0h0m24.5 0h0m33.8 0h0m7 0h0m37.4 0h0m3 0h0m4 0h0m2.5 0h0m3.4 0h0m1 0h0m2 0h0m2 0h0m2.5 0h0m1.5 0h0m1 0h0m2 0h0m1.5 0h0m1.5 0h0m1.5 0h0m2 0h0m1.5 0h0m0.5 0h0m3 0h0m1.5 0h0m2.5 0h0m1.5 0h0m2.4 0h0m1 0h0m0.5 0h0m0.5 0h0m1 0h0m0.5 0h0m1.5 0h0m1 0h0m0.5 0h0m1.5 0h0m1 0h0m0.5 0h0m0.5 0h0m0.5 0h0m2 0h0m0.5 0h0m0.5 0h0m0.5 0h0m0.5 0h0m0.5 0h0m1.5 0h0m1 0h0m0.5 0h0m2 0h0m0.5 0h0m1.5 0h0m1 0h0m0.5 0h0m1 0h0m2.5 0h0m0.4 0h0m1 0h0m0.5 0h0m0.5 0h0m0.5 0h0m0.5 0h0m1.5 0h0m7.5 0h0m3.5 0h0m3 0h0m4 0h0m6 0h0m2.4 0h0m0.5 0h0m2.5 0h0m1 0h0m0.5 0h0m2.5 0h0m0.5 0h0m4 0h0m4 0h0m2.5 0h0m23.9 0h0m1 0h0m26.9 0h0m31.9 0h0m32.9 0h0m61.8 0h0M92.3 134.2h0m28.4 0h0m83.7 0h0m4.5 0h0m1.5 0h0m27.9 0h0m3.5 0h0m7.5 0h0m16.9 0h0m4 0h0m7.5 0h0m0.5 0h0m3.4 0h0m1.5 0h0m7 0h0m5 0h0m0.5 0h0m4.5 0h0m2.5 0h0m1 0h0m4.5 0h0m1 0h0m1.9 0h0m2 0h0m2.5 0h0m2.5 0h0m1 0h0m2 0h0m1 0h0m1 0h0m1 0h0m0.5 0h0m2 0h0m0.5 0h0m0.5 0h0m0.5 0h0m1 0h0m0.5 0h0m0.5 0h0m1.5 0h0m1.5 0h0m0.5 0h0m0.5 0h0m0.5 0h0m0.5 0h0m1 0h0m0.5 0h0m1.5 0h0m1.5 0h0m1.4 0h0m1 0h0m0.5 0h0m1 0h0m0.5 0h0m1.5 0h0m0.5 0h0m3 0h0m0.5 0h0m1 0h0m0.5 0h0m0.5 0h0m1.5 0h0m2 0h0m2 0h0m1.5 0h0m5.5 0h0m8.4 0h0m2 0h0m2.5 0h0m7.5 0h0m4 0h0m3.5 0h0m7 0h0m17.9 0h0m16.9 0h0m59.3 0h0m1.5 0h0m35.9 0h0M107.2 131.3h0m31.9 0h0m15.5 0h0m11.4 0h0m27.5 0h0m5.9 0h0m35.9 0h0m4 0h0m19.4 0h0m6 0h0m2.5 0h0m1 0h0m8 0h0m5.4 0h0m2 0h0m0.5 0h0m1 0h0m3.5 0h0m0.5 0h0m3 0h0m3 0h0m2.5 0h0m0.5 0h0m0.5 0h0m3 0h0m1 0h0m2.5 0h0m2 0h0m0.5 0h0m2.5 0h0m0.5 0h0m1.4 0h0m0.5 0h0m1 0h0m2 0h0m1 0h0m0.5 0h0m0.5 0h0m0.5 0h0m0.5 0h0m0.5 0h0m0.5 0h0m1 0h0m1 0h0m0.5 0h0m0.5 0h0m2 0h0m3 0h0m0.5 0h0m1 0h0m0.5 0h0m0.5 0h0m2 0h0m2 0h0m0.5 0h0m2.5 0h0m0.5 0h0m1 0h0m1 0h0m0.5 0h0m1.9 0h0m1 0h0m1 0h0m1 0h0m0.5 0h0m0.5 0h0m0.5 0h0m0.5 0h0m1.5 0h0m3.5 0h0m1.5 0h0m1 0h0m1 0h0m0.5 0h0m1 0h0m1.5 0h0m0.5 0h0m5 0h0m5.5 0h0m1.4 0h0m2 0h0m0.5 0h0m3.5 0h0m6 0h0m4 0h0m5.5 0h0m21.9 0h0m1.5 0h0m1.5 0h0m27.9 0h0m1 0h0m33.9 0h0m2.5 0h0m9.9 0h0m2.5 0h0m17.5 0h0m0.5 0h0m26.9 0h0m30.4 0h0M126.2 128.4h0m23.4 0h0m84.2 0h0m31.4 0h0m28.9 0h0m0.5 0h0m1 0h0m3 0h0m1 0h0m3 0h0m4.5 0h0m3.9 0h0m0.5 0h0m3.5 0h0m2 0h0m0.5 0h0m0.5 0h0m1.5 0h0m1.5 0h0m1 0h0m3 0h0m1 0h0m1 0h0m2 0h0m1 0h0m0.5 0h0m0.5 0h0m1.5 0h0m3 0h0m0.5 0h0m0.5 0h0m3 0h0m0.9 0h0m1.5 0h0m0.5 0h0m2.5 0h0m5 0h0m1.5 0h0m2.5 0h0m1.5 0h0m2.5 0h0m0.5 0h0m3.5 0h0m2 0h0m0.5 0h0m4 0h0m0.5 0h0m9.4 0h0m3.5 0h0m10 0h0m2.5 0h0m5.4 0h0m1.5 0h0m54.9 0h0M211.4 125.5h0m3 0h0m36.4 0h0m7.4 0h0m9.5 0h0m5.5 0h0m17.9 0h0m9.5 0h0m2.5 0h0m2 0h0m5 0h0m3.4 0h0m1 0h0m1 0h0m1 0h0m2 0h0m1.5 0h0m2 0h0m1 0h0m1.5 0h0m1 0h0m0.5 0h0m0.5 0h0m1.5 0h0m1.5 0h0m0.5 0h0m0.5 0h0m0.5 0h0m3.5 0h0m2 0h0m0.5 0h0m0.5 0h0m2.5 0h0m1.4 0h0m0.5 0h0m0.5 0h0m2 0h0m4 0h0m0.5 0h0m1.5 0h0m3 0h0m2 0h0m5 0h0m0.5 0h0m0.5 0h0m6 0h0m84.7 0h0M113.7 122.6h0m120.6 0h0m7 0h0m19.4 0h0m21.9 0h0m3.5 0h0m4.5 0h0m3 0h0m5 0h0m4 0h0m4.5 0h0m0.5 0h0m5.4 0h0m1 0h0m1 0h0m0.5 0h0m0.5 0h0m2.5 0h0m5 0h0m1 0h0m2 0h0m2.5 0h0m2 0h0m1.5 0h0m1 0h0m3.5 0h0m1.5 0h0m0.5 0h0m0.5 0h0m2.9 0h0m1.5 0h0m6 0h0m4.5 0h0m1 0h0m3 0h0m1 0h0m13.9 0h0m14.5 0h0m1.5 0h0m9 0h0m16.4 0h0m19.9 0h0m108.7 0h0M193.5 119.7h0m22.4 0h0m19.4 0h0m6.5 0h0m23.4 0h0m5 0h0m10 0h0m3.4 0h0m8.5 0h0m5 0h0m1 0h0m1.5 0h0m0.5 0h0m1 0h0m2 0h0m1 0h0m1 0h0m0.5 0h0m1.5 0h0m0.5 0h0m1.5 0h0m1 0h0m1.9 0h0m0.5 0h0m1 0h0m0.5 0h0m3.5 0h0m0.5 0h0m0.5 0h0m0.5 0h0m1 0h0m0.5 0h0m0.5 0h0m1 0h0m2 0h0m1 0h0m0.5 0h0m0.5 0h0m0.5 0h0m1 0h0m1.5 0h0m1.5 0h0m1 0h0m0.5 0h0m0.5 0h0m1 0h0m1.5 0h0m0.5 0h0m0.5 0h0m1.5 0h0m1.5 0h0m1.9 0h0m0.5 0h0m0.5 0h0m1 0h0m0.5 0h0m1 0h0m0.5 0h0m1 0h0m3 0h0m0.5 0h0m1 0h0m1.5 0h0m0.5 0h0m3 0h0m7.5 0h0m1.5 0h0m1 0h0m5.4 0h0m1.5 0h0m2 0h0m2 0h0m16 0h0m1 0h0m3 0h0m24.4 0h0m25.9 0h0m22.9 0h0m11.5 0h0m44.3 0h0m44.9 0h0M109.7 116.8h0m24.5 0h0m72.7 0h0m31.9 0h0m7 0h0m8.4 0h0m20.5 0h0m6.9 0h0m1.5 0h0m5.5 0h0m0.5 0h0m4 0h0m1.5 0h0m1 0h0m3 0h0m0.5 0h0m0.5 0h0m2.5 0h0m1.5 0h0m1 0h0m2 0h0m2.5 0h0m2.4 0h0m2 0h0m1 0h0m1 0h0m0.5 0h0m2.5 0h0m0.5 0h0m1 0h0m1 0h0m0.5 0h0m1.5 0h0m1.5 0h0m0.5 0h0m1 0h0m1 0h0m0.5 0h0m1.5 0h0m0.5 0h0m2 0h0m0.5 0h0m3.5 0h0m1 0h0m3.5 0h0m1.4 0h0m2 0h0m0.5 0h0m4.5 0h0m3 0h0m2 0h0m1.5 0h0m0.5 0h0m12.5 0h0m1.5 0h0m10.4 0h0m1.5 0h0m4.5 0h0m5 0h0m5.5 0h0m44.8 0h0m6 0h0m35.9 0h0m33.3 0h0m22.5 0h0m26.9 0h0M97.8 113.9h0m44.8 0h0m52.8 0h0m6 0h0m9.5 0h0m22.4 0h0m7 0h0m16.9 0h0m39.9 0h0m0.5 0h0m4 0h0m0.5 0h0m8.9 0h0m2 0h0m1 0h0m1 0h0m1 0h0m1 0h0m2 0h0m0.5 0h0m0.5 0h0m1 0h0m0.5 0h0m0.5 0h0m1 0h0m1.5 0h0m1 0h0m1 0h0m1.5 0h0m0.5 0h0m0.5 0h0m0.5 0h0m3 0h0m0.5 0h0m1 0h0m1.5 0h0m0.5 0h0m1.5 0h0m2.9 0h0m1.5 0h0m1 0h0m0.5 0h0m2 0h0m3.5 0h0m1.5 0h0m8.5 0h0m1.5 0h0m5 0h0m1 0h0m6.4 0h0m4.5 0h0m16.5 0h0m2.5 0h0m33.8 0h0m7.5 0h0m56.3 0h0m15 0h0m43.3 0h0M78.3 111.0h0m23.5 0h0m47.8 0h0m113.1 0h0m36.9 0h0m3.5 0h0m1 0h0m2 0h0m3.5 0h0m0.5 0h0m2.9 0h0m2.5 0h0m2.5 0h0m1.5 0h0m2.5 0h0m0.5 0h0m1.5 0h0m5.5 0h0m2 0h0m0.5 0h0m0.5 0h0m1 0h0m2 0h0m0.5 0h0m1.5 0h0m1 0h0m1.9 0h0m1 0h0m1 0h0m1.5 0h0m1 0h0m3.5 0h0m1.5 0h0m9.5 0h0m1 0h0m6 0h0m2.5 0h0m10.4 0h0m3 0h0m20.9 0h0m78.3 0h0M186 108.1h0m6 0h0m71.2 0h0m25.9 0h0m2.5 0h0m2.5 0h0m6 0h0m1.5 0h0m3.5 0h0m2 0h0m2 0h0m1.5 0h0m0.4 0h0m3 0h0m0.5 0h0m2 0h0m1 0h0m0.5 0h0m1 0h0m0.5 0h0m0.5 0h0m2 0h0m1.5 0h0m1.5 0h0m0.5 0h0m1.5 0h0m0.5 0h0m1.5 0h0m0.5 0h0m1.5 0h0m1 0h0m3.5 0h0m2.5 0h0m3.9 0h0m0.5 0h0m1 0h0m1.5 0h0m1.5 0h0m4.5 0h0m3.5 0h0m1 0h0m3.5 0h0m8 0h0m9.9 0h0m1.5 0h0m1 0h0m8.5 0h0m5.5 0h0m2 0h0m10.4 0h0m55.3 0h0m70.8 0h0M170.5 105.2h0m10 0h0m85.2 0h0m12 0h0m12.9 0h0m11.5 0h0m5.5 0h0m1.5 0h0m1.9 0h0m1 0h0m2 0h0m0.5 0h0m1 0h0m0.5 0h0m2 0h0m0.5 0h0m1 0h0m1.5 0h0m0.5 0h0m4 0h0m3 0h0m0.5 0h0m4.5 0h0m1 0h0m3.5 0h0m6.4 0h0m2.5 0h0m3 0h0m4.5 0h0m1.5 0h0m8 0h0m4 0h0m4.9 0h0m4 0h0m2 0h0m2.5 0h0m4 0h0m25.4 0h0m148.5 0h0M128.7 102.3h0m25.9 0h0m72.2 0h0m14 0h0m50.3 0h0m7 0h0m5 0h0m4 0h0m3.5 0h0m0.4 0h0m2 0h0m2.5 0h0m3 0h0m0.5 0h0m2 0h0m1 0h0m8.5 0h0m1.5 0h0m1 0h0m0.5 0h0m1 0h0m1 0h0m1 0h0m2 0h0m1 0h0m4.9 0h0m2 0h0m13 0h0m1 0h0m7 0h0m26.4 0h0m1.5 0h0m111.6 0h0m8 0h0m27.4 0h0m14.9 0h0M264.2 99.4h0m23.4 0h0m0.5 0h0m2.5 0h0m3 0h0m3.5 0h0m5 0h0m1 0h0m5.5 0h0m5.9 0h0m0.5 0h0m0.5 0h0m0.5 0h0m1.5 0h0m3.5 0h0m1 0h0m1.5 0h0m3.5 0h0m1 0h0m3 0h0m2 0h0m0.5 0h0m4.5 0h0m4.4 0h0m1.5 0h0m4.5 0h0m5.5 0h0m6.5 0h0m10.4 0h0m11 0h0m2.5 0h0m0.5 0h0m2 0h0m11 0h0m74.7 0h0m35.4 0h0M196.4 96.5h0m14 0h0m26.9 0h0m16.4 0h0m13.5 0h0m3 0h0m2 0h0m15.9 0h0m7.5 0h0m3 0h0m11 0h0m1 0h0m3.4 0h0m1.5 0h0m4 0h0m0.5 0h0m1 0h0m2 0h0m1.5 0h0m1.5 0h0m1 0h0m4.5 0h0m1.5 0h0m1 0h0m0.5 0h0m0.5 0h0m7.9 0h0m1 0h0m1.5 0h0m3.5 0h0m1.5 0h0m1.5 0h0m2.5 0h0m2.5 0h0m6.5 0h0m3.5 0h0m17.9 0h0m4 0h0m23.4 0h0m64.8 0h0m33.9 0h0M270.2 93.6h0m33.4 0h0m3 0h0m2.5 0h0m12.4 0h0m2.5 0h0m2.5 0h0m2.5 0h0m1 0h0m1 0h0m0.5 0h0m4.5 0h0m12.4 0h0m11 0h0m30.4 0h0M157.1 90.7h0m135.5 0h0m6 0h0m3.5 0h0m6 0h0m5.9 0h0m1.5 0h0m1 0h0m8 0h0m2.5 0h0m2.5 0h0m1 0h0m12.9 0h0m4.5 0h0m8 0h0m13.5 0h0m1.4 0h0m2 0h0m61.8 0h0m62.3 0h0M90.8 87.8h0m64.8 0h0m28.4 0h0m63.3 0h0m6.9 0h0m22 0h0m33.4 0h0m2.4 0h0m5.5 0h0m1.5 0h0m3.5 0h0m9 0h0m0.5 0h0m2 0h0m1 0h0m9.9 0h0m16 0h0m3 0h0m35.3 0h0m148.5 0h0m22.5 0h0M199.9 84.9h0m90.7 0h0m8 0h0m1.5 0h0m11.9 0h0m5.5 0h0m12.5 0h0m26.4 0h0m4 0h0m2.5 0h0m7.9 0h0M298.1 82.0h0m3 0h0m9.9 0h0m10 0h0m11 0h0m1.5 0h0m1.5 0h0m2.5 0h0m22.9 0h0m19.9 0h0M219.9 79.1h0m104.6 0h0m6.5 0h0m2 0h0m195.8 0h0M213.9 76.2h0m111.6 0h0m23.9 0h0m5.5 0h0M321 73.3h0m8.5 0h0m0.5 0h0m0.5 0h0m51.3 0h0M313.5 70.4h0M81.3 67.5h0m186.9 0h0m10 0h0m4.4 0h0m17.5 0h0m0.5 0h0m1 0h0m0.5 0h0m0.5 0h0m5.5 0h0m0.5 0h0m6.4 0h0m1 0h0m0.5 0h0m1.5 0h0m3.5 0h0m2.5 0h0m0.5 0h0m4.5 0h0m0.5 0h0m1 0h0m2.5 0h0m2.5 0h0m2 0h0m2.5 0h0m0.9 0h0m1.5 0h0m6.5 0h0m2.5 0h0m12.5 0h0m6.4 0h0m4 0h0m1.5 0h0m18.5 0h0m164.9 0h0" stroke="#000" stroke-width="1.7" stroke-linecap="round" fill="none"/>
<g clip-path="url(#c0)">
<path d="M267.95 580.20V47.75" stroke="#006400" stroke-width="2.25" stroke-dasharray="9.0 9.0" stroke-linecap="round" fill="none"/>
<path d="M383.05 580.20V47.75" stroke="#006400" stroke-width="2.25" stroke-dasharray="9.0 9.0" stroke-linecap="round" fill="none"/>
<path d="M59.70 386.50H592.20" stroke="#CD2626" stroke-width="2.25" stroke-dasharray="9.0 9.0" stroke-linecap="round" fill="none"/>
</g>
<rect x="59.70" y="47.75" width="532.50" height="532.45" fill="none" stroke="#000" stroke-width="0.75"/>
<path d="M126.18 580.20H524.82M126.18 580.20v6M225.84 580.20v6M325.50 580.20v6M425.16 580.20v6M524.82 580.20v6" fill="none" stroke="#000" stroke-width="0.75"/>
<text transform="translate(126.18 602.10) scale(0.93 1)" font-size="10.8" text-anchor="middle">-400</text>
<text transform="translate(225.84 602.10) scale(0.93 1)" font-size="10.8" text-anchor="middle">-200</text>
<text transform="translate(325.50 602.10) scale(0.93 1)" font-size="10.8" text-anchor="middle">0</text>
<text transform="translate(425.16 602.10) scale(0.93 1)" font-size="10.8" text-anchor="middle">200</text>
<text transform="translate(524.82 602.10) scale(0.93 1)" font-size="10.8" text-anchor="middle">400</text>
<path d="M59.70 67.50V502.50M59.70 502.50h-6M59.70 357.50h-6M59.70 212.50h-6M59.70 67.50h-6" fill="none" stroke="#000" stroke-width="0.75"/>
<text transform="translate(44.90 503.20) rotate(-90)" font-size="11" text-anchor="middle">85</text>
<text transform="translate(44.90 358.20) rotate(-90)" font-size="11" text-anchor="middle">90</text>
<text transform="translate(44.90 213.20) rotate(-90)" font-size="11" text-anchor="middle">95</text>
<text transform="translate(44.90 68.20) rotate(-90)" font-size="11" text-anchor="middle">100</text>
<text x="323.05" y="31.90" font-size="21.4" font-weight="bold" text-anchor="middle">Top hit for each peak</text>
<text x="325.95" y="626.00" font-size="15.9" text-anchor="middle">Distance to peak summit</text>
<text transform="translate(22.10 314.38) rotate(-90)" font-size="15.75" text-anchor="middle">Motif score</text>
<g clip-path="url(#c1)" filter="url(#hb)">
<path fill="#fcfcff" fill-rule="evenodd" d="M885.5 50l1 -2 169.5 0 4 4 4.5 8 1.5 2 2 1.5 4 2 16 4 4 -0.5 10 -5.5 2 1 2 -0.5 4 -2.5 8 -7 4 -2 4 0 4 2 3.5 3.5 2.5 4 2.5 6 2 8 0 14 0.5 4 1 2 1 2 3 2.5 4 1.5 2 0 2.5 0 1.5 -1 1 -1 0.5 -2 0.5 -4 -1 -4 -1 -3.5 -5 -10.5 -0.5 -2 0 -4 1 -4 2 -4 2.5 -3 2 -1 2 -0.5 2 0 2 1 4 3 4 4.5 2 1.5 2 1 2 0.5 2 -0.5 6 -3 4 -1 4 0.5 2 0.5 4 3 4 4 3 3.5 5 7.5 2 2.5 2 1 2 -1.5 3.5 -9.5 3 -6 3.5 -4 4 -3 0 374 -5 11 -1 4 0 4 1 12 0 4 -0.5 4 -2.5 6 -2 2.5 -2 1.5 -4 2 -14 5.5 -6 0.5 -4 -1 -4 -2 -4 -3 -6 -6.5 -2 -1 -2 -0.5 -2 0.5 -4 1 -8 4 -4 0.5 -10 -1.5 -2 0.5 -2 1 -4 3 -4 2 -4 0.5 -2 -0.5 -2 -1 -2 -1.5 -2 -2.5 -2.5 -4 -3.5 -12 -4.5 -18 -1.5 -3.5 -2 -3 -2 -1 -2 -0.5 -2 0.5 -8 5 -4 1.5 -4 1 -4 0 -2 -1 -2 -1.5 -2.5 -3.5 -5.5 -9.5 -2 -2 -2 -0.5 -2 2 -0.5 4 0 12 0 4 -1 2 -1 2 -2.5 2 -3 1 -2 0 -8 -2 -4 0.5 -4 2 -6 5 -2 1.5 -8 2.5 -4 1.5 -8 7 -4 3 -2 1 -4 0.5 -14 -1.5 -4 -1 -3 -3 -4 -6 -2 -2 -2.5 -2 -4.5 -2.5 -6 -1.5 -14 -0.5 -2 1 -1 1.5 -3.5 14 -2 6 -2.5 4 -3 4 -2 2 -2 1 -4 1 -4 -1 -2 -1.5 -10 -11 -2 -1 -2 0 -4 1 -2 0 -2 -0.5 -2 -1.5 -6 -7.5 -8 -7 -7.5 -10 -7 -8 -2.5 -4 -3.5 -10 -2.5 -4 -3 -3 -4 -1 -4 0 -2 1 -2 1 -2 2 -1 2 -1 3.5 0 2.5 0.5 6 1.5 5 2 3.5 6.5 7.5 1 2 1 4 -0.5 4 -1.5 4 -3.5 4 -5 3 -6 2.5 -4 0.5 -2 0 -4 -1.5 -3.5 -2.5 -6.5 -6 -2 -1 -2 0.5 -4 7.5 -2 2.5 -2 1 -4 0.5 -8 -1 -6 0.5 -2 0 -2 -0.5 -1.5 -2 -1 -2 -0.5 -4 1 -4 2.5 -10 2 -8 1 -8 -0.5 -6 -1.5 -4 -3.5 -4 -4 -2.5 -2 -1 -4 -0.5 -4 0 -3.5 2 -2.5 3.5 -3 6.5 -3 4.5 -4 3 -8.5 4.5 -2.5 2 -1 1.5 -1 2.5 -0.5 2 0.5 12 -0.5 4 -2 4 -2.5 2.5 -2 0.5 -2 0.5 -4 -1.5 -4 -2 -11.5 -8 -4 -2 -2.5 -0.5 0 -380.5 2.5 -17 0.5 -14 1.5 -4 1.5 -2.5 2 -1.5 2 0 2 1 9 5 17 6 6 1 10 -0.5 6 1 2 1 2.5 1.5 7 8 2.5 2 2 1 4 1 10 0 2 0.5 6 3 2 -1 0.5 -0.5 0 -2 1 -10 1.5 -6 3 -4.5 4 -3 6 -1.5 10 -1.5 6 1 8 2.5 4 0.5 2 -0.5 6 -2 4 -0.5 2 0.5 2 1.5 3.5 3.5 2.5 1.5 2 1 4 0 6 -2.5 2.5 -2 1.5 -2zM1152 378l-2 0.5 -1 1.5 -1 3 -1 5 0 6 0 4 1 5.5 1.5 4.5 2.5 6 8 10 4 3.5 2 0.5 2 -0.5 2 -2 1.5 -1.5 2 -4 0.5 -4 -0.5 -4 -2 -4 -6.5 -10 -1.5 -4 -3.5 -10 -1 -2 -3 -3 -2 -1z"/>
<path fill="#f9f9ff" fill-rule="evenodd" d="M911 50l4 -2 102 0 9 10 2.5 2 5.5 3 2 0 2 0 8 -3.5 4 -0.5 4 2 2 1.5 6 6.5 4 2.5 2 1 8 1 4 1 10 5 2 0.5 2 0.5 2 -0.5 6 -4 2 3.5 4 -2 4 -3 5.5 -6.5 2.5 -2.5 2 -1.5 2 0 2 0 2 1.5 2 2.5 2 4.5 1.5 7.5 0.5 14 1 4 2 4 2 2 3 2 12 4 4 1 2.5 -1 1.5 -1.5 1 -2.5 1 -3.5 0.5 -4.5 1 -14 0.5 -2 2 -1.5 8 0 4 -1 8 -4 4 -0.5 2 0.5 4 2.5 2.5 2 3.5 4 5 8 3 3 4 3 4 1.5 2 0.5 1.5 -2 0.5 -12 1 -6 3 -5.5 4 -4.5 0 35 -2 0 -2 0.5 -0.5 2.5 0.5 6 3 12 0.5 6 0 6 -1 14 1.5 15 0 218.5 -1 10.5 -2.5 16 0.5 14 -1.5 6 -2.5 4 -3 2 -7 2 -2.5 2 -1.5 2 -3 6 -2 5 -4.5 15 -2.5 4 -2 2 -3 1 -2 0 -2 -1 -8 -5.5 -4 -1 -6 0.5 -10 3 -4 0.5 -4 -0.5 -6 -3.5 -2 -0.5 -2 0 -2 1 -8 6.5 -2 0.5 -2 0 -2 -1 -3 -4 -3 -7 -2 -6 -3.5 -13 -2.5 -6.5 -2 -3.5 -2 -3 -2 -1.5 -2 -1.5 -2 -0.5 -2 1 -2 1 -6.5 8.5 -2.5 2 -3 1 -2 0 -2 -1 -2 -1.5 -2 -2.5 -2 -6 -0.5 -4 0 -4 0.5 -2 1.5 -2 4.5 -4.5 1 -1.5 0 -2 -1 -4 -1 -2 -1 -1.5 -2 -1 -2 0 -2 2 -3.5 8.5 -1.5 2 -7 5.5 -4 4.5 -3 6 -3 11.5 -1 2.5 -1 1.5 -2 1 -8 0.5 -8 2.5 -2 0 -2 -0.5 -2 -2 -1 -3 -2 -10 -1.5 -4 -1.5 -2 -2 -1 -2 -0.5 -2 1 -1.5 2.5 -1 2 0 6 0.5 2.5 2 5.5 1 2 2 4 0 2 -0.5 2 -2.5 4 -4.5 6 -3.5 3.5 -4 2 -2 0 -2 -1 -2 -2 -2 -4.5 -1 -8 -1 -4 -2 -4 -2 -2 -2 -1.5 -4 -1.5 -4 0 -2 0.5 -3.5 2.5 -2.5 5.5 -2 1.5 -4 0.5 -10 -0.5 -2 -0.5 -2 -1.5 -6 -10 -2 -2 -1.5 -1 -2.5 -0.5 -8 -0.5 -2 -0.5 -4 -2 -6 -4.5 -2 -1 -2 0.5 -2 1 -2 2.5 -2 3 -2 6 -2 8 -0.5 2 -1.5 2 -4 3 -4 1 -2 -0.5 -4 -2 -8 -7.5 -6 -3.5 -4 -3.5 -4 -6 -10 -18.5 -2 -1.5 -2 0 -6 2.5 -10 3 -4 2.5 -1.5 1 -1.5 2 -1 2 0 4 0.5 10 2 8 4 12 1 4 0 2 -1.5 3.5 -2 2.5 -2 1 -2 0.5 -2 0 -2 -1 -3 -2.5 -2.5 -4 -4.5 -9.5 -2 -3 -6.5 -7.5 -0.5 -2 0 -2 2.5 -12 0 -2 -1.5 -2 -2 -1 -4 -1 -4 0 -8 1.5 -4 -1 -2 -1 -4 -3 -8 -9 -2 -1.5 -2 -0.5 -2 0.5 -2 1 -6 5 -4 2 -4 1.5 -2 0 -2 -0.5 -2 -2 -0.5 -1 -2.5 -6 -1 -6 -1.5 -12 -1 -4 -2 -4 -1.5 -1.5 -2 -1 -2 0.5 -2 1.5 -2 2 -1.5 2.5 -0.5 2 -1 4 0.5 6 2.5 8 4 9 2 3 2 2.5 6 4.5 2 3 0.5 2 -0.5 4 -1.5 2 -1.5 2 -13 10 -8 9 -2 1 -2 0.5 -14 1.5 0 -51 0.5 -5 0.5 -6 -1 -9 0 -250.5 1 -10.5 0.5 -24 1 -8 1 -6 2 -8 2.5 -8 2 -4 2 -3 2 -2 2 -1 2 -0.5 4 -0.5 6 0.5 12 5 8 2.5 2 1.5 2 1.5 1.5 2 4.5 7.5 2 1.5 2 0.5 10 -2 10 1 6 1.5 10 6.5 2 0.5 2 0 2 -1 2 -1.5 2 -2.5 1.5 -4 1 -12 1 -4 2.5 -4 4 -3 6 -1.5 6 0 4 1 6 3 4 1 10 0.5 10 2.5 4 0 18 -5.5 3 -2 2 -2 5 -7 2 -2 4 -2zM1144 366.5l-2 1.5 -1 2 -0.5 4 0 6 1 14 2 8 2 8 2 4 2 4 8 10 4.5 7 2 2 2 0.5 2 -0.5 2 -1.5 3 -3.5 5.5 -8 0.5 -2 1 -4 -1 -6 -3 -6 -5.5 -8 -2.5 -4 -1.5 -4 -2 -10 -2.5 -4 -2.5 -2 -11.5 -7 -2 -0.5zM736 211.5l-1.5 2.5 -0.5 2 0.5 2 1.5 1.5 2 -1 0.5 -0.5 1 -2 0 -2 -0.5 -2 -1 -1.5zM758 357l-2 1 -2.5 2 -1.5 2 -1.5 4 0 4 1.5 4 2 2.5 2 1 2 0 2 -1 2 -2 2 -2.5 2 -4 1 -4 -0.5 -4 -2.5 -3 -2 -0.5 -2 0zM864 384l-2 1.5 -1.5 2.5 -1.5 6 -0.5 4 0 4 0 2 1.5 2 2 0 2 -1 7 -5 3 -3 2 -3.5 0 -3.5 -0.5 -2 -1 -2 -2 -2 -2.5 -1 -2 -0.5 -2 0.5zM793 450l1 -1 2 0 2 0.5 1 0.5 1.5 2 0.5 2 -0.5 4 -2.5 6 -2 2.5 -2 1 -2 -0.5 -1 -1 -1 -2 -0.5 -2 0 -4 0.5 -2.5 1.5 -3.5zM917.5 456l2.5 -0.5 2 0 2 0.5 2 1.5 2 1.5 2 3 2 4 1 6 -1 5 -2 5 -2 2 -2 1.5 -2 0.5 -2 -0.5 -2 -1.5 -2 -2 -2.5 -4 -2.5 -6 -1 -6 0 -4 0.5 -2 1.5 -2zM1210 460l2 -1 2 0 2 1 1.5 2 1 2 0.5 4 -1 3 -2 2.5 -2 0.5 -2 0 -3.5 -2 -1 -2 -1 -2 0.5 -4 1 -2z"/>
<path fill="#f5f5ff" fill-rule="evenodd" d="M938.5 50l1.5 -2 55.5 0 7.5 8 4.5 4 3.5 2 21 9.5 6 1 4 0 6 -1 2 0.5 2 0.5 7 5.5 3 1.5 4 0.5 8 0 4 1 2 1 4 4 2.5 4 2 6 3.5 13.5 2 3 3 -6.5 2.5 -4 2.5 -3 2 1.5 4 -3 4 -2 4 -0.5 2 0 2 0.5 3 2.5 7 11 2 2.5 2 1.5 4 1.5 10 2 4 2 8 4.5 2 1 2 0 2 -0.5 2 -1.5 2 -4 2 -14.5 1 -3.5 2 -4 4 -4 5 -3.5 4 -1.5 2 -0.5 2 0 2 1 2 1.5 2 2 7 9 3 2.5 7.5 5.5 3.5 4 2 4 1.5 6 0.5 4 0 10 0 4 5.5 26 1.5 20 2 4.5 0 61.5 -1 4 -0.5 6 0.5 4 1 4 0 78 -1.5 4 -0.5 2.5 -2 33.5 -1 6 -1.5 6 -3.5 7 -8 11 -12 21 -6 7.5 -4 4 -4 2 -4 0.5 -4 -0.5 -2 -0.5 -1.5 -2 0.5 -2 1.5 -4 7 -10 2 -4 1 -2 0.5 -4 -0.5 -4 -2 -6 -12 -24 -1 -6 0 -12 -0.5 -2 -1 -1 -8 -1 -6 -2 -4 -2 -8 -5.5 -2 -1 -2 0 -2 0.5 -2 2 -6 8.5 -2 2.5 -2 1 -4.5 2 -1.5 2 -0.5 2 0 14 0.5 4 1.5 4 0.5 1 2 1.5 6 1 2 0.5 2 1.5 3 4.5 5 12 7 10 1.5 2 1 4 0 4 0 2 -1.5 3 -2 2.5 -2 1.5 -4 2 -4 1 -4 1 -2 -0.5 -2 -0.5 -2 -1.5 -2 -3 -4 -9 -5.5 -14.5 -2.5 -4.5 -2 -1.5 -2 -1 -10 -4 -4 -2.5 -4 -4 -8 -11 -4 -3 -2 -1 -2 0 -2.5 0.5 -2.5 2 -9 14 -14 16 -2 2 -2 1 -2 0 -2 -0.5 -2 -1.5 -8 -12 -2 -2 -2 -1.5 -2 -0.5 -4 0.5 -8 3.5 -2 1 -3 4 -2 4 -3 12 -2 3.5 -2 1.5 -2 0.5 -4 -1 -12 -5 -4 -1.5 -4 0 -8 1 -4 0 -4 -2 -8 -4 -4 -1.5 -4 -0.5 -8 0.5 -2 -0.5 -4 -2 -6 -5 -2 -1.5 -2 -0.5 -2 0 -2 1 -2 2 -6 8 -4 4 -4 2.5 -2 0.5 -2 0 -4 -2 -6 -5 -2 -1 -6 -0.5 -2 -1 -2.5 -2.5 -2 -4 0 -4 0.5 -2 1 -2 3 -3 6 -3.5 2 -1.5 2 -4 1 -4 0 -2 -1 -4 -1.5 -4 -4.5 -5.5 -4 -3.5 -2.5 -1 -3.5 -1 -9 -1 -3 -1.5 -2 -4 -3.5 -12.5 -2.5 -5.5 -2 -3.5 -2 -2 -2 -0.5 -2 2.5 -0.5 1 -2.5 14 -2 6 -4 8 -7.5 14 -6.5 18 -2.5 4 -2.5 3 -4 2.5 -4 1 -6 0.5 -6 -0.5 -4 -1 -2 -1 -4 -3.5 -6 -7.5 -9 -7.5 -2 -2 -1.5 -2 -1 -4 0.5 -4 2.5 -6 4.5 -10 1.5 -6 0 -4 -1.5 -4 -2 -3.5 -2 -1.5 -2 -1 -4 -0.5 -6 2.5 -6.5 4 -7.5 8 -2 1.5 -2 0.5 -2 0 -4 -1.5 -2 2 -0.5 3.5 -2 6 -10 20 -2 6 1 4 3.5 8 2 6 1.5 8 0.5 4 -0.5 2 -1.5 3 -8 6 -7.5 11 -4.5 3.5 0 -27 3.5 -2.5 2 -4 3.5 -16 0.5 -4 -1 -4 -5.5 -12 -3 -5.5 0 -45 0.5 -3.5 0.5 -4 -1 -9.5 0 -62 0.5 -8.5 -0.5 -5 0 -80.5 3 -18.5 1.5 -26 1 -10 2.5 -9.5 4 -10.5 2.5 -6 3.5 -4 2 -1.5 4 -1.5 4 0.5 6 2.5 8 6 4 4 4 6 3 4 3 2.5 2 1 2 0.5 2 0 6 -4 4 -2 4 -1 4 0.5 4 1 3 1.5 3 2 8 7.5 2 1 2 0 2 -0.5 2 -1 12 -10.5 6.5 -4.5 2 -2 1 -2 0 -6 1 -2 1.5 -1 2 0 2 0.5 4 2 2 0 10 -0.5 12 0 5 -1 11 -4.5 12 -1 2 -1 2 -1.5 6 -6 4 -3 16.5 -5 10 -4 5.5 -3.5zM1104 130.5l-0.5 5.5 0.5 8.5 1.5 -2.5 0.5 -2 -0.5 -4zM1144 215l-2 2 -0.5 3 0.5 4 2 1 2 -2.5 0.5 -2.5 -0.5 -3.5zM1180 334l-2 0 -2 2 -1 2 -0.5 4 0 8 0.5 10 1 3.5 2 0 2 -2 2 -3.5 2 -5 2.5 -9 0 -4 -1 -2 -1.5 -2 -2 -1.5zM726 351.5l-1 0.5 -0.5 2 0 2 1.5 4.5 2 1.5 0 1 0.5 -5 -0.5 -4 -1 -2zM736 187l-1 1 -0.5 6 -1.5 6 -5.5 14 -1 4 0.5 4 1.5 2 3 2 2.5 0.5 4 -0.5 2 -1 2 -2.5 2 -4 0.5 -4.5 0 -6 -1 -4 -1.5 -4zM766 134l-2 2 -4 7 -2.5 5 -1.5 6 -0.5 4 0 4 0.5 2.5 1.5 3.5 2.5 4 6 5 2 1.5 2 0.5 0.5 -1 1 -4 1 -18 0 -10 -0.5 -4 -2 -5.5 -2 -2.5zM1231 80l1 -2 0 18.5 -2 -4.5 -1 -4 0.5 -4zM840 394l2 -2 2 0 1 2 0 2 -1 4 -2 2.5 -2 -0.5 -1.5 -2 0 -2z"/>
<path fill="#f1f1ff" fill-rule="evenodd" d="M949 50l1 -2 35.5 0 6 8 4.5 4.5 2.5 1.5 19.5 8.5 24 14 4 0.5 6 0 10 1 10 -0.5 4 1 2 1.5 2 1.5 1.5 2.5 1.5 4 4 22 3 10 4 9 4 7.5 2 2.5 2 1 2 9 2 -0.5 2 -1 1 -1.5 2 -4 0.5 -4 0.5 -4 -0.5 -6 -2 -6 -3.5 -10 -1 -6 1 -3.5 1.5 -2.5 2.5 -2.5 2 -1 2 -0.5 2 0.5 2 1 2 1.5 2 2.5 6 9.5 2 2 2 1.5 4 1.5 8 0 4 1 4 2 8 5.5 4 1.5 4 0 8 -1.5 4 0 6 1 2 0 2 -0.5 2 -1.5 1.5 -1.5 6.5 -9 2 -2 2 -1.5 2 0.5 2 2 -0.5 8 1.5 6 2 4 9 14.5 2.5 5.5 2 6 1.5 10 -0.5 14 0.5 4 1 2 1.5 2 3.5 2 0 47.5 -1.5 2.5 -1.5 4 -0.5 4 -0.5 6 1 8 1 3 2 2.5 0 64 -3 4.5 -2 6 -3 34 -1 6 -1 4 -2 4 -2.5 4 -11.5 13 -4 3.5 -2 0.5 -2 -0.5 -2 -1.5 -4 -4.5 -5.5 -8.5 -3.5 -10 -1.5 -6 0.5 -6 4 -14 3 -14 3.5 -12 0 -4 -0.5 -2 -1 -2 -2 -2 -7 -4 -4 -1 -2 0.5 -2 1.5 -2 3.5 -1 5.5 -1 12 -0.5 4 -1.5 4 -2 2.5 -2 1 -4 0 -4 -1 -4 -3 -6 -5 -2 -1 -2 -1 -2 0.5 -2 1 -6 6 -2 1.5 -2 1 -2 0.5 -2 -0.5 -10 -5.5 -2 -0.5 -2 0.5 -1.5 1 -1 2 -0.5 2 0.5 4 1 4 5 12 1 4 0.5 6 0.5 8 -0.5 4 -1 3.5 -2 2 -2 1 -2 0 -6 -1.5 -2 -1 -4 -3.5 -7.5 -8.5 -2.5 -2.5 -2 -1.5 -4 -2 -4 -0.5 -2 0 -2 1 -2 2 -7 11.5 -5 6 -6 4.5 -4 1.5 -2 -0.5 -2 -1 -2 -2.5 -6 -9 -4 -4.5 -2 -1 -2 -0.5 -2 0.5 -2 1 -8 5.5 -6 3.5 -3 2.5 -1.5 2 -1.5 3.5 -4.5 14.5 -1.5 2.5 -2 1.5 -2 1 -4 -0.5 -10 -5 -4 -1 -10 0 -4 -0.5 -6 -2 -14 -7 -10 -2.5 -12 -5.5 -4 -1 -2 0.5 -2.5 1.5 -1.5 2 -5 8 -3 3.5 -2 1 -2 0 -2.5 -0.5 -1.5 -1 -2 -3 -1 -2 -0.5 -4 0 -6 4 -14 0 -2 -1 -2 -3 -4 -12.5 -12 -4 -2.5 -9 -3.5 -3 -2 -2 -2 -2 -3.5 -7 -16.5 -3 -6 -2 -2.5 -2 -1.5 -2 -1 -2 0.5 -2 2.5 -2.5 6 -2.5 16 -2 6 -4.5 10 -6.5 10 -2 4 -5.5 16 -2.5 4 -2 2 -4 2 -4 0.5 -4 -0.5 -4 -1 -2 -1 -4 -3.5 -6 -7 -6 -5.5 -3.5 -4 -0.5 -2 -0.5 -4 1 -4 4 -12 0 -6 0 -4 -2 -6 -2.5 -4 -2 -2 -4 -2.5 -2 -0.5 -4 0.5 -12 5.5 -4 1 -2 0 -2 -1 -6 -7 -2 -1 -2 0 -4 0.5 -2 1.5 -2 1.5 -2 3.5 -0.5 2 0 6 1.5 12 0 4 -1 5.5 -2 4.5 -2 2 -2 1.5 -2 0 -2 -1 -8 -9 0 -30 2 -3.5 1 -4 0.5 -6 -0.5 -6 -1.5 -12 -0.5 -6 1 -18 -1 -18 0 -6 2.5 -20 -0.5 -4 -0.5 -2 -2.5 -3.5 0 -57.5 1.5 -5 4 -24 1.5 -24 1.5 -10 1.5 -6 1 -2 6 -10 3 -7 2 -3 2 -1.5 2 -0.5 2 0 2 1.5 2.5 2.5 6.5 8 9 7 5.5 5 3 4 1 2 1 4 0 6 -1.5 8 -3.5 10 -1.5 6 -1 10 0 4 0.5 4 1.5 4 1.5 2 9 10 6.5 9 2 2 2 1.5 2 -0.5 2 -3 1 -3 0 -4 0 -4 -2 -10 -0.5 -6 0 -8 1 -14 0 -6 -1.5 -6 -6.5 -12 -1.5 -4 0 -4 0.5 -2 1 -2 2.5 -2.5 2 -1.5 4 -1 4 0.5 4 2.5 2.5 2 3 4 6.5 10 2 2.5 2 1.5 2 0 2 -2.5 3.5 -7.5 3 -4 3.5 -3.5 4 -2.5 4 -1.5 4 0 8 1.5 2 0.5 2 -2 4.5 -8.5 1.5 -2 2 -1.5 4 -2 14 -2.5 10 -4.5 4 -0.5 2 0 10 2 2 0 2 -1.5 6.5 -9.5 3.5 -2.5 4 -2 12 -4 14.5 -3.5 3.5 -1.5 4.5 -4.5zM1082 165.5l-2 1.5 -1 3 0 4 1 7 2 5 2 3.5 2 2 2 0.5 2 -0.5 2 -2 1.5 -5.5 0 -6 -1 -6 -2 -4 -2.5 -2 -2 -1 -2 0zM1144 203.5l-2 1.5 -2 2 -2 3.5 -1.5 5.5 -1 6 1 4 2 4 1.5 1.5 2 1.5 2 0.5 2 -0.5 2 -2 0.5 -1 2 -6 0.5 -8 -0.5 -8 -0.5 -2 -1 -2 -1 -1 -2 0zM1152 161.5l-2 1.5 -2 3 -0.5 4 0 4 2 10 2 6 0.5 1 2 1.5 2 0 2 -0.5 2 -1.5 2 -2.5 1.5 -6 0 -8 -1 -6 -2.5 -4 -2 -2 -2 -0.5 -2 -0.5zM732 172l-2.5 2 -1.5 3 -1 3 -1 6 1 10 -0.5 6 -1.5 4 -4.5 10 -0.5 4 0.5 4 1 2 2 2 4.5 2 6 1 4 -1 2 -1 2 -1.5 2 -2 2 -3.5 1 -4 1 -4 0 -4 -1 -8 -3.5 -20 -1 -4 -2.5 -4 -2 -1.5 -2 -1 -2 0zM752 293.5l0 2.5 2 1.5 0.5 -1.5 -0.5 -2.5zM828 157.5l-2 2.5 -0.5 2 0.5 2 1 2 3 3.5 2 1.5 2 0.5 2 -0.5 1 -1 1 -2 0 -2 -0.5 -2 -1.5 -3 -2 -2.5 -2 -1 -2 -0.5zM700 444l0 -1.5 0.5 1.5 -0.5 3z"/>
<path fill="#ededff" fill-rule="evenodd" d="M955 50l1.5 -2 22.5 0 8 10 4.5 4 4.5 2.5 12 5 6 3 16 11 8 6.5 4 3 2 0.5 2 0 10 -2 14 -0.5 4 1 3 2 1 2 2 4 5 24 7.5 20 1.5 8 0 4 -2 2 -2 0.5 -8 0.5 -2 0.5 -2 1.5 -2 3 -1 4 0 4 1 5.5 3.5 10.5 2.5 5 2 3 2 2 2 1 2 0.5 2 -1 2 -2 2.5 -4.5 1.5 -8 0.5 -16 1 -4 0.5 -1 2 -1.5 2 8.5 8 -8 3 -4 1.5 -4 1 -6 0 -10 -1 -6 -3 -12 0 -2 0.5 -2 2 0 2 2 3.5 6 2.5 4 4 3.5 4 3 4 1 2 0.5 6 -1 4 0.5 2 0.5 4 3.5 3.5 4.5 0.5 2 -0.5 2 -3.5 2 -6 3 -2 1 -3.5 4 -1.5 4 -0.5 6 3 14 0.5 4 0 4 -2 4.5 -6 7.5 -3 4 -1 4 -1.5 6 0 4 0.5 4 1.5 4 1 2 4.5 5 4 3 2 1 2 0 2 -0.5 2 -2 1 -2.5 2 -8 3 -18 1.5 -4 2.5 -3 6 -3.5 1 -1.5 1 -2 1 -8 -0.5 -14 -1.5 -10 -2.5 -10 0 -2 1 -2 2.5 -2 3 -2 5 -1.5 4 0.5 6 2.5 4 0 2 0 6 -2.5 4 -0.5 2 0.5 4 2.5 4 4 2 3 2 3.5 3 6 1.5 4 1 6 0 4 -0.5 4 -4 14 0 4 1 2 3 2 11 3 0 35.5 -3 3.5 -1.5 4 -1 6 -0.5 10 0.5 6 0.5 4 2 4 3 2 0 27.5 -2 2.5 -1.5 4 0 4 0.5 10 -0.5 4 -5 12 -1 4 -1.5 14 -2 12 -1.5 12 -0.5 4 -1.5 4 -4 6 -3.5 4.5 -4 3 -2 1 -2 0.5 -2 0 -2 -1 -2 -1.5 -2 -2.5 -2.5 -4 -1.5 -4 -0.5 -4 0 -6 3.5 -14 2 -16 1 -4 5 -12 0.5 -4 0 -2 -1 -2 -1 -2 -2.5 -2 -9 -3.5 -6 -3.5 -2 -0.5 -2 -0.5 -2 1 -2 1.5 -2 3 -1 2.5 -1.5 6 -0.5 12 -0.5 4 -1.5 4 -1 1 -2 1.5 -2 0.5 -2 -0.5 -4 -1.5 -3 -3 -7 -8 -2 -1 -2 0.5 -2 1 -8 8 -2 1 -2 0.5 -4 -1 -8 -5 -2 -1 -2 0 -2 0 -2 1.5 -1.5 1.5 -1 2 -1 4 0 6 1.5 8 4.5 12 1 4 0 4 0 4 -0.5 2 -1 1.5 -2 1.5 -4 0.5 -2 -1 -4 -3 -8 -7.5 -6 -4 -6 -2 -6 -1 -2 0.5 -2 2.5 -3.5 10 -2.5 4 -1.5 2 -2.5 2 -2 1.5 -2 0.5 -2 0 -2 -1 -4 -2.5 -10 -11 -2 -1.5 -2 -1 -2 0 -4 1.5 -6 3.5 -4 1.5 -4 0.5 -4 -0.5 -2 0 -2 1.5 -1.5 5 -1.5 12 -1.5 6 -1.5 4 -1.5 2 -2.5 1.5 -2 0.5 -2 -0.5 -8 -3.5 -4 -0.5 -10 0 -4 -0.5 -4 -1.5 -3.5 -1.5 -3 -2 -4.5 -4 -2.5 -4 -4.5 -10.5 -2 -2 -2 -1 -2 0.5 -2 1 -4 4 -2 0.5 -4 0.5 -4 -1.5 -2.5 -1.5 -2.5 -2 -1.5 -2 -4 -8 -1.5 -2 -2 -2 -4 -1.5 -6 -1 -4 -1.5 -12 -9 -10 -5.5 -4 -3 -2 -2.5 -2 -4 -5.5 -14 -3 -6 -3 -4 -2.5 -3 -4 -2.5 -2 -0.5 -2 0.5 -1 1.5 -1 2 -1.5 4 -5.5 26 -3 8.5 -4 6.5 -8.5 9 -1.5 4 -2 10 -1.5 4 -2.5 3.5 -2 1.5 -2 0 -2 0 -4 -1.5 -2 -1.5 -1.5 -2 -3 -6 -1.5 -2 -2 -1.5 -6 -2.5 -2 -2 -1.5 -2 -0.5 -2 1.5 -18 -0.5 -6 -1 -4.5 -2 -5.5 -4 -6.5 -4 -4.5 -2 -1.5 -2 -1 -2 0 -2 0.5 -8 4.5 -4 1.5 -2 0 -2 -0.5 -6 -4 -4 -1 -2 0 -4 0.5 -6 3 -4.5 3 -1.5 2 -1 2 0 4 0.5 16 -0.5 4 -1 3 -2 1.5 -2 0 -4 -2 -4 -3.5 0 -17.5 5.5 -7.5 1 -2 1 -4 -0.5 -6 -3 -15.5 -0.5 -6.5 0.5 -20 -1 -20 0.5 -8 3.5 -16 0.5 -6 -0.5 -4 -1 -2 -1.5 -2 -4.5 -4 0 -41 3 -7 3 -15.5 3.5 -12.5 0 -6 0 -14 0.5 -6 2 -8 2 -3.5 2 -2 2 -1 2 -0.5 10 1 10 -1 4 0 4 2.5 2 2 1.5 2.5 1.5 4 0.5 4 -0.5 4 -4 14 -3 16 -2 4 -2 1 -10 -0.5 -2 0.5 -2 1.5 -2 2.5 -2 5.5 -2.5 9.5 -0.5 6 -0.5 8 -1 4 -1.5 4 -4 8 -1.5 6 -0.5 4 1.5 4 1 2 3 2 4.5 2 4 0.5 4 0.5 4 -0.5 4 -1 2 -1 3.5 -2.5 3.5 -4 2 -4 1 -4 1 -6 -1 -16 0 -6 1 -4 1 -1.5 2 -0.5 2 1 4 3 5 6 9 14 2 1.5 2 -1.5 2 -4 2 -8 1 -8 0 -6 -2.5 -12 -0.5 -8 0.5 -8 2.5 -14 0 -4 0 -2 -1.5 -4 -4 -8 -2 -4 0 -4 0.5 -2 2 -1.5 2 -0.5 2 0.5 2 1 2 2 1.5 2.5 5 12 2 4 8 10 4 6 2 6 1.5 6.5 2 5.5 2 1.5 6 3 10 8 4 2 4 0 2 -2 1 -2.5 1.5 -4 0.5 -4 -0.5 -4 -1 -4 -3.5 -8.5 -2 -2 -2 -1 -2 0 -10 1.5 -4 -0.5 -2 -1 -2 -1.5 -1.5 -3 -1 -2 -0.5 -4 0 -4 1 -8 1.5 -6 2.5 -4 1.5 -2 2.5 -2 2 -1 4 -1 2 0.5 3 1.5 2.5 2 4.5 6 2 -0.5 2 -4.5 4 -11 2 -3.5 2.5 -2.5 1.5 -1 4 -2 10 -2 8 -3.5 4 -1.5 3.5 0 2.5 1 2 1 6 5.5 2 1 2 -0.5 2 -1.5 1.5 -2.5 4.5 -9 2 -3 4 -4 7 -4 7 -3 16 -4.5 5.5 -2.5 2.5 -2 2 -2zM1056 358l-1 2 0 2 1 2.5 2 2.5 2 1.5 1.5 -0.5 0.5 -2 0 -2 -1.5 -4 -2.5 -2.5zM1182 201.5l-2 0.5 -2.5 2 -1 2 -1 4 0.5 8 1.5 6 1.5 2 1 1 2 0.5 4 -1 3 -2.5 2 -4 1 -6 0 -3.5 -0.5 -2.5 -2 -4 -1.5 -1.5 -2 -1 -2 -0.5zM750 284l-8.5 2 -0.5 2 1 4 2 6 4 7 2 2.5 4 3 2 1 2 0.5 2 -1.5 1.5 -4.5 0 -8 -1 -8 -2 -4 -2.5 -2 -2 -0.5zM780 223.5l-2 2 -0.5 2.5 0 6 0.5 6 2 8.5 2 4 2 1 2 -1.5 1.5 -4 0.5 -4 0 -6 -1.5 -6 -2.5 -4.5 -2 -2.5z"/>
<path fill="#e9e9ff" fill-rule="evenodd" d="M961 50l1 -1 2 -1 8 0 6 5 6.5 7 2.5 2 6.5 4 12.5 5.5 4 2.5 10 7.5 10 7 10 9 4 2.5 2 0.5 2 -0.5 8 -3 8 -1.5 6 0.5 2 1 2 1.5 2 3.5 0.5 2 4.5 20 6 16 1 6 0 2 -0.5 2 -1.5 1.5 -8 3.5 -2 1 -3 4 -1 3.5 -0.5 2.5 0.5 4 1 6 3 10.5 4 9 6 9.5 4 4.5 2 1.5 2 0 2 -4 4.5 -13 1.5 -6.5 1.5 12.5 -0.5 20 1 8.5 4 2 4 1 4 -0.5 6 -2 2 0 2 0.5 4 3 10 8 4 3 4 2 2 0 2 -1.5 1 -2 1 -4 2 -11.5 2 -9.5 2 -5 2 -2 2 -0.5 2 1 2 2.5 2.5 5 2.5 12 1 4 2 2 2 0 6 -2 4 -2.5 4 -2.5 3 -3 7 -9.5 2 -1.5 8 -0.5 8 -3 4 -1 4 0.5 4 2 0 22 -5.5 5 -1.5 2 -1 3.5 -0.5 4.5 0 20 1 6 1 4 1.5 2 2 2 3 1 0 16.5 -2 0.5 -2 2 -2 3.5 -1 4.5 -0.5 14 -1 4 -1.5 3.5 -2 3.5 -4 4.5 -3.5 2.5 -2 2 1 6 0 4 -1.5 4 -4 4.5 -2 1 -2 0.5 -1.5 -2 -1 -4 0 -4 2.5 -4.5 4 -4 2.5 -1.5 1 -2 -2.5 -8 -2 -6 -3 -5.5 -2 -2.5 -2 -1.5 -8 -1 -4 -1.5 -2 -2 -4 -4.5 -2 -1.5 -2 0 -2 0 -2 1 -2 1.5 -2 2.5 -2.5 5 -1 4 -1 6 0.5 12 -1 6 -1 2 -2 1.5 -2 0.5 -2 -1 -3.5 -3 -1.5 -2 -1.5 -4 -0.5 -4 0.5 -2 1 -4 2.5 -6 1 -4 -0.5 -4 -1 -2 -0.5 -1.5 -2 0 -2 2 -2 3 -5 10.5 -5 8 -2.5 4 -3.5 4 -2 1.5 -2 0.5 -2 0 -2 -0.5 -4 -2.5 -6 -5 -2 -1 -2 0 -2 1 -2 2 -2 4 -3 4 -2 4 0 4 1 6 4 14 0.5 6 -0.5 3.5 -0.5 0.5 -1.5 0.5 -2 0 -2 -1 -8.5 -5.5 -9.5 -4.5 -4 -2.5 -2 -2.5 -1.5 -2.5 -4.5 -16 -2 -4.5 -2 -2.5 -4 -3.5 -2 -1 -2 0 -2 1.5 -2 3.5 -2.5 6.5 -1 6 0.5 4 1 2 7 10 2.5 6 0.5 4 0 2 -1.5 4 -1.5 2 -1 1 -2 0.5 -2 0 -4 -1.5 -4 -3.5 -7 -8.5 -1 -1 -2 -1 -2 0 -2 1 -8 4 -4 1.5 -4 0 -6 -2 -2 -0.5 -2 0.5 -2.5 1.5 -1.5 1.5 -1 2.5 -1.5 6 -0.5 10 -1 6 -1.5 4 -2 2 -2.5 1 -12 -1.5 -10 0.5 -4 -0.5 -2 -1 -4 -2 -3.5 -2.5 -1.5 -2 -2.5 -4 -2.5 -8 -2 -5 -2 -3 -4 -3 -2 -1 -4 -0.5 -3.5 0.5 -4.5 2.5 -2 0.5 -2 -0.5 -2 -1.5 -7 -9 -3 -3 -4 -1.5 -10 -0.5 -4 -1 -10 -7 -11 -7 -3 -3 -3 -5 -1 -4 -2.5 -10 -2 -4 -3 -4 -8.5 -8.5 -4 -3.5 -2 -1 -2 -0.5 -2 1 -2 2 -1.5 2.5 -1 4 -3.5 19.5 -3 12.5 -1 4 -2 4 -2 3.5 -2 1.5 -2 1 -2 0 -6 -2.5 -2 0 -4 2 -6 5.5 -4 2.5 -4 1 -2 -0.5 -2 -1 -2 -3 -0.5 -2 -1.5 -12 -2 -8.5 -2 -6 -5 -11.5 -1 -4 -0.5 -4 -0.5 -12 -3.5 -14 -2 -14 -1.5 -4 -2 -2.5 -2 -0.5 -2 -0.5 -8 0 -4 -1 -8 -6.5 -2 -1 -2 0 -2 3 -0.5 5 0.5 4.5 2 5 6.5 10.5 10 20 1 4 0 2 -0.5 2 -1 1.5 -2 1.5 -2 0.5 -6 0 -4 0.5 -16 5 -4 0.5 -2 -1.5 -2 -3 -1.5 -5 -2 -8 -0.5 -6 -0.5 -6 1 -14 -1.5 -16 -0.5 -6 1 -8 1.5 -6 3 -8 2 -4 2 -2 2 -1.5 2 -0.5 10 -0.5 8 -2 6 -3 5.5 -4.5 4 -6 2 -6 1 -6 0 -10 0.5 -4 1 -2 2 -0.5 2 1 2 1.5 2.5 4 2.5 6 1 4 3.5 20 4 26 2 6 2.5 2.5 2 1.5 2 0.5 2 -0.5 2 -0.5 2 -1.5 2.5 -4 1.5 -4 0.5 -4 0.5 -4 -1 -6 -2.5 -10 -5.5 -16 -1.5 -6 0.5 -6 2 -14 0.5 -6 -0.5 -4 -3 -14 -0.5 -8 1.5 -8 1 -3.5 2 -4 2 -2 2 -0.5 2 1 2 1.5 4 5 3 6.5 1 6 -0.5 6 -0.5 4 -3.5 10 -0.5 4 0.5 4 0.5 2 1 2 2 2 3 1.5 2 0 2 -0.5 2.5 -1 2 -2 1.5 -2 4 -8 2 -1 2 0 2 0.5 8 4 4 1.5 2 -1.5 3 -5.5 2.5 -6 1 -4 0 -4 0 -4 -5 -16 -0.5 -4 0 -4 0.5 -4 6 -24 2.5 -6 2 -3 2 -1.5 2 -1 4 -1 6 -1 2 -1 6 -3 4 -1.5 2 0 2 1 2 1.5 6 8.5 2 1 2 0 2 -0.5 2 -1.5 2.5 -3 9.5 -14.5 5 -5.5 4 -4 3 -2 4 -2.5 16 -5 8.5 -4.5 2.5 -2zM1150 273.5l-4 2.5 -6 6 -2.5 4 -0.5 4 1 4 2 3 7 5 5 4.5 2 0 2 -1.5 2 -2.5 1 -2.5 0.5 -4 -0.5 -6 -1 -6 -2 -6 -2 -3 -2 -1.5zM1192 295.5l-2.5 2.5 0.5 2 2 1 2 0.5 2 -0.5 1 -1 0 -2 -1 -1.5 -2 -1zM882 318.5l-2 1.5 -0.5 2 0.5 0.5 2 1.5 2 -1 1 -1 0 -2 -1 -1zM820.5 118l1.5 -1 2 -1 2 0.5 2 0.5 2 2.5 1.5 2.5 1 6 0 6 -1 4 -1.5 2 -2 1.5 -2 1 -2 0 -3 -0.5 -2.5 -2 -1 -2 -1 -4 0 -6 1 -4 1.5 -4zM719.5 120l4.5 -0.5 10 0.5 8 -0.5 2 1 2 1.5 1 2 0.5 2 0 4 -5 22 -0.5 2 -1.5 2 -2.5 1.5 -2 0.5 -12 -0.5 -3 0.5 -1 2 0 6 -0.5 6 -4.5 16 -2 12 -1.5 4 -2.5 4 -3 3 -2 0.5 -2 -0.5 -2 -2 0 -14.5 5.5 -10.5 4.5 -17.5 2 -4 2 -2 3.5 -2.5 1 -2 -4.5 -16 -0.5 -8 0.5 -4.5 1 -3.5 1.5 -2 1.5 -1.5zM1198.5 154l3.5 -1.5 2 0 2 0.5 2 1.5 3 3.5 2 4 2 4 0.5 4 0 6 -2 6 -3.5 6 -2 2.5 -2 2 -2 1 -2 0.5 -2 -1 -2 -2 -2 -4 -1 -5 -1 -16 0 -4 1 -4 1.5 -2zM1117 170l3 -1.5 4 0 4 1.5 4 2 2 2 2 4 1 4 0 4 -1.5 4 -1.5 2 -2 1 -4 1.5 -14 3 -2 0 -2 -1 -1 -2.5 -0.5 -4 0.5 -6 1 -4 1.5 -4 2.5 -3.5zM704 358l2 -1 0.5 1 0 2 -0.5 1.5 -2 -0.5 -0.5 -1zM1199.5 376l0.5 -1 2 0 2 1.5 2 2 2.5 5.5 1 4 -0.5 2 -1 4 -2 4 -2 2 -2 1 -2 1 -2 -0.5 -2 -1 -2 -2.5 -0.5 -2 -1 -4 0 -4 1.5 -4.5 2 -3.5 2 -3z"/>
<path fill="#e4e4ff" fill-rule="evenodd" d="M963.5 54l2.5 -1 2 -0.5 4 1 14.5 10.5 19.5 11 12 9 11.5 8 10.5 11 4 3 2 0.5 2 0 2 -0.5 8 -4.5 6 -0.5 2 0 3 1 1 1 2 2.5 1.5 4.5 3.5 14 4 12 1 6 -0.5 2 -1 2 -6.5 6 -2 2.5 -2 3.5 -1.5 6 0.5 6 1 6 3 10 9 22 3.5 12 1.5 4 2.5 4 2.5 2 2 0.5 2 0.5 6 -1.5 2 8.5 4 3.5 2 0.5 2 -0.5 2 -0.5 6 -4 2 -1 4 -0.5 4 1.5 6 4 5.5 5 3 4 2.5 4 1 2 0.5 4 -1 4 -1 2 -2.5 4 -8 9 -2 3 -1 2 -1.5 4 0 4 1 4 1.5 4 5 8 0.5 2 0 4 -1 6 -2 6 -3.5 8 -3 5 -2 2 -2 1 -2 0 -2 -0.5 -2 -1.5 -2.5 -2 -2.5 -4 -2 -4 -6 -18 -1.5 -6 -0.5 -6 1.5 -8 0 -4 -0.5 -3 -2 -2.5 -1 7.5 0 12 -1 6.5 -2 -8.5 -2 -2.5 -2 3 -0.5 1.5 0.5 7 2 8 4 8.5 0.5 6.5 -0.5 4 -1 2 -7 8.5 -2 4.5 -0.5 5 2 14 -0.5 4 -1 1 -2 1 -2 -0.5 -6 -1.5 -3.5 -2 -2.5 -3 -2.5 -5 -1.5 -6 -2 -15.5 -1 -2.5 -3.5 -8 -0.5 -4 -0.5 -4 1 -4 0.5 -2 4 -6 2 -4.5 0.5 -5.5 0 -4 -2.5 -5.5 -2 -2 -2 -1 -2 1 -2 2.5 -1.5 5 -0.5 12 -0.5 2 -1.5 2.5 -6 3.5 -2 2 -2.5 4 -0.5 4 -0.5 12 -1 6 -5.5 18.5 -2 4.5 -1 1 -13 8 -6 3 -4 0.5 -8 -2 -2 0 -4 1 -2 1 -2 2.5 -2 4 -1.5 6 -1.5 12 -1 3.5 -1.5 2.5 -2.5 1.5 -2 0.5 -16 1 -6 -1 -4 -2 -2.5 -2 -2 -2 -2 -4 -3.5 -10 -2 -4 -3 -4 -3 -2.5 -6 -3 -10 -2 -2 -0.5 -4 -3 -6 -7 -2 -1.5 -2 -1 -2 0 -10 1.5 -4 -1 -2 -0.5 -13.5 -9.5 -4.5 -4 -1 -2 -1 -4 0 -2 1 -2 1.5 -2 2.5 -2 3 -1.5 4 -1 6 -1 1.5 -0.5 2 -2 0.5 -1.5 0.5 -2.5 0 -4 -0.5 -4 -1.5 -4 -2.5 -4 -2 -1.5 -2 -1 -4 0 -4 1 -2.5 1.5 -9.5 7.5 -2 1 -2 0.5 -2 -0.5 -4 -2 -12 -11.5 -2 -1.5 -2 -1 -12 1.5 -2 0 -2 -1 -4 -3 -2 -0.5 -1 0.5 0 2 1 1 4 3.5 2 2 2.5 7.5 0.5 8 0 6 -1 7.5 -2 5.5 -2 3.5 -2 2 -4 1 -2 1 -16 15.5 -4 2 -2 0.5 -2 0 -2 -1.5 -2 -4 -8 -29 -1 -8 1 -10 -0.5 -4 -1 -4 -4.5 -8 -1.5 -6 -1 -6 -0.5 -14 -1 -2 -2 -0.5 -4 -0.5 -10 1.5 -4 -1 -4 -2.5 -6 -5.5 -2 -1.5 -2 -1 -2 0.5 -2 2 -1.5 4.5 -0.5 8 0.5 6 2 6 6.5 10 3 6 1.5 6 0 4 -0.5 2 -2.5 4 -2 2 -6.5 4 -4 1.5 -4 1.5 -4 0 -2 -1.5 -2 -2.5 -1.5 -3 -1.5 -8 -0.5 -8 1 -14 -0.5 -4 -2 -12 -0.5 -6 0.5 -6 1 -5.5 2 -5 2 -3.5 2 -2 4 -2.5 10 -3 14 -6.5 5.5 -4 10.5 -11.5 2 -1 2 1.5 2 4 2 5.5 1.5 5.5 1 6 1 8 0.5 16 0 2 1.5 2 4.5 2 4 1 4 1 4 -0.5 4 -1.5 2 -1 3 -3 5 -5.5 2 -1 2 -0.5 2 0.5 6 1.5 4 0.5 4 -1 2 -1.5 3 -3 5 -7 2 -1.5 4 -0.5 0.5 -3 -0.5 -2.5 -4 3 -2 1 -2 0 -14 -3.5 -10 -1.5 -4 -1.5 -2 -2 -2 -2.5 -3 -6.5 -3 -8 -1.5 -6 -1 -6 0.5 -4 0.5 -4 1.5 -3.5 2 -1.5 2 0.5 6 2.5 2 0.5 2 0 4 -0.5 4 -2 2 -1 6 -5.5 2 -1 2 -0.5 2 0.5 4 2.5 3 3 3 4 2 -1 7.5 -19 2.5 -10 0.5 -4 0 -4 -1 -4 -3.5 -10 -0.5 -4 0 -4 0.5 -6 3 -10 2 -10 1 -4 2 -3.5 2 -2 2 -1 2 -0.5 8 -0.5 6 -3 2 -1 2 0 2.5 1.5 3.5 6 2 2.5 2 1 2 0.5 4 -1 4 -2.5 2.5 -2.5 20.5 -26 4 -4 5 -3 12 -4.5 9 -4.5 5.5 -4 5.5 -5.5zM722 130l2 -1 4 -1 4 1 2 1 2.5 2 1.5 4 0.5 4 -0.5 4 -2 4 -2 1.5 -2 0 -2 -0.5 -2 -1 -4 -4 -2 -4 -1.5 -4 0.5 -4zM790 154l2 -2 2 0.5 2 1.5 1.5 2 1 4 0.5 4 -1 5.5 -2 4 -2 2.5 -2 0 -2 -2.5 -2 -6.5 0 -7 0 -2zM1222.5 220l1.5 -1 2 0 2.5 1 1.5 3 0 3 -0.5 2 -1.5 2 -2 1.5 -2 0 -2 -1 -1.5 -2.5 -0.5 -2 0 -2 1 -2zM1163 222l1 -0.5 0.5 0.5 1.5 2.5 0.5 1.5 0.5 6 -0.5 10 1 2 0.5 0.5 2 0.5 2 0 4 -1 10 -6.5 12 -7 4 -2 2 0 2 0.5 4 3 5 6 3 5 2 5.5 1.5 7.5 0 8 -1 18 0.5 4 2 6 0.5 2 -2.5 12 -0.5 12 -0.5 5.5 -2 4.5 -2 1.5 -2 0.5 -2 -1 -2 -2 -2 -3.5 -2 -5.5 -0.5 -6 3 -12 0.5 -4 -0.5 -2 -1 -2 -2 -2 -3.5 -1.5 -4 -1 -4 -0.5 -4 0.5 -2 0.5 -3.5 2 -6.5 7 -2 1 -2 1 -2 0.5 -2 -0.5 -2 -1.5 -2 -2.5 -2.5 -7 -3.5 -12 -3.5 -10 -0.5 -4 0 -2 1 -4 4 -10 0 -4 -1 -3.5 -0.5 -2.5 0 -6 0.5 -3 1 -3 1 -1.5zM1043 378l1 -2 2 1 2 2 1 3 -0.5 2 -0.5 0.5 -2 0 -2 -2.5 -1 -2z"/>
<path fill="#e0e0ff" fill-rule="evenodd" d="M964 58l4 -1 4 0.5 10 5.5 21 13 12.5 10 12.5 8.5 4 3.5 8 10 4 3.5 2 1 4 0.5 2.5 -1 5.5 -3 2 -1 2 0 2 0.5 2 1.5 2 3 3.5 11 2.5 8 1.5 6 -1 4 -6.5 12.5 -2 5.5 -0.5 4 0 4 1.5 8 4 12 5.5 16 1.5 6 1.5 10 1 4 1.5 4 4 6.5 2 2 2 1.5 2 1 2 0.5 8 -0.5 1 5 0 6 -1 22.5 -2 2 -9 17.5 -1.5 4 -1 4 0.5 6 5 24 0 2 -0.5 2 -1 2 -2.5 2 -4 1.5 -2 0 -2 -3.5 -5 -10 -1 -4 0 -6 2 -12 0 -4 -1 -4 -4 -8 -3 -3.5 -2 -1.5 -2 0 -2 0.5 -3 2.5 -3 4 -1.5 4 -3 8 -1.5 4 -5 6 -2 4 -1 2.5 -1 5.5 0 14 -1 8 -2.5 8 -1.5 4 -2.5 4 -7 8 -4.5 4 -4 2.5 -2 0.5 -4 0.5 -6.5 -1.5 -3.5 -0.5 -2.5 0.5 -3.5 2 -4 4 -2 4 -3.5 16 -1.5 4 -1 2 -2 1.5 -2 1 -10 1.5 -6 0 -4 -1 -4 -2.5 -2 -2 -1.5 -2.5 -4.5 -12 -2 -4 -3 -4 -3 -2.5 -4 -2.5 -12 -5.5 -2.5 -1.5 -3.5 -3.5 -8 -14 -2 -2.5 -6 -6 -3 -4 -3 -8 -4 -18 -2 -4.5 -2.5 -3.5 -1.5 -1.5 -4 -2 -6 -0.5 -4 0.5 -10 5 -4 1 -4 -1 -4 -3.5 -2 -2 -2.5 -4 -1 -4 0 -4 0.5 -10 -0.5 -6 -0.5 -4 -2.5 -8 -0.5 -4 1 -10 0 -6 -0.5 -4 -1.5 -3 -1 -1 -1 -1 -2 0 -6 5.5 -4 2 -2 0.5 -4 0 -4 -0.5 -10 -3 -3.5 -1.5 -2.5 -2 -3 -4 -3 -6 -1 -4 -0.5 -4 0 -4 0.5 -2 1.5 -2 1.5 -1.5 2 -0.5 10 -2.5 14 -6 2 0 2 0.5 2 1.5 3.5 4.5 4.5 7.5 2 0.5 0.5 0 1.5 -1.5 2 -5 9 -29.5 1.5 -8 1 -6 -0.5 -4 -4 -10 -1 -4 0 -4 0.5 -4 1.5 -5 3.5 -7 0.5 -2.5 2 -4.5 2 0.5 1 6.5 3 5.5 2 2 2 1 2 -0.5 2 -1.5 2 -2.5 4 -7 2 -2.5 2 -1 6 -1.5 4 -2 4 -2 4 -3.5 16 -17.5 8 -11 4 -4 4 -2.5 16 -8 9.5 -5.5 4.5 -3zM753.5 234l2.5 -1 2 0.5 2 1.5 1.5 3 2.5 8 0.5 6 0 4 -1.5 6 -2.5 4 -4.5 3 -3 1 -3 0.5 -4 -1 -4.5 -3.5 -8.5 -10 -1 -2 -0.5 -2 0.5 -2 1.5 -2 1.5 -2 2.5 -2zM1196 236l4 -1 2 0 2 0.5 2 1 2 1.5 4 4.5 3 3.5 2 4 1.5 6 0.5 6 -0.5 8 -2.5 7 -2 3 -2 1.5 -2 1 -4 0.5 -12 -1 -6 1 -4 1.5 -8 6.5 -2 0.5 -2 0 -2 -1 -2 -2 -2 -4.5 -1 -4 -3 -12 0 -4 1 -4 1 -2 2 -2 10 -6 12 -9.5zM1124 240l2 -0.5 4 1 2.5 1.5 3.5 2.5 3 3.5 2.5 4 1 4 0.5 2 -0.5 4 -1.5 4 -2.5 4 -8 10 -2 4 -1.5 4 -0.5 4 0.5 4 1.5 4 4.5 10 1 3.5 0 2.5 -1 6 -3 7.5 -2 3 -2 1.5 -2 0.5 -2 -1 -1.5 -1.5 -2 -4 -5.5 -18 -0.5 -4 0 -4 1.5 -10 0 -4 -3.5 -16 0 -6 0 -6 0.5 -4 2.5 -6 2.5 -4 2 -2.5 4 -3zM715.5 256l2.5 -1 2 0.5 2 1.5 0.5 1 1 4 -0.5 20 0.5 6 1 4 7.5 10 2 4 1 4 0 4 -0.5 2 -2.5 4.5 -2 2 -4 3 -4 1.5 -2 0 -2 0 -2 -1 -1.5 -2 -2.5 -6 -0.5 -8 2 -12 0 -4 -0.5 -4 -3 -8.5 -1 -7.5 0 -6 1 -5 2 -4 2 -2zM821.5 274l6.5 -1.5 2 1.5 0 4 -1 4 -1 2 -2 1.5 -2 0.5 -4 -1 -2 -1 -2.5 -2 -1.5 -2 -0.5 -2 1.5 -2zM778 282l16 2 2 0.5 1.5 1.5 0.5 2 0.5 2 -1.5 10 0.5 4 1 2 1.5 2 6 4.5 3.5 3.5 3.5 6 1.5 4 0.5 4 -0.5 2 -1 4 -8.5 16 -2.5 4 -4.5 4.5 -4 3 -2 1 -2 0 -2 -1 -2 -3 -2 -5 -1.5 -5.5 -2.5 -12 -1 -6 0.5 -4 0.5 -4 3 -10 0 -4 -1 -2 -6 -6 -1.5 -2 -1.5 -2 -1 -4 -0.5 -4 1 -4 1.5 -2.5 2 -1zM1080.5 346l1.5 -1.5 1 1.5 1 1.5 1 4.5 0.5 6 0.5 4 -0.5 2 -1.5 1.5 -2 0 -2 -1.5 -2 -4 -0.5 -4 0 -4 0.5 -2 2 -3.5z"/>
<path fill="#dcdcff" fill-rule="evenodd" d="M961 62l5 -1.5 6 0 8 3.5 6 3.5 12.5 8.5 15 12 12.5 8 4.5 4 9.5 12.5 4 3.5 4 2.5 9.5 1.5 2.5 1 2 2 4 6 2.5 5 0.5 2 0.5 4 -1 4 -4.5 12 -1 4 -0.5 6 0.5 8 2 8 7 22 1 6 0 8 0.5 4 15 36 2.5 8 0.5 6 0 6 -1.5 5 -2.5 5 -1.5 2 -2 1.5 -2 0 -2 -1 -6 -9 -2 -2.5 -2 -1 -2 0 -4 1 -2 1 -4 4 -8 12 -6 6.5 -2 3.5 -1 6 -0.5 6 0 18 0 6 -2 8 -2 4 -2.5 4.5 -8 9.5 -4 3.5 -2 1.5 -2 0.5 -4 0.5 -6 -1.5 -4 -0.5 -4 1.5 -4 2.5 -3.5 4 -2 4 -4 16 -2.5 5 -2 2 -2 1 -8 1.5 -4 0 -4 -0.5 -2 -1 -2 -1 -2 -2.5 -1.5 -2.5 -6 -14 -2.5 -4 -2 -2 -2 -2 -4 -3 -12 -6.5 -3 -2.5 -1.5 -2 -9.5 -17.5 -9 -10.5 -3 -4.5 -3 -7.5 -5 -16.5 -2 -3.5 -2 -2 -4 -2.5 -4 -1.5 -4 -1 -4 0 -8 3 -4 0.5 -2 -0.5 -2 -1 -2 -1.5 -2 -2.5 -2 -4.5 -1 -4.5 -1 -14.5 -2 -15.5 0 -16 -3.5 -16 0.5 -6 5 -18 2 -5 4.5 -9 3.5 -12 2 -3.5 2 -0.5 1.5 2 0.5 2 0 2 -2 8 -0.5 4 1.5 6 3.5 8 3.5 6 2 2.5 2 2 2 1 2 0 2 -1.5 0.5 -2 1 -4 0.5 -6 -2 -18 0 -10 -2.5 -12 -3 -8 -1 -4 0 -4 1.5 -6 1.5 -4 2.5 -4 7 -8 14 -12 14 -14.5 4 -4.5 6.5 -9 3.5 -4 6 -4 18 -10.5zM817.5 206l4.5 -1.5 2 0 2 0.5 2 1 2 2 2.5 4 3 6 1.5 4 0 4 -0.5 2 -1.5 4 -3 3.5 -2 2 -4 2 -4 0.5 -4 -0.5 -6 -2 -4 -2 -4 -3 -2 -2 -1.5 -2.5 -1 -4 -0.5 -4 0 -2 0.5 -2 1.5 -2 3 -2.5zM1196.5 240l3.5 -0.5 2 0 4 2 4 4 4 5.5 2 5 0.5 6 -0.5 4.5 -2 5.5 -2 2.5 -2 1.5 -2 1 -6 1 -10 -0.5 -4 0.5 -4 1 -8 5 -2 0.5 -2 -0.5 -2 -2 -1 -2 -1.5 -6 -0.5 -6 1 -4.5 3 -3.5 7 -6 8 -8 6 -4zM747 242l5 -2 2 0.5 2 1 2 3 1.5 5.5 -0.5 6 -1 4 -1 2 -3 3 -2 0.5 -2 0.5 -2 0 -2 -1 -4 -3 -3 -4 -1.5 -4 0 -2 0.5 -2 1 -2 3 -2.5zM1123.5 244l2.5 -1 2 0.5 2.5 0.5 3.5 2.5 2 2.5 2 3 0.5 2 0.5 4 0 2 -1 3.5 -2.5 4.5 -9.5 11 -2 2 -2 1.5 -2 -0.5 -2 -2.5 -1.5 -3.5 -1.5 -6 -0.5 -8 1 -6 2 -6 2.5 -3.5zM715.5 264l0.5 0 2 1 1 3 0.5 4 0 4 -1 4 -0.5 1.5 -2 1 -2 -1.5 -1.5 -3 -0.5 -2 -0.5 -4 0.5 -4 2 -3.5zM720 300l2 -0.5 2 0.5 2 1 2 2.5 1.5 2.5 1.5 4 -0.5 4 -1.5 4 -3 3 -2 1.5 -2 0.5 -2 0 -2 -1 -1.5 -2 -1 -2 -0.5 -4 0 -4 1 -4 2 -4zM791 318l3 -1 2 0 4 1 2 1 2 1.5 2.5 3.5 1 2 0.5 4 0 4 -1.5 6 -2 6 -2 4 -4.5 6 -4 2.5 -2 0.5 -2 -0.5 -2 -1.5 -2 -4 -2.5 -9 -1 -8 0.5 -6 2 -6 3 -4z"/>
<path fill="#d8d8ff" fill-rule="evenodd" d="M960 64l2 -1 4 -0.5 6 0 8 3 6 3.5 6.5 5 16.5 14 5 3.5 8 4.5 4 3 4 4 8 11.5 4 4 6 5 10 5.5 2 2 2.5 3 1.5 4 0 4 -1 6 -3.5 12 -1 6 -0.5 10 0.5 6 3 18 2 16 2 6 6.5 10.5 3 7.5 2 8 2.5 16 1.5 4 3 6 0.5 2 -0.5 2.5 -2 1.5 -2 -2 -2.5 -4 -1.5 -1.5 -1.5 -0.5 -2.5 -0.5 -2 0.5 -4 1.5 -6 4 -4 4.5 -6 7.5 -9 8.5 -2.5 4 -1 4 0 8 1 20 0 6 -2 8 -2.5 6 -3 4 -5 6 -4 4 -2 1 -4 1.5 -2 0 -6 -1.5 -4 0 -4 1.5 -4 2.5 -4 4.5 -3 4.5 -1.5 4 -3 12 -2 4 -2 2 -2.5 1.5 -6 1.5 -6 0 -4 -2 -1 -1 -3 -4 -6.5 -14 -3.5 -5 -6 -5 -12 -8 -4 -4 -2.5 -4 -5 -10 -2.5 -4.5 -4 -5 -6 -6.5 -2.5 -4 -4 -8 -4.5 -16 -1 -2 -2 -2.5 -4 -2.5 -10 -4.5 -4 -0.5 -8 2.5 -4 0 -2 -1 -2 -1.5 -1.5 -2 -1 -2 -1 -4 -1 -6 -1.5 -22 0 -12 -2.5 -20 0.5 -8 2 -8.5 2 -4.5 2 -2.5 2 -1.5 2 0 2 1.5 2 2.5 8 12.5 4 4.5 4 3 2 1 2 -1 2 -4 1 -5 1 -10 0 -14 0.5 -6 3 -14 0.5 -6 0 -4 -0.5 -2 -1.5 -3 -4 -5 -1 -2 -0.5 -4 0.5 -4 0.5 -4 1.5 -4 3.5 -6 4.5 -6 23 -22.5 12 -15.5 4.5 -4 15 -10 4.5 -3zM815.5 210l4.5 -1.5 2 0 2 0 2 1 2 1.5 2 2.5 2 4.5 1.5 6 -0.5 4 -1 2 -2 3 -2 1.5 -2 1.5 -2 0.5 -4 0 -6 -1.5 -6 -3.5 -2 -2 -2 -3.5 -1 -4 0.5 -2 0.5 -2 1.5 -2 2.5 -2zM1196.5 244l3.5 -0.5 4 1.5 4 3 3 4 1.5 4 1 4 -0.5 4 -1.5 4 -1.5 2 -2 1.5 -4 1.5 -4 0.5 -14 -1 -8 1.5 -2 0 -2 -2 0 -2 0.5 -2 2 -4 11.5 -14.5 4 -3.5zM745.5 248l2.5 -1 2 -0.5 2 1 1.5 2.5 0.5 2 0 4 -2 3.5 -2 1 -2 0 -2 -1 -2 -1.5 -1 -2 -0.5 -2 0 -2 1 -2zM1123.5 248l2.5 -1 2 0 2 0.5 2 1.5 2.5 3 0.5 2 1 4 -1 4 -3 5 -4 4 -2 1.5 -2 0.5 -2 0 -2 -1.5 -2 -5.5 0 -4 0 -4 1 -4 2.5 -4zM720.5 310l1.5 -1.5 2 0 1 1.5 0.5 2 -0.5 2 -1 1.5 -2 1 -1 -0.5 -1 -1.5 0 -2.5zM795 324l3 0.5 2 1 2 2.5 1.5 4 0 4 -1 6 -2.5 6 -2 3 -2 1.5 -2 1 -2 0.5 -2 -1 -2 -3 -1 -2 -1.5 -6 0 -6 1 -4 1.5 -4 2 -2 2 -1.5z"/>
<path fill="#d4d4ff" fill-rule="evenodd" d="M964 64l4 -0.5 4 0.5 6 2 4 2 8 6 10 10 6 5 4.5 3 9.5 5 4 3 4 4 8 11.5 6 7.5 4 3.5 8 6 3.5 3.5 1.5 4 0.5 6 -1 4 -2.5 10 -3 16 -0.5 6 0.5 6 5 30.5 1 3.5 2 4 6.5 8 2 4 1.5 4 1 4 1 8 -0.5 6 -1 2 -1.5 2.5 -1 1.5 -11 9 -10 12.5 -9.5 8.5 -2.5 4 -1 4 -0.5 4 2 24 0 8 -1 4 -1 4 -3.5 6 -5 6.5 -4 3.5 -2 1.5 -4 1.5 -2 0 -6 -1.5 -4 0 -4 2 -4 2.5 -4 4.5 -3.5 5.5 -2 4 -3.5 12 -2 4 -3 2.5 -6 2 -6 -0.5 -4 -2 -2.5 -4 -6 -12 -3.5 -5 -6 -6 -12 -9 -3.5 -4 -2.5 -4 -6 -11.5 -2.5 -4.5 -3.5 -4 -8 -8 -2.5 -4 -3.5 -8 -3.5 -14 -2.5 -4.5 -4 -3 -10 -5.5 -2 -1 -4 0 -8 2 -2 0 -2 -0.5 -2 -1.5 -1.5 -2 -1 -2 -1 -4 -0.5 -4 -0.5 -6 1 -10 2.5 -12 0 -2 -3.5 -12 -1.5 -10 0 -6 1.5 -6 2.5 -4 2 -0.5 2 1 2 2 8 12.5 2.5 3 3.5 3.5 4 3 2 0.5 2 -0.5 1.5 -2.5 1.5 -4 1 -9 1.5 -29 1 -6 3.5 -15.5 0.5 -4.5 0 -6 -3.5 -10 -1.5 -8 0 -4 1.5 -6 3.5 -6 3.5 -4 18 -17 4 -5 6 -8 4 -5 19.5 -15 8.5 -5zM814.5 214l3.5 -1.5 4 -0.5 2 0.5 2 1.5 2 2.5 1.5 3.5 0.5 2 0 4 -2 4 -2 2 -2 1 -2 0.5 -2 0 -4 -1 -4 -2.5 -2.5 -2 -1 -2 -0.5 -2 -0.5 -2 0.5 -2 1.5 -2 2 -2zM1194.5 250l3.5 -1.5 2 0 2 0.5 2 1 2 1.5 1.5 2.5 2 4 0 4 -1.5 3 -2 2 -4 1 -4 -0.5 -5 -1.5 -3 -2.5 -1 -1.5 -0.5 -2 0.5 -2 2 -4 1.5 -2zM1125 252l1 -0.5 2 0 1 0.5 2 2 0.5 2 0.5 2 -1.5 4 -2.5 3 -2 1 -2 -0.5 -1.5 -1.5 -0.5 -2 -0.5 -2 1 -4 1.5 -3zM791.5 332l2.5 -1.5 2 0.5 2 1.5 1.5 3.5 0 4 -1.5 4 -2 3 -2 1 -2 -0.5 -1.5 -1.5 -1.5 -4 0 -4 0.5 -2 0.5 -2z"/>
<path fill="#d0d0ff" fill-rule="evenodd" d="M961 66l5 -1 6 0 8 3 6 4 4 4 8 9 5.5 5 6 4 11 6 5 4 3.5 4 12 18 3 3.5 7.5 6.5 1 2 1.5 3 0.5 3 0.5 6 -6 24 -0.5 6 0.5 6 4 22 2.5 20 2 4 6.5 6 2 3 2 5 0.5 6 -0.5 6 -2 4 -10 10.5 -8 10.5 -10 9 -2 2.5 -2 3.5 -1.5 4 -0.5 6 2.5 22 0 8 -0.5 4 -1 4 -3 6 -6 7 -4 3 -2 1 -4 0.5 -6 -1.5 -4 0 -4 2 -4 3 -4 4.5 -4.5 6.5 -2.5 6 -3 9 -2 4 -3 3 -5 2 -4 0 -2 -1 -4 -2.5 -2 -3 -6 -11.5 -4 -5.5 -6 -6 -10 -8 -3.5 -4.5 -11 -20 -3.5 -4 -8 -7.5 -4 -5.5 -3 -7 -3 -14 -2 -4 -1.5 -2 -2.5 -2 -10 -6 -4 -2 -4 0 -6 1 -2 0.5 -2 -0.5 -2 -1 -2 -3 -1 -3 -0.5 -4 0.5 -6 1 -6 2 -4 6 -8 4.5 -12 1.5 -1 2 -0.5 8 2.5 2 0 2 -1 1.5 -2 1.5 -4 1 -6 0.5 -10 2 -28 0.5 -6 3.5 -14 1 -8 -0.5 -4 -3.5 -14 -0.5 -6 0 -4 2 -6 2.5 -4 2.5 -3.5 17.5 -16.5 9.5 -12 3.5 -4 18.5 -16 5 -3.5zM815.5 218l2.5 -1.5 2 -0.5 2 0.5 2.5 1.5 1.5 2 0.5 4 -0.5 2.5 -2 2 -2 1 -2 0 -2 -0.5 -2 -1 -2 -2 -1 -2 0 -2 1 -2zM860.5 222l1.5 -0.5 2 2 2 4.5 0 2 0 2 -2 1.5 -2 -0.5 -2 -3.5 -0.5 -5.5 0.5 -1.5z"/>
<path fill="#ccccff" fill-rule="evenodd" d="M965.5 66l6.5 0 6 2 4 2.5 4.5 3.5 9.5 12 4 4 6 4.5 14 7.5 4 3 4 5 10 16 8 10 2.5 4 1.5 4 0.5 6 -4.5 22 -0.5 8 1 8 5 24 1 22 1.5 6.5 2 2 4 2 1.5 1.5 1 2 0.5 4 -0.5 4 -1 2 -5.5 7.5 -7.5 12.5 -3 4 -9.5 8.5 -2.5 3.5 -2 4 -1 4 -0.5 6 0.5 8 2.5 14 0 6 -0.5 4 -1 4 -3 6 -4.5 5.5 -4 3 -2 1 -4 0 -8 -1 -4 1 -4 2.5 -6 6.5 -4 5.5 -4 8 -3 8 -2 4 -1 1.5 -2 2 -4 2 -4 -0.5 -2 -0.5 -4 -3.5 -6.5 -11 -5.5 -7.5 -4 -4.5 -10 -9 -4 -5 -3.5 -6 -6 -12 -2.5 -4 -4 -4 -6 -4.5 -4 -5 -2 -3.5 -2 -5 -2 -12 -1.5 -4 -2.5 -4.5 -2 -1.5 -14 -9 -4 -1 -8 0.5 -2.5 -0.5 -1.5 -1 -1.5 -3 -1 -4 0.5 -4 1.5 -4 11.5 -18 1 -1 2 -1 2 -0.5 6 1 2 -0.5 2 -2 2 -4 1.5 -8 1.5 -16 2 -28 4 -20 0.5 -6 0 -4 -3 -12 -1 -8 0 -4 2 -6 4 -6 16.5 -15.5 10 -13 4 -4.5 8 -7 8.5 -8 3.5 -3 6 -3.5 2 -1z"/>
<path fill="#c8c8ff" fill-rule="evenodd" d="M961.5 68l4.5 -1 6 0 6 2.5 4 2.5 4.5 4 7.5 10.5 4 4 7 5.5 13 7 4 3 4 4 5.5 8 4.5 9 7 11 2 6 1 4 0 4 -1.5 8 -1.5 10 0 8 1.5 10 4 20 1.5 10 -1.5 28 1.5 16 0 4 -1 4 -1.5 4 -2.5 4 -3.5 4 -5.5 5 -4 5 -2 4 -1.5 6 -0.5 4 0.5 6 2.5 18 0 4 -0.5 6 -1 4 -1.5 3 -2 3 -2 2 -4 3 -4 1.5 -2 -0.5 -6 -1 -4 0 -2 0.5 -4 3 -6 6.5 -4 6 -4 7 -4 10 -2 4 -2 2 -4 2.5 -4 0 -2 -1 -4 -4 -5 -7.5 -7 -9.5 -4 -4.5 -8 -8.5 -4 -5 -4 -6.5 -6 -13.5 -2 -3 -3.5 -3.5 -8.5 -5.5 -3.5 -4.5 -3 -6 -3 -16 -0.5 -2 -2 -4 -2 -2 -14 -10.5 -4 -1.5 -8 -1 -2 -1 -1.5 -2 0 -2 0.5 -2 1.5 -4 5.5 -9.5 2 -3 2 -1.5 2 -1 6 0 2 -0.5 2 -1 2 -2 2 -5 1 -6.5 2.5 -24 1.5 -24 3.5 -20 1 -6 0 -4 -2.5 -12 -1.5 -8 0.5 -4 1 -4 2 -4 3 -4 14 -13 10.5 -13 3.5 -4 8 -7.5 10 -10.5 4 -3z"/>
<path fill="#c4c4ff" fill-rule="evenodd" d="M965.5 68l6.5 0 6 2.5 4 2.5 3 3 7 10.5 4 4.5 4 3.5 4 3 12 6.5 4 2.5 5.5 5.5 5 8 8 16 3 10 0.5 6 -1.5 8 -0.5 16 1.5 10 5.5 22 1 10 -0.5 10 -2 20 0 16 -0.5 6 -1.5 4 -1 2 -3 4 -5.5 5.5 -4 6 -2 4.5 -1.5 6 -0.5 6 0.5 6 3 18 -0.5 6 -1 4.5 -2 3.5 -1.5 2 -2.5 2.5 -2 1.5 -4 1 -2 -0.5 -6 -1.5 -4 0 -2 0.5 -4 3 -4 4 -4 5.5 -4 7 -8 16.5 -1.5 2.5 -2.5 2.5 -2 1.5 -2 0 -2 -0.5 -2 -1 -4 -3.5 -4.5 -7 -9.5 -12.5 -12 -13.5 -4.5 -8 -5.5 -14 -2.5 -4 -1.5 -1.5 -2 -1.5 -8 -4 -4 -4 -2 -3 -1.5 -4 -2 -14 -1 -4 -1.5 -3 -2 -3 -8 -6.5 -6 -6 -4 -2.5 -4 -1.5 -1.5 -1.5 -0.5 -2 0 -2 1.5 -4 3.5 -4 3 -1.5 6 -0.5 2 -1 2 -1.5 2 -3.5 2 -6 3.5 -32 1 -24 5 -26 0 -4 -2.5 -12 -1.5 -8 0.5 -4 1 -4 2.5 -4 3 -4 13 -12 11 -14 11.5 -11.5 9.5 -10.5 6.5 -4.5 2 -1z"/>
<path fill="#bfbfff" fill-rule="evenodd" d="M961.5 70l4.5 -1 6 0 4 1.5 4 2.5 3.5 3 8.5 12.5 4 5 8 6 12 6.5 4 3 5 5 4 6 6.5 14 1.5 6 1.5 10 -2 12 1 14 2 10 6 22 1 10 -0.5 10 -3 20 -2 22 -1.5 4 -1 2 -6.5 9 -4 6.5 -2 4.5 -1.5 6 0 6 0 6 3 18 0 4 -1.5 5.5 -2 3.5 -2 2 -2 1 -2 1 -4 0 -6 -2 -4 -0.5 -2 0.5 -4 3 -4 4.5 -4 5.5 -2 3.5 -8 17 -4 6.5 -4 4 -2 0 -2 -0.5 -2 -1 -4 -3.5 -16 -21.5 -8.5 -10.5 -4.5 -8 -6 -16 -1 -2.5 -1 -1.5 -3 -2 -6 -2 -4 -2 -2 -1.5 -2 -2.5 -2 -6 -2 -14 -2 -6 -2 -3.5 -2 -2.5 -7.5 -8 -2.5 -4 -1 -4 0.5 -2 1 -2 3.5 -3.5 3 -4.5 1.5 -4 1 -6 2 -18 2 -18 0.5 -16 0.5 -6 0.5 -6 3.5 -14 1 -6 0 -4 -2 -8 -2 -10 0 -4 1 -4 2 -4 4.5 -6 11 -10 12 -15.5 10 -9.5 10 -12 3.5 -3z"/>
<path fill="#b8b8ff" fill-rule="evenodd" d="M960.5 72l3.5 -1.5 6 0 2 0 7 3.5 4 4 7 11.5 5.5 6.5 8.5 6.5 10 5.5 4 2.5 4 3.5 4 6 5.5 12 1.5 4 0.5 4 0.5 10 -2 10 -0.5 4 0.5 6 1 6 3.5 12 6 18 1.5 6 0.5 6 0 6 -1 6 -4 18 -3.5 22 -2.5 6 -8 14 -1.5 4 -1.5 6 -1 6 0 8 0 8 2 10 -0.5 4 -0.5 2 -2.5 3.5 -2 1 -2 0 -2 -0.5 -8 -4 -2 0 -2 0 -2 1.5 -4 4.5 -6 9 -4 8 -4 11 -4 7.5 -2 2.5 -4 4.5 -2 0.5 -2 -0.5 -2 -1 -4 -3 -2 -2 -5 -6.5 -7 -11 -9.5 -13 -4 -8 -4.5 -16 -2 -3.5 -2 -2 -2 -1 -8 -2 -2 -0.5 -2 -1.5 -2 -2.5 -2 -5 -1 -12 -1.5 -6 -1.5 -4 -5.5 -10 -1 -4 -0.5 -2 3 -16 1.5 -24 3 -18 0.5 -6 0 -14 0.5 -6 5 -24 0 -4 -2 -8 -1.5 -8 -0.5 -4 0.5 -4 3 -6 4.5 -6 10.5 -10 9 -12 12 -12.5 9 -11.5z"/>
<path fill="#b2b2ff" fill-rule="evenodd" d="M964.5 72l3.5 -0.5 4 0.5 4 2 2.5 2 3.5 4 8 12.5 4 4.5 8 7 12 6.5 4 3 4 4 3 4.5 4 10 1 4 0.5 4 0 10 -2.5 10 -0.5 4 0 10 1.5 6 3 8 8 18 1.5 6 1 6 -0.5 6 -0.5 6 -5 18 -4.5 22 -2 6 -6 11.5 -2.5 6.5 -2 6 -1.5 12 -2 7 -2 3.5 -2 1.5 -6 1 -3.5 1 -2.5 2 -2 2 -4 7.5 -8 16.5 -4.5 14 -3 6 -4.5 6.5 -2 2 -2 0.5 -2 0 -2 -0.5 -4 -2.5 -2 -2.5 -5.5 -7.5 -6.5 -11.5 -8 -11 -2 -3.5 -1.5 -4 -4 -16 -3.5 -6 -3 -3 -2 -1 -8 -1.5 -2 -1.5 -1 -1 -1 -2 -0.5 -2 -1 -10 -1 -6 -6 -14 -0.5 -6 0.5 -10 0 -24 1 -8 2.5 -10 1 -6 0 -6 -0.5 -12 0.5 -6 1 -6 4 -16 1 -6 -0.5 -2 -2 -8 -1.5 -8 -0.5 -4 0.5 -4 2 -4 4.5 -6 11 -12 8.5 -11.5 10.5 -10.5 9 -12 4.5 -4 2 -1.5z"/>
<path fill="#ababff" fill-rule="evenodd" d="M962.5 74l3.5 -1 4 0 2 0.5 4 2.5 4 4 8 12.5 6 7 8 7 14 8 3.5 3.5 3 4 4 10 1 4 0.5 4 -0.5 10 -3 10 -1 4 -0.5 6 0.5 6 2.5 9 2.5 7 2.5 4 5 8 2 4 2 6 0.5 6 -0.5 4 -1 6 -5 18 -5 22 -2.5 6 -6.5 14.5 -6 20 -2 3.5 -2 2 -10 6 -4 3.5 -1.5 2.5 -2.5 4.5 -8 20 -4 13.5 -2 5 -3 5 -3 3.5 -2 0.5 -2 0 -2 -0.5 -4 -2.5 -3 -3 -2.5 -4 -6.5 -13 -8 -11 -2 -4 -2.5 -6 -2 -10 -1 -4 -4.5 -9 -4 -6 -2 -1.5 -4 -2 -2 -1.5 -1 -2 -3.5 -10 -5 -12 -1 -4 -2 -34 0 -4 1 -6 3 -12 1 -6 0.5 -6 -0.5 -14 0.5 -6 6 -24 0 -4 -2.5 -8 -1.5 -8 -0.5 -4 0.5 -4 2 -4 4.5 -6 10 -12 6.5 -8.5 12 -13 9.5 -12.5 2.5 -2.5z"/>
<path fill="#a5a5ff" fill-rule="evenodd" d="M962 76l4 -1.5 4 0.5 2 0 4 3 4 4.5 8 12.5 6 7 8 7 10 5.5 4 3 2.5 2.5 2.5 4 3 6 1 4 1 4 0 4 -1 8 -4 10 -1 4 -0.5 8 0.5 6 2 8 2.5 8 3.5 6 6 7 2 3.5 2 5.5 0 4 0 4 -1 6 -5 16 -6 24 -2 6 -5.5 12 -6.5 18 -2 3.5 -2 2.5 -10 7.5 -4 4 -2 2.5 -3.5 8 -6 16 -5 16 -1.5 4 -4 6 -2 1 -2 0 -2 0 -2 -1 -2 -1.5 -2 -2.5 -2.5 -4 -6.5 -14 -8.5 -12 -2.5 -6 -2.5 -10 -1.5 -5.5 -8 -21.5 -2 -3 -8 -8.5 -4.5 -7.5 -1.5 -4 -1 -4 -3 -32 1 -8 3 -12.5 1 -7.5 0.5 -6 0 -14 0.5 -6 5 -20 0.5 -6 -0.5 -4 -2 -6 -1.5 -8 0 -4 0.5 -4 2 -4 4 -6 14.5 -18 11.5 -13 9.5 -13z"/>
<path fill="#9f9fff" fill-rule="evenodd" d="M961.5 78l2.5 -1 4 -0.5 4 0.5 1.5 1 2.5 2.5 3.5 3.5 8.5 13.5 6 7 8 6.5 12 7.5 3.5 3.5 2.5 4 3 8 1 4 -0.5 4 -1 8 -4.5 10 -1 4 -0.5 8 0.5 6 2.5 12 2.5 8 2 4 1.5 2 7.5 8 2 4 0.5 4 0 4 -1 4 -5 16 -3 14 -3 12 -12 30 -3 6 -2.5 3 -12 11.5 -4.5 5.5 -3.5 8 -7 20 -4 14 -3 5 -2 1 -2 0.5 -2 -0.5 -2 -0.5 -2 -1.5 -1.5 -2 -2 -4 -6.5 -14 -8 -12 -2.5 -6 -2.5 -10 -4 -12 -3 -12 -1.5 -4 -2.5 -4 -8 -8 -4 -6 -1.5 -4 -0.5 -4 -2.5 -20 -1 -10 1 -8 2.5 -12 1 -6 2 -28 5 -22 0.5 -4 -0.5 -4 -2 -6 -1.5 -8 -0.5 -4 0.5 -4 2 -4 7 -10 11 -14 11.5 -13.5 8 -10.5z"/>
<path fill="#9898ff" fill-rule="evenodd" d="M961.5 80l4.5 -2 2 0 4 1 6 6 10 14.5 6 7 6.5 5.5 12.5 8 3 3 3 5 1.5 4 1 4 0 6 -1.5 8 -3.5 8 -1.5 4 -1 8 0.5 8 2 12 3.5 12 2 4.5 2 3 6 7 1.5 3.5 0 2 -0.5 6 -3 11.5 -3 16.5 -2 8 -3.5 10 -8.5 22 -3 5.5 -3 4.5 -13 14 -4.5 6 -3 6 -7 20 -5 16 -1 2 -1.5 1 -2 0.5 -2 0 -2 -1 -2.5 -2.5 -1.5 -2.5 -6 -14.5 -8.5 -13 -2.5 -6 -2 -8 -4 -12 -3 -13.5 -1.5 -4.5 -2.5 -4 -9.5 -10 -2 -4 -2 -6 -2.5 -18 -1 -10 0.5 -8 3 -14 1 -6 2 -28 4.5 -22 0.5 -4 -0.5 -4 -1.5 -6 -1.5 -8 -0.5 -4 1 -4 1.5 -4 6.5 -10 11 -14 9.5 -11 8 -11z"/>
<path fill="#9292ff" fill-rule="evenodd" d="M966 80l4 0 2 1 2 1.5 4.5 5.5 9.5 13.5 4 5 6 5.5 14 10 4 4.5 2.5 5.5 1 4 0.5 2 -0.5 6 -1.5 6 -4 8 -1.5 4 -0.5 6 0 8 2 12 2 10 2 7 2 5 5.5 12 0.5 6 -1 12 -1.5 12 -1.5 8 -3.5 12 -8.5 20 -2.5 6 -4 6 -13.5 15.5 -4.5 6.5 -2 4 -7.5 20.5 -4 14 -2 2.5 -2 1 -2 0 -2 -1.5 -2 -2 -6.5 -14.5 -8.5 -14 -2 -4 -6 -18 -3 -15.5 -2 -6 -2.5 -4.5 -9 -10 -2.5 -4 -1 -4 -2.5 -14 -1 -8 -0.5 -8 0.5 -6 3.5 -18 3 -32 4.5 -24 0 -4 -2 -6 -1.5 -10 0 -4 0.5 -2 2 -4 6 -10 9 -12 9.5 -11.5 8 -10.5 4 -4.5z"/>
<path fill="#8c8cff" fill-rule="evenodd" d="M965.5 82l2.5 -0.5 4 1.5 6 6 10 14.5 4 5 6 5.5 11 8 2 2 3.5 4 2 4 1.5 4 -0.5 6 -2 8 -3.5 7 -1 3 -1 6 0 10 1.5 12 2.5 11 2 7.5 5.5 17.5 1 6 0.5 6 -1 14 -2 10 -4.5 14 -7.5 18 -3 6 -3 4 -14 18 -4 6 -10 24 -2 7.5 -2 3.5 -1 1 -1 1 -2 0 -2 -1 -2 -2.5 -4 -9.5 -9 -14 -2 -4 -6.5 -18 -1 -4 -2 -12 -1 -4 -1.5 -4 -3 -4.5 -7 -7.5 -3 -6 -2 -6 -2 -12 -1 -14 0.5 -6 3 -16 4 -36 4 -22 -0.5 -4 -1.5 -6 -1.5 -10 0 -4 0.5 -2 2 -4 4.5 -8 4 -6 24 -30.5 2 -2z"/>
<path fill="#8585ff" fill-rule="evenodd" d="M965 84l3 -0.5 4 1 8 9 8 11.5 4 5 4 4 10 8 4 3.5 3.5 4.5 2 4 0.5 4 -1 6 -1.5 6 -3.5 6.5 -1 3.5 -0.5 6 0 10 2 16 3 14 5.5 20 1 6 0.5 6 -0.5 12 -2 10 -4.5 14 -6.5 16 -3 5.5 -3 4.5 -18.5 26 -5.5 12 -5 13.5 -2 3 -2 2 -2 0.5 -2 -1 -2 -2.5 -4 -7.5 -8.5 -14 -7.5 -18 -1 -4 -2.5 -14 -2 -6 -2.5 -4.5 -7.5 -9.5 -2.5 -4 -2 -6 -1.5 -8 -1 -8 -0.5 -8 0 -6 3 -16 2.5 -20 2 -20 3.5 -20 0 -4 -1.5 -6 -1.5 -10 0 -4 0.5 -2 5 -10 4 -6 23.5 -30.5 2 -2z"/>
<path fill="#7f7fff" fill-rule="evenodd" d="M964.5 86l3.5 -0.5 4 1 8 9 8 11.5 4 5 16 14.5 3 3.5 2 4 1 4 -1 6 -2 6 -3 6.5 -1 3.5 -0.5 6 0.5 10 0.5 10 1.5 8 3 14 5 20 1 6 0.5 6 -0.5 10 -1.5 8 -5 16 -5.5 13.5 -4.5 8.5 -10.5 16 -10 14 -5 9.5 -4 11 -2 2.5 -2 1.5 -2 0.5 -2 -0.5 -2 -1.5 -10.5 -17 -6.5 -14 -2.5 -8 -2.5 -14 -2 -6.5 -3 -5.5 -7.5 -10 -3 -6 -1.5 -6 -1.5 -8 -0.5 -12 0.5 -8 5 -36 2 -18 3.5 -20 -0.5 -4 -1 -6 -1.5 -10 0 -4 0.5 -2 1.5 -4 4 -8 3 -4 20 -26.5 4 -4.5z"/>
<path fill="#7878ff" fill-rule="evenodd" d="M963.5 88l2.5 -1 2 0 4 1.5 8 8.5 10 14.5 16.5 16.5 3.5 4 1 2 0.5 4 -0.5 4 -2 8 -2.5 6 -1.5 4 0.5 16 2 18 2.5 13.5 5.5 22.5 1 6 0 6 -0.5 8 -1 8 -5 16 -5 12 -3.5 6 -11 18 -12.5 18 -3 6 -3 8 -2 2.5 -2 1.5 -2 0.5 -2 -0.5 -2 -1.5 -8.5 -12.5 -7.5 -15 -2.5 -7 -2 -14 -2 -6 -3.5 -7 -6.5 -9 -3 -6 -1.5 -6 -1.5 -8 -1 -12 0.5 -8 5.5 -36 1.5 -18 3.5 -20 -0.5 -4 -1 -6 -1.5 -10 0 -4 0.5 -2 4.5 -10 4 -6 18.5 -25 4 -4z"/>
<path fill="#7272ff" fill-rule="evenodd" d="M963 90l3 -1 2 -0.5 4 1.5 8 8.5 10 14.5 16 17 2.5 4 0.5 2 0 4 -0.5 4 -1.5 6 -3 7.5 -0.5 2.5 0.5 16 2 19.5 4 20 4 16.5 1 10 -0.5 8 -1.5 8 -5 16 -4 9.5 -15 26.5 -4 6 -8.5 12 -2.5 4.5 -2 5 -2 2.5 -2 1.5 -2 1 -4 -1.5 -2 -3 -6 -9 -7 -13 -2 -6 -3 -16 -2 -6 -2 -4.5 -8 -11.5 -2.5 -6 -2.5 -12 -0.5 -12 0.5 -10 5 -34 1.5 -18 3.5 -20 -0.5 -4 -1 -6 -1.5 -10 0 -4 0.5 -2 4.5 -10 3.5 -6 15.5 -21 4 -4.5z"/>
<path fill="#6c6cff" fill-rule="evenodd" d="M962 92l4 -1.5 2 0 4 1 8 8.5 8 12 15.5 18 2.5 4 1 2 0 4 -0.5 4 -1.5 6 -3 8 0 2 0.5 16 2 20 4 20 4 18 0.5 8 0 8 -1 6 -5 16 -3 8 -10 17.5 -5 10.5 -3.5 6 -3.5 5 -6 7 -4 7.5 -4 4 -2 1 -4 -1.5 -2 -2.5 -8.5 -12.5 -4 -8 -2 -6 -2 -12 -1.5 -6 -2.5 -6 -8.5 -14 -2 -6 -2.5 -10 -0.5 -12 0.5 -10 5 -34 1.5 -18 3 -20 -2.5 -20 0 -4 0.5 -2 1.5 -4 5 -10 14.5 -20z"/>
<path fill="#6565ff" fill-rule="evenodd" d="M965 92l3 -0.5 4 1.5 6 6 10 14.5 7.5 8.5 6 8 2.5 4 0.5 2 0.5 4 -1 4 -1 6 -2 6 -0.5 4 0.5 16 2 20 4 22 3.5 16 1 8 -0.5 8 -1.5 8 -4 14 -3.5 8 -8 14 -6.5 14 -3.5 6 -4 6 -5.5 6 -2.5 4.5 -4 3.5 -2 1 -4 -1 -2 -2.5 -8 -11 -3.5 -6.5 -1.5 -4 -3 -16 -1.5 -6 -2.5 -5.5 -7.5 -12.5 -2 -6 -2 -10 -1 -12 0 -6 1 -8 4 -28 1.5 -20 3.5 -20 -2.5 -20 0 -4 0.5 -2 4 -10 3.5 -6 15 -20.5 4 -4z"/>
<path fill="#5f5fff" fill-rule="evenodd" d="M963.5 94l2.5 -1 4 0.5 2 0.5 4 4.5 4 4.5 6 9 8 10 5.5 8 2.5 4 0.5 2 0.5 2 -0.5 4 -1 8 -2.5 8 0 6 3 32 3.5 22 3.5 16 1 8 -0.5 8 -1 6 -4 14 -2.5 6.5 -8 14 -7.5 17.5 -3.5 6 -3 4.5 -6 6.5 -2 3 -4 3 -2 1 -4 -1 -2 -2 -6 -7.5 -4.5 -7.5 -1.5 -6 -2.5 -12 -2 -8 -2.5 -6 -6.5 -12 -3 -8 -2 -10 -0.5 -10 0 -6 1 -10 4 -26 1.5 -20 3 -20 -2 -18 -0.5 -4 0.5 -4 2.5 -6 4 -8 14 -20 3 -3.5 2 -2z"/>
<path fill="#5959ff" fill-rule="evenodd" d="M962 96l4 -1.5 2 0 4 1 2.5 2.5 5.5 6.5 6 9 6.5 8.5 6.5 10 1.5 4 0.5 4 -0.5 4 -1 6 -2 8 0 4 3 32 4 24 3 16 1 8 -0.5 8 -0.5 4 -4.5 16 -3 7 -6 10 -2 4 -5 13 -2.5 6 -4.5 7 -8 9 -4 2.5 -2 0.5 -4 -0.5 -2 -2 -5.5 -6.5 -3.5 -6 -2 -6 -3 -14 -1.5 -6 -2.5 -6 -6.5 -12 -2.5 -8 -2 -10 -0.5 -10 0 -6 1 -8 4 -28 1 -20 3 -20 -2 -20 0 -4 0.5 -2 1 -4 5 -10 12 -17.5z"/>
<path fill="#5252ff" fill-rule="evenodd" d="M964.5 96l3.5 -0.5 4 1.5 6 6 13.5 19 6 10 1.5 4 0.5 4 -0.5 4 -1 6 -2 8 0 4 3.5 34 3.5 22 3 16 1 8 -1 12 -1.5 6 -3 10 -3 6 -7 12 -5 14 -3 8 -3.5 5.5 -8 9 -4 2 -2 0.5 -4 -0.5 -4 -4 -4 -5 -3 -5.5 -1 -4 -3 -14 -1.5 -6 -1.5 -4 -7 -14 -3 -8 -1.5 -10 -1 -12 1.5 -14 3.5 -24 1 -22 3 -20 -2 -18 0 -4 0.5 -4 4 -10 3.5 -6 11.5 -16.5 4 -4.5z"/>
<path fill="#4c4cff" fill-rule="evenodd" d="M962.5 98l3.5 -1 4 0 2 1 4 4 4 5 9 13 6 10 2.5 6 0 4 0 4 -1 6 -1.5 8 0 4 3 32 4 26 2.5 14 1 8 -1 12 -3.5 12 -3 8 -6 10 -2 4 -5 16 -2.5 6 -2.5 4 -8 9 -4 2 -2 0 -4 -0.5 -2 -1.5 -4.5 -5 -3.5 -6 -1 -4 -3 -14 -1.5 -6 -2.5 -6 -6 -12 -2.5 -8 -2 -10 -0.5 -10 0 -6 1 -8 3.5 -28 1 -20 3 -20 -2 -20 0.5 -6 4 -10 3.5 -6 9.5 -14 3 -3.5z"/>
<path fill="#4545ff" fill-rule="evenodd" d="M966 98l2 0 4 1 6 6.5 11 16.5 5.5 10 1.5 4 0 6 -0.5 8 -2 8 0 4 4 34 3 22 3 16 0.5 8 -1 12 -2.5 10 -3 8 -8 14 -4.5 16 -2.5 6 -3.5 6 -7 7.5 -4 2 -2 0 -4 -0.5 -3.5 -3 -3.5 -4 -2.5 -6 -5 -22 -1.5 -4 -6.5 -14 -3 -8 -2 -10 -0.5 -12 1 -12 3.5 -26 1 -20 3 -22 -2 -18 0 -4 0.5 -4 1.5 -4 3.5 -8 9 -14 4.5 -6 2.5 -2.5z"/>
<path fill="#3f3fff" fill-rule="evenodd" d="M963.5 100l2.5 -1 4 0.5 2 1 5.5 5.5 9.5 14 6.5 12 1.5 4 0 4 -0.5 4 -0.5 6 -1.5 8 0 4 4 34 5.5 38 0.5 6 -0.5 12 -2.5 10 -3 8 -6.5 12 -1.5 4 -4 14 -3 8 -3.5 5.5 -6 6.5 -2 1.5 -4 1 -4 -1 -2 -1.5 -4 -4.5 -3 -5.5 -5 -22 -7.5 -18 -3 -10 -1.5 -8 -1 -12 1 -14 3.5 -24 1 -22 3 -20 -2 -18 0 -4 0.5 -4 4 -10 3 -6 9 -13 4 -4.5z"/>
<path fill="#3939ff" fill-rule="evenodd" d="M961.5 102l4.5 -2 2 0 4 1.5 6 6.5 7 10 2.5 4 5.5 12 1 4 -0.5 4 -0.5 8 -1.5 8 0 4 4.5 38 5 34 0 6 -0.5 12 -2 8 -3.5 10 -7 13.5 -2 6.5 -2.5 10 -2 6 -3 6 -6.5 7 -4 1.5 -2 0.5 -4 -0.5 -2 -2 -4 -4.5 -2 -4 -1 -4 -4 -18 -7.5 -18 -3 -10 -1.5 -8 -0.5 -12 0.5 -12 3.5 -26 1 -20 3 -22 -2 -16 0 -8 1.5 -6 4.5 -10 8 -12z"/>
<path fill="#3232ff" fill-rule="evenodd" d="M963.5 102l2.5 -1 2 0 4 1.5 5 5.5 4.5 6 4 6 5.5 12 1.5 4 0 8 -2.5 16 4.5 36 5 38 0.5 6 -1 12 -1.5 8 -4 10 -5 10 -1.5 4 -4.5 16 -2 6 -2.5 5 -6 7 -4 1.5 -2 0.5 -4 -1 -2 -1.5 -3 -3.5 -2 -4 -1.5 -6 -4 -16 -7 -18 -3 -10 -1.5 -8 -0.5 -12 0.5 -10 3.5 -28 1 -22 2.5 -20 -1.5 -16 -0.5 -8 2 -6 4.5 -10 9.5 -14 3 -3z"/>
<path fill="#2c2cff" fill-rule="evenodd" d="M962 104l4 -2 2 0 4 1.5 6 7 5.5 7.5 3 6 4.5 10 0.5 4 0 4 -0.5 8 -1.5 8 0 4 9 76 -0.5 12 -1.5 8 -3 8 -7.5 17.5 -4 16.5 -2 5.5 -2.5 4.5 -5.5 6.5 -4 2 -2 0 -4 -0.5 -2 -2 -3 -4 -1.5 -4 -5 -20 -7 -18 -2.5 -8 -2 -10 -1 -12 1 -12 3 -24 1 -22 3 -22 -2 -16 0 -8 1.5 -6 4.5 -10 8 -11.5z"/>
<path fill="#2626ff" fill-rule="evenodd" d="M963.5 104l2.5 -1 4 0.5 2 1 3 3.5 5 6 4 6 4.5 10 1.5 4 0.5 4 0 4 -2 18 9 78 -0.5 12 -1.5 8 -2.5 6 -7 17 -2 6 -2.5 11 -2 6 -3 6 -4.5 5.5 -4 1.5 -2 0.5 -4 -1 -2 -2 -2 -2.5 -2 -4 -5 -20 -6 -16 -4 -12 -1 -8 -1 -12 0.5 -10 3.5 -26 1 -22 3 -22 -2 -16 0 -8 1.5 -6 4.5 -10 3 -5 6 -8 2 -2z"/>
<path fill="#1f1fff" fill-rule="evenodd" d="M962 106l4 -2 2 0 4 1.5 6 7 4 5.5 3 6 4 10 1 4 -0.5 4 -0.5 8 -1.5 8 0 4 6 46 3 30 -0.5 12 -1.5 6 -1.5 6 -7 16.5 -2 5.5 -4.5 18 -3 6 -4.5 6.5 -4 1.5 -2 0.5 -4 -1 -1.5 -1.5 -2.5 -4 -1.5 -4 -4.5 -18 -7 -18 -2.5 -8 -2 -10 -0.5 -12 0.5 -12 3.5 -24 0.5 -22 3 -22 -2 -16 0 -8 1.5 -6 4.5 -10 4.5 -7z"/>
<path fill="#1919ff" fill-rule="evenodd" d="M963.5 106l2.5 -1 2 0 4 1.5 1.5 1.5 6.5 8 2.5 4 4.5 10 1.5 4 0.5 4 0 4 -2.5 18 6.5 50 2.5 28 -1 12 -1 6 -2 6 -7.5 19.5 -4 16 -1.5 4.5 -3 6 -3.5 5 -2 1.5 -4 0.5 -4 -1 -3 -4 -2 -4 -4.5 -18 -6 -16 -3.5 -12 -1.5 -8 -1 -12 0.5 -10 3.5 -26 1 -22 2.5 -22 -1.5 -16 0 -8 1.5 -6 4 -10 2.5 -4 5.5 -7 2 -2z"/>
<path fill="#1212ff" fill-rule="evenodd" d="M962 108l4 -2 2 0 4 1.5 7.5 8.5 2.5 4 3.5 8 2 6 0.5 4 0 4 -0.5 8 -1.5 8 0 3 5.5 47 3 30 -1 12 -1 6 -8.5 24 -6 21 -2.5 5 -3.5 6 -4 1.5 -2 0.5 -4 -1.5 -2 -2.5 -2 -4.5 -4.5 -17.5 -6.5 -16 -3 -10 -1.5 -10 -1 -12 0.5 -10 3 -26 1 -22 3 -22 -2 -16 0 -8 1.5 -6 4.5 -10 3 -5z"/>
<path fill="#0c0cff" fill-rule="evenodd" d="M963.5 108l2.5 -1 2 0 4 1.5 6 7 3.5 4.5 3.5 8 2 6 0.5 4 0 4 -1 8 -1 8 0 4 5.5 48 2.5 28 -1 12 -1 6 -9 26 -5 18 -3 6 -2.5 4.5 -2.5 1.5 -3.5 0.5 -2 -0.5 -2 -1 -2 -2.5 -1.5 -4.5 -4.5 -16 -6 -16 -3 -10 -2 -10 -1 -12 0.5 -10 3.5 -26 0.5 -22 3 -22 -2 -16 0 -8 1.5 -6 4.5 -10 2.5 -4 4 -5 2 -2z"/>
<path fill="#0606ff" fill-rule="evenodd" d="M967 108l3 0.5 2 1 7.5 8.5 3 6 3 8 1 4 0 8 -2 16 6 50 2 28 -1 12 -1 6 -9 26 -5 18 -4.5 9 -2 1.5 -2 0.5 -2 0.5 -2 -0.5 -2 -1.5 -2 -3.5 -5.5 -18 -6.5 -18 -3 -10 -1 -6 -1 -16 0.5 -8 3 -24 1 -24 2.5 -22 -2 -18 0 -4 0.5 -4 1 -4 3.5 -8 3 -5 6 -7 2 -1.5z"/>
<path fill="#0100fe" fill-rule="evenodd" d="M963.5 110l2.5 -1 2 0 4 1.5 6 6.5 2 3 3 6 2.5 8 0.5 4 0 4 -0.5 8 -1.5 8 0 3 5.5 47 2.5 28 -0.5 10 -2 10 -9 28 -4.5 14 -4 9.5 -2 1.5 -2 1 -2 0 -2 -0.5 -2 -1.5 -2 -4 -4.5 -16 -7 -18 -2 -8 -2 -8 -1 -14 0.5 -10 3 -24 1 -24 2.5 -22 -1.5 -16 0 -8 1.5 -6 4 -10 5.5 -7.5 2 -2z"/>
<path fill="#0700f8" fill-rule="evenodd" d="M965.5 110l2.5 0 4 1 6 7 3.5 6 3.5 10 0.5 4 0 4 -2 18 5.5 50 2 28 -0.5 10 -1.5 8 -14 42 -3 7.5 -3.5 2.5 -2.5 0.5 -2 -1 -2 -1.5 -1 -2 -5 -16 -6.5 -18 -2.5 -8 -1.5 -8 -1.5 -16 0.5 -8 3 -24 1 -24 2.5 -22 -1.5 -16 0 -8 1.5 -6 4 -10 3 -4 4 -4.5z"/>
<path fill="#0d00f2" fill-rule="evenodd" d="M962.5 112l3.5 -1.5 2 0 4 1.5 5.5 6 2.5 4 3.5 8 1 4 0.5 4 0 4 -2.5 18 6 50 2 26 -1 10 -1 8 -5.5 18 -8.5 26 -2.5 6 -2.5 2 -1.5 0.5 -2 0 -2 -0.5 -2 -2 -2 -5 -3.5 -11 -6 -16 -4 -16 -1 -6 -0.5 -10 0.5 -10 2.5 -24 1 -24 3 -22 -2 -16 0 -8 1.5 -6 3 -8 4 -6z"/>
<path fill="#1400eb" fill-rule="evenodd" d="M964.5 112l1.5 -0.5 2 0 2 0.5 2 1 3 3 4.5 6 3 8 1.5 4 0.5 4 -0.5 4 -2 18 5.5 48 2 28 -0.5 8 -1 10 -6.5 20 -9.5 28 -2.5 2 -1.5 0.5 -2 0.5 -2 -1.5 -2 -2 -4.5 -13.5 -7 -18 -4 -16 -1 -16 0.5 -8 2.5 -24 1 -24 3 -22 -2 -16 0 -8 0.5 -4 1.5 -4 4 -8 2.5 -4 3 -3z"/>
<path fill="#1a00e5" fill-rule="evenodd" d="M962 114l4 -1.5 2 0 4 1 4 4.5 2.5 4 3 6 2 6 0.5 4 -0.5 4 -0.5 8 -1.5 10 5.5 48 2 28 -0.5 8 -1.5 10 -6 20 -5 13.5 -4 12 -2.5 2.5 -1.5 1 -2 0 -2 -1.5 -2 -2.5 -11 -29 -3.5 -16 -1.5 -14 0.5 -10 3 -24 1 -24 2.5 -22 -2 -16 0 -8 1.5 -6 3 -8 3 -4z"/>
<path fill="#2100de" fill-rule="evenodd" d="M963.5 114l2.5 -1 2 0 4 1.5 6 7.5 3 6 2 6 0.5 4 -0.5 4 -0.5 8 -1.5 10 5.5 48 1.5 26 0 6 -1 10 -2 10 -4 12 -5.5 14 -3.5 11 -2 2.5 -2 1 -2 0 -2 -1 -2 -2.5 -9 -23 -2.5 -8 -2 -10 -1 -6 -1 -10 0.5 -10 3 -24 1 -24 2.5 -22 -2 -16 0 -8 1.5 -6 3.5 -8 3.5 -5.5 2 -2z"/>
<path fill="#2700d8" fill-rule="evenodd" d="M965.5 114l2.5 0 2 0.5 2 0.5 2.5 3 4 6 2.5 6 1.5 4 0.5 4 -0.5 4 -0.5 8 -1.5 10 5 46 2 30 -1 14 -1 6 -2.5 8 -3 9.5 -5 12.5 -3 8.5 -2 2.5 -2 1.5 -2 0 -2 -1.5 -2 -2.5 -9 -22.5 -3 -10 -1.5 -8 -1.5 -16 0.5 -8 3 -24 1 -24 2.5 -22 -1.5 -14 -0.5 -10 1.5 -6 2.5 -6 2 -4 4 -4.5z"/>
<path fill="#2d00d2" fill-rule="evenodd" d="M962 116l4 -1.5 2 0 4 1.5 3.5 4 2.5 4 2.5 6 1.5 4 0.5 4 -0.5 4 -0.5 8 -1.5 10 5 46 2 28 0 8 -1 8 -1.5 6 -1.5 6 -3 10 -6 14 -2 6.5 -2 2.5 -2 1 -2 0 -2 -1.5 -2 -2.5 -8 -18.5 -3 -9.5 -1.5 -8 -1 -6 -0.5 -10 0 -10 3 -24 0.5 -22 3 -24 -2 -16 0 -8 1.5 -6 2.5 -6 2 -4z"/>
<path fill="#3400cb" fill-rule="evenodd" d="M963.5 116l2.5 -1 2 0 4 1.5 3 3.5 2.5 4 2.5 6 1.5 4 0.5 4 -0.5 4 -0.5 8 -2 10 3.5 24 2 22 2 28 0 6 -1 10 -3 12 -3.5 10 -7 18 -2 2.5 -2 1.5 -2 0 -2 -1.5 -2 -2.5 -7 -16 -2.5 -8 -2.5 -10 -1 -6 -0.5 -10 0 -10 2.5 -24 1.5 -24 2.5 -22 -2 -16 0 -8 1.5 -6 3.5 -8 3 -4 1 -1z"/>
<path fill="#3a00c5" fill-rule="evenodd" d="M965.5 116l2.5 0 2 0.5 2 1 2 2.5 4.5 8 2 4 0.5 4 0.5 4 -1 8 -2 12 3.5 24 2.5 24 1.5 28 -0.5 8 -1 8 -2 8 -3.5 10 -7 18 -2 2.5 -2 1 -2 0 -2 -1.5 -2 -2 -5 -10 -3 -8 -2.5 -10 -1.5 -6 -1 -8 -0.5 -8 0.5 -8 2.5 -24 1.5 -24 2.5 -22 -2 -16 0 -8 1.5 -6 3.5 -8 3.5 -4.5z"/>
<path fill="#4000bf" fill-rule="evenodd" d="M962.5 118l3.5 -1.5 2 0 4 1.5 4 6 3 6 1.5 4 0.5 4 -0.5 6 -0.5 6 -2 10 3.5 24 2 20 2 30 -0.5 8 -1 10 -1.5 6 -4 12 -6.5 16 -2 2 -2 1.5 -2 0 -2 -1 -2 -2 -4.5 -8.5 -3 -8 -2 -8 -2 -8 -1.5 -16 0.5 -8 2.5 -24 1 -22 3 -24 -2 -14 -0.5 -10 2 -6 2.5 -6 2 -3.5z"/>
<path fill="#4700b8" fill-rule="evenodd" d="M964 118l2 -0.5 2 0 2 0.5 2 1 2.5 3 3 6 1.5 4 1 4 0.5 4 -1 8 -2 12 3.5 24 2 20 2 30 -0.5 8 -1 10 -3.5 12.5 -3 7.5 -5 12.5 -2 2 -2 1 -2 0 -2 -1 -2 -1.5 -4 -7.5 -3 -7.5 -2 -8 -2 -8 -1.5 -16 0.5 -8 2.5 -24 1 -22 3 -24 -2 -14 -0.5 -10 2 -6 2.5 -6 2.5 -4 1 -1z"/>
<path fill="#4d00b2" fill-rule="evenodd" d="M966 118l2 0 2 0.5 2.5 1.5 2.5 4 3 6 1.5 6 0.5 4 -1 8 -2.5 12 4 24 2 22 2 30 -1 10 -1 8 -1.5 6 -3.5 10 -5.5 12.5 -2 2.5 -2 1 -2 0 -2 -1 -2 -1.5 -4 -7.5 -2.5 -6 -2 -8 -2 -8 -1 -8 -0.5 -8 0.5 -8 2.5 -24 1 -22 3 -24 -2 -14 -0.5 -10 1.5 -6 4 -8 2 -2.5z"/>
<path fill="#5400ab" fill-rule="evenodd" d="M963 120l3 -1.5 2 0 2 1 2 1 5.5 9.5 1.5 6 0 4 -0.5 8 -2.5 12 3.5 24 2.5 20 1 10 1 20 -0.5 8 -1 8 -1 6 -2 6 -7.5 19 -2 2.5 -2 1 -2 0 -2 -1 -2 -1.5 -3.5 -6 -2.5 -6 -2 -8 -2 -8 -1 -8 -0.5 -8 0.5 -8 2.5 -24 1 -22 3 -24 -2 -14 -0.5 -10 1 -4 2 -5 3 -5z"/>
<path fill="#5a00a5" fill-rule="evenodd" d="M964 120l2 -0.5 2 0 2 0.5 2 1 5 9 1.5 6 0 4 -0.5 7 -2.5 13 0.5 4 3 20 2.5 20 1 10 1 20 -0.5 8 -1 8 -1 6 -2 6 -7 18 -2 2 -2 1 -2 0 -2 -0.5 -2 -1.5 -2.5 -5 -2.5 -6 -2.5 -8 -2 -8 -1 -8 -0.5 -8 0.5 -8 2.5 -24 1 -22 3 -24 -2 -14 -0.5 -6 0 -4 1.5 -6 3 -6 2 -2.5z"/>
<path fill="#60009f" fill-rule="evenodd" d="M962 122l4 -2 2 0 2 1 2 1 4 8 2 6 0 4 -0.5 6 -2.5 14 0 4 3.5 20 2 14 1.5 14 1 20 0 8 -1 8 -1 6 -2 6 -7 18.5 -2 2 -2 1 -2 0.5 -2 -1 -2 -1.5 -3 -5.5 -2.5 -6 -2 -8 -1.5 -6 -1.5 -16 0.5 -8 2.5 -24 1 -22 3 -24 -2 -14 -0.5 -6 0 -4 1 -4 1 -3 2 -4z"/>
<path fill="#670098" fill-rule="evenodd" d="M963.5 122l2.5 -1 2 0 2 0.5 2 1.5 3.5 7 2 6 0 4 -0.5 6 -2.5 14 0 4 3.5 20 2.5 20 1 10 1 20 -0.5 8 -1 8 -2.5 10 -6.5 17 -2 2 -2 1.5 -2 0 -2 -1 -2 -1 -2.5 -4.5 -3 -8 -2 -8 -1.5 -6 -1 -14 0.5 -8 2 -24 1.5 -22 3.5 -24 -2.5 -14 -0.5 -6 0 -4 1 -4 1.5 -4 3 -5z"/>
<path fill="#6d0092" fill-rule="evenodd" d="M965 122l3 -0.5 2 1 2 1.5 3 6 2 6 0 8 -1 6 -2 8 0 4 3.5 22 2.5 19.5 1 10.5 1 20 -0.5 8 -1 8 -0.5 4 -2 6 -6 15.5 -2 2.5 -2 1 -2 0 -2 -0.5 -2 -1.5 -2.5 -5 -2.5 -6 -2 -8 -1.5 -6 -1 -14 0 -8 2.5 -24 1.5 -22 3.5 -24 -2.5 -14 -0.5 -6 0 -4 1 -4 2 -5 2 -3z"/>
<path fill="#73008c" fill-rule="evenodd" d="M963 124l3 -1.5 2 0 2 1 2 1.5 3.5 7 1 4 -0.5 8 -0.5 6 -2 8 0 4 3.5 22 3 22 1.5 28 0 6 -1 8 -1 6 -1.5 4.5 -6 16 -2 2 -2 1 -2 0.5 -2 -1 -2 -1 -2 -4 -3 -8 -3 -12 -1.5 -14 0.5 -8 2.5 -24 1.5 -22 3.5 -24 -2.5 -12.5 -1 -7.5 0.5 -4 1 -4 1.5 -4 2 -3z"/>
<path fill="#7a0085" fill-rule="evenodd" d="M964.5 124l1.5 -0.5 2 0 2 0.5 2 2 3 6 1 4 -0.5 8 -0.5 6 -2 8 -0.5 4 4 22 3 22 0.5 10 1 18 0 6 -1 8 -0.5 4 -2 6 -5.5 15 -2 2 -1.5 1 -2.5 1 -2 -1 -2 -1.5 -2 -4 -2.5 -6.5 -2 -6 -1 -6 -1.5 -14 0.5 -8 2.5 -24 1.5 -22 3.5 -24 -2.5 -12 -1 -8 0 -4 1 -4 1.5 -3 2 -3z"/>
<path fill="#80007f" fill-rule="evenodd" d="M963 126l3 -2 2 0.5 2 0.5 2 2 0.5 1 2 4 1 4 -0.5 8 -0.5 6 -2.5 8 0 4 4 22 2.5 22 2 26 0 6 -0.5 8 -1 6 -2 6 -5 13.5 -2 2.5 -2 1 -2 0.5 -2 -0.5 -2 -2 -2 -3.5 -2.5 -7.5 -2.5 -10 -1.5 -14 0.5 -8 2.5 -24 1.5 -22 3.5 -20 0 -4 0 -2 -2.5 -10 -1 -8 0 -4 2 -6 2 -3.5z"/>
<path fill="#870078" fill-rule="evenodd" d="M964 126l2 -1 2 0 2 1 2 2 2 4 1 4 0 6 -1 8 -3 10 4.5 24 2.5 20 1 12 1 18 0 6 -1 8 -1 5 -1.5 5 -4.5 12 -2 2.5 -2 1.5 -2 0.5 -2 -1 -2 -1.5 -2 -4.5 -2 -5.5 -2.5 -10 -1.5 -14 0.5 -8 2.5 -24 1.5 -22 4 -24 -2.5 -10 -1.5 -8 0 -6 1 -4 1 -2 1.5 -2.5z"/>
<path fill="#8d0072" fill-rule="evenodd" d="M962.5 128l3.5 -2 2 0 2 1 2 1.5 1.5 3.5 1 4 0 6 -1 8 -1.5 4.5 -2 3.5 -0.5 2 1 4 1.5 4 3 18 3 24 1.5 22 0 6 -0.5 6 -1 7 -1.5 5 -4.5 12.5 -3 3.5 -1 0.5 -2 0.5 -2 -1 -2 -1.5 -4 -10 -2 -8.5 -1.5 -14 0 -8 2.5 -24 2 -22 2.5 -14 0.5 -3 2 -5 0 -2 -0.5 -2 -1.5 -2.5 -1.5 -5.5 -1.5 -10 0 -4 0.5 -2 1.5 -4z"/>
<path fill="#93006c" fill-rule="evenodd" d="M963.5 128l2.5 -1 2 0 2 1 2 1.5 2 6.5 -0.5 8 -1.5 9 -4 5.5 -2 0.5 -0.5 -1 -3.5 -4.5 -1.5 -5.5 -1 -8 0 -4 0.5 -2 2 -4.5zM966 162l2 0.5 2 3.5 2 5 2.5 15 3 24 1.5 16 0.5 10 -0.5 6 -1.5 8 -3 10 -2.5 7.5 -2 2.5 -2 1.5 -2 0.5 -2 -1 -2 -2 -4 -10 -2 -9 -1 -8 0 -6 4.5 -54 2.5 -12.5z"/>
<path fill="#9a0065" fill-rule="evenodd" d="M965.5 128l2.5 0 2 1 2 2 1 3 1 4 -1 6 -1 7 -2 3 -2 2 -2 0 -2 -1.5 -2 -2.5 -1.5 -8 -0.5 -6 0.5 -4 1.5 -3.5 2 -2zM966 166l2 0 2 3 2 5 1.5 10 3.5 26 2 24 -0.5 6 -0.5 6 -1.5 6 -1.5 6 -3 8 -2 2.5 -2 1.5 -2 0.5 -2 -1 -2 -2 -2 -4 -2 -5.5 -2 -10 -1 -12 5 -53.5 2 -10 2 -4z"/>
<path fill="#a0005f" fill-rule="evenodd" d="M963.5 130l2.5 -1.5 2 0.5 2 1 2 2 1 4 0 4 -1 8.5 -2 4 -2 1.5 -2 0.5 -2 -1.5 -2 -3 -0.5 -4 -1 -6 0 -4 1.5 -4.5zM965 170l1 -1.5 2 0.5 2 3 2 5 1.5 9 3.5 26 1.5 22 -0.5 6 -0.5 6 -1.5 6 -1.5 6 -2.5 6.5 -2 2.5 -2 1.5 -2 0.5 -2 -1 -2 -1.5 -2.5 -6.5 -2.5 -10 -1.5 -12 0.5 -8 2.5 -24 1.5 -20 2 -10.5 2 -4.5z"/>
<path fill="#a60059" fill-rule="evenodd" d="M965 130l1 -0.5 2 0 2 1.5 2 2 1 5 -1 8 -1.5 4 -2.5 2.5 -2 0.5 -2 -2 -2 -4 -1 -9 0 -2 1 -3.5 2 -2zM965.5 172l0.5 -0.5 2 0.5 2 3 2 4.5 4.5 32.5 1.5 22 -0.5 6 -1 8 -1.5 6 -2 6 -1 3 -2 2.5 -2 1.5 -2 0.5 -2 -0.5 -2 -2 -3 -7 -2 -8 -1 -8 0 -6 0.5 -8 4.5 -44 1 -6 2 -4z"/>
<path fill="#ad0052" fill-rule="evenodd" d="M963.5 132l2.5 -1.5 2 0 2 1.5 2 3 0.5 3 -0.5 4.5 -2 6 -2 2.5 -2 0 -1.5 -1 -0.5 -1 -2 -5 -0.5 -4 0 -4 0.5 -2zM964.5 176l1.5 -1.5 2 0.5 2 2.5 2 5 4 29.5 1.5 22 -0.5 8 -1.5 8 -3 10 -0.5 2 -2 2.5 -2 1.5 -2 0.5 -2 -1 -2 -2 -2 -4.5 -2.5 -9 -1 -12 0.5 -10 4 -42 1 -5z"/>
<path fill="#b3004c" fill-rule="evenodd" d="M965.5 132l0.5 -0.5 2 0 2 1.5 1.5 3 0.5 2 -1 4 -1 3.5 -2 3 -2 0.5 -2 -2.5 -1 -2.5 -1 -4 0 -2 0 -2 1 -2zM965 178l1 -1 2 0.5 2 2.5 2 5.5 3.5 28.5 1.5 20 -0.5 6 -1 8 -1.5 6 -2 6 -2 3 -2 1.5 -2 0.5 -2 -1 -2 -1.5 -2 -5 -2 -9.5 -1 -12 0.5 -8 4 -42 1 -4 1.5 -2.5z"/>
<path fill="#ba0045" fill-rule="evenodd" d="M964.5 134l1.5 -1 2 0 1.5 1 1 2 0.5 2 -1 4 -2 4 -2 0.5 -2 -3 -0.5 -1.5 -0.5 -4 0 -2zM965.5 180l0.5 -0.5 2 0.5 1.5 2 1 2 1.5 5.5 3 24.5 1.5 20 -0.5 6 -0.5 6 -1.5 6 -1.5 6 -0.5 1 -2 3 -2 1.5 -2 0 -2 -0.5 -2 -2 -2 -5 -2 -10 -1 -10 0.5 -8 4.5 -40 2 -6z"/>
<path fill="#c0003f" fill-rule="evenodd" d="M964.5 136l1.5 -2 2 0.5 1.5 1.5 0.5 2 -0.5 2 -1.5 3 -2 0.5 -1 -1.5 -1 -2.5 0 -1.5zM964.5 184l1.5 -2 2 0.5 2 3.5 2 7 2.5 21 1.5 20 -0.5 6 -0.5 6 -1.5 6 -1.5 6 -2 2.5 -2 1.5 -2 0.5 -2 -1 -2 -2 -1.5 -3.5 -1.5 -6 -1.5 -12 0.5 -10 4 -35.5 1.5 -6.5z"/>
<path fill="#c60039" fill-rule="evenodd" d="M965.5 138l0.5 -1.5 2 1 0 0.5 0 1 -2 1zM965.5 186l0.5 -0.5 2 0.5 2 4 2 7 2 19 1.5 18 -1 10 -1 8 -1.5 4.5 -2 2.5 -1 1 -1 0.5 -2 0.5 -2 -1 -2 -2 -1.5 -4 -2 -10 -0.5 -8 0.5 -8 3.5 -30 2 -9z"/>
<path fill="#cd0032" fill-rule="evenodd" d="M965.5 190l0.5 -1 2 0.5 2 4 2 7.5 1.5 13 1.5 20 -1 10 -2 11 -2 3 -2 1.5 -2 0.5 -2 -1 -2 -2.5 -1 -2.5 -1.5 -8 -1 -10 0.5 -10 3 -23 2 -9.5z"/>
<path fill="#d3002c" fill-rule="evenodd" d="M965.5 194l0.5 -1 2 0.5 2 4 2 7 1.5 11.5 1 18 -0.5 8 -2 11.5 -2 3 -2 1.5 -2 0.5 -2 -1 -2 -2.5 -0.5 -1 -2 -8 -0.5 -10 0.5 -10 2.5 -19 2 -8.5z"/>
<path fill="#d90026" fill-rule="evenodd" d="M966 198l0 -0.5 2 0 2 4 2 6.5 1.5 16 0.5 10 -0.5 8 -1.5 9.5 -2 3.5 -2 2 -2 0 -2 -1 -2 -2.5 -2 -8.5 -0.5 -9 0.5 -10 2 -15.5 2 -8z"/>
<path fill="#e0001f" fill-rule="evenodd" d="M966 202l2 -0.5 2 3.5 2 7 1.5 22 0 6 -1.5 9.5 -2 4 -2 2 -2 0.5 -2 -1.5 -2 -2.5 -2 -10 -0.5 -6 0.5 -8 2 -14 2 -7.5z"/>
<path fill="#e60019" fill-rule="evenodd" d="M966 206l0 -0.5 2 0 2 3 1 3.5 1 4 1 18 0 6 -1 7 -2.5 5 -1.5 2 -2 0.5 -2 -1.5 -2 -3.5 -1.5 -7.5 -0.5 -6 0.5 -8 1.5 -10.5 2 -7.5z"/>
<path fill="#ed0012" fill-rule="evenodd" d="M965.5 210l0.5 -1 2 -0.5 2 3.5 2 9 1 13 -0.5 8 -1 4 -1.5 3.5 -2 2.5 -2 0.5 -2 -1.5 -2 -4 -1 -5 -0.5 -6 0.5 -6 1 -9 2 -7.5z"/>
<path fill="#f3000c" fill-rule="evenodd" d="M965.5 214l0.5 -1.5 2 -0.5 2 4.5 2 9.5 0.5 8 -0.5 7 -1.5 5 -2.5 4 -2 1 -2 -2 -2 -4.5 -1 -8.5 1 -11.5 2 -7.5z"/>
<path fill="#f90006" fill-rule="evenodd" d="M965 218l1 -2 2 0 2 4.5 1 5.5 1 8 -0.5 6 -1.5 5 -2 3 -2 0.5 -2 -2 -2 -4.5 -0.5 -6 0.5 -7.5 2 -7.5z"/>
<path fill="#fe0001" fill-rule="evenodd" d="M966 220l2 0 1.5 4 0.5 1 0.5 9 -0.5 8 -2 3.5 -2 1 -2 -2.5 -1.5 -8 1 -10z"/>
</g>
<path d="M851.5 48V580M1048.5 48V580" stroke="#fff" stroke-width="1" fill="none"/>
<g clip-path="url(#c1)">
<path d="M903.35 580.20V47.75" stroke="#006400" stroke-width="1.5" stroke-dasharray="6.0 6.0" stroke-linecap="round" fill="none"/>
<path d="M1027.65 580.20V47.75" stroke="#006400" stroke-width="1.5" stroke-dasharray="6.0 6.0" stroke-linecap="round" fill="none"/>
<path d="M699.70 392.19H1232.20" stroke="#CD2626" stroke-width="1.5" stroke-dasharray="6.0 6.0" stroke-linecap="round" fill="none"/>
</g>
<rect x="699.70" y="47.75" width="532.50" height="532.45" fill="none" stroke="#000" stroke-width="0.75"/>
<path d="M750.26 580.20H1180.74M750.26 580.20v6M857.88 580.20v6M965.50 580.20v6M1073.12 580.20v6M1180.74 580.20v6" fill="none" stroke="#000" stroke-width="0.75"/>
<text transform="translate(750.26 602.10) scale(0.93 1)" font-size="10.8" text-anchor="middle">-400</text>
<text transform="translate(857.88 602.10) scale(0.93 1)" font-size="10.8" text-anchor="middle">-200</text>
<text transform="translate(965.50 602.10) scale(0.93 1)" font-size="10.8" text-anchor="middle">0</text>
<text transform="translate(1073.12 602.10) scale(0.93 1)" font-size="10.8" text-anchor="middle">200</text>
<text transform="translate(1180.74 602.10) scale(0.93 1)" font-size="10.8" text-anchor="middle">400</text>
<path d="M699.70 48.00V517.35M699.70 517.35h-6M699.70 360.90h-6M699.70 204.45h-6M699.70 48.00h-6" fill="none" stroke="#000" stroke-width="0.75"/>
<text transform="translate(684.90 518.05) rotate(-90)" font-size="11" text-anchor="middle">85</text>
<text transform="translate(684.90 361.60) rotate(-90)" font-size="11" text-anchor="middle">90</text>
<text transform="translate(684.90 205.15) rotate(-90)" font-size="11" text-anchor="middle">95</text>
<text transform="translate(684.90 48.70) rotate(-90)" font-size="11" text-anchor="middle">100</text>
<text x="965.95" y="31.90" font-size="21.48" font-weight="bold" text-anchor="middle">Density heat map for the top hits</text>
<text x="965.95" y="626.00" font-size="15.9" text-anchor="middle">Distance to peak summit</text>
<text transform="translate(662.10 314.38) rotate(-90)" font-size="15.75" text-anchor="middle">Motif score</text>
<polygon points="79.5,1200.4 80.5,1200.4 81.5,1200.3 82.5,1200.3 83.5,1200.3 84.5,1200.3 85.5,1200.3 86.5,1200.3 87.5,1200.2 88.5,1200.2 89.5,1200.2 90.5,1200.2 91.5,1200.2 92.4,1200.2 93.4,1200.2 94.4,1200.2 95.4,1200.2 96.4,1200.2 97.4,1200.2 98.4,1200.2 99.4,1200.2 100.4,1200.2 101.4,1200.2 102.4,1200.2 103.4,1200.2 104.4,1200.2 105.4,1200.2 106.5,1200.2 107.5,1200.2 108.5,1200.2 109.5,1200.2 110.5,1200.2 111.5,1200.2 112.5,1200.2 113.5,1200.2 114.5,1200.2 115.5,1200.2 116.5,1200.2 117.5,1200.2 118.5,1200.2 119.5,1200.2 120.5,1200.2 121.5,1200.2 122.5,1200.2 123.5,1200.2 124.5,1200.2 125.5,1200.2 126.5,1200.2 127.5,1200.2 128.5,1200.1 129.5,1200.1 130.5,1200.1 131.5,1200.1 132.5,1200.1 133.5,1200.1 134.5,1200.0 135.5,1200.0 136.5,1200.0 137.5,1199.9 138.5,1199.9 139.5,1199.9 140.5,1199.8 141.5,1199.8 142.5,1199.8 143.5,1199.7 144.5,1199.7 145.5,1199.6 146.5,1199.6 147.5,1199.5 148.5,1199.4 149.5,1199.4 150.5,1199.3 151.5,1199.2 152.5,1199.2 153.5,1199.1 154.5,1199.0 155.5,1198.9 156.5,1198.8 157.5,1198.7 158.5,1198.6 159.4,1198.5 160.4,1198.4 161.4,1198.3 162.4,1198.2 163.4,1198.1 164.4,1198.0 165.4,1197.9 166.4,1197.7 167.4,1197.6 168.3,1197.4 169.3,1197.3 170.3,1197.2 171.3,1197.0 172.3,1196.8 173.3,1196.7 174.2,1196.5 175.2,1196.3 176.2,1196.2 177.2,1196.0 178.2,1195.8 179.1,1195.6 180.1,1195.4 181.1,1195.2 182.1,1195.0 183.0,1194.7 184.0,1194.5 185.0,1194.3 185.9,1194.0 186.9,1193.8 187.9,1193.5 188.9,1193.3 189.8,1193.0 190.8,1192.8 191.7,1192.5 192.7,1192.2 193.7,1191.9 194.6,1191.6 195.6,1191.3 196.6,1191.0 197.5,1190.7 198.5,1190.4 199.4,1190.1 200.4,1189.8 201.4,1189.5 202.3,1189.2 203.3,1188.9 204.3,1188.6 205.2,1188.3 206.2,1188.0 207.2,1187.7 208.1,1187.4 209.1,1187.1 210.1,1186.8 211.0,1186.5 212.0,1186.2 212.9,1185.9 213.9,1185.6 214.8,1185.2 215.7,1184.9 216.7,1184.5 217.6,1184.1 218.4,1183.7 219.3,1183.3 220.2,1182.8 221.0,1182.3 221.8,1181.8 222.6,1181.2 223.4,1180.6 224.1,1180.0 224.8,1179.3 225.5,1178.6 226.2,1177.9 226.8,1177.1 227.5,1176.3 228.1,1175.5 228.7,1174.7 229.3,1173.9 229.9,1173.1 230.4,1172.2 231.0,1171.3 231.5,1170.5 232.0,1169.6 232.5,1168.7 233.1,1167.9 233.6,1167.0 234.2,1166.1 234.7,1165.3 235.3,1164.4 235.9,1163.6 236.5,1162.8 237.1,1162.0 237.8,1161.2 238.5,1160.5 239.2,1159.8 239.9,1159.0 240.6,1158.3 241.4,1157.6 242.1,1156.9 242.9,1156.2 243.6,1155.6 244.4,1154.9 245.1,1154.1 245.8,1153.4 246.5,1152.7 247.1,1152.0 247.8,1151.2 248.4,1150.4 249.0,1149.7 249.6,1148.9 250.2,1148.1 250.8,1147.3 251.4,1146.5 251.9,1145.7 252.4,1144.8 252.9,1144.0 253.4,1143.1 253.9,1142.3 254.4,1141.4 254.8,1140.5 255.3,1139.7 255.7,1138.8 256.1,1137.9 256.5,1137.0 256.9,1136.1 257.3,1135.2 257.7,1134.2 258.0,1133.3 258.4,1132.4 258.7,1131.5 259.1,1130.5 259.4,1129.6 259.7,1128.6 260.1,1127.7 260.4,1126.7 260.7,1125.8 261.0,1124.8 261.3,1123.8 261.6,1122.9 261.8,1121.9 262.1,1120.9 262.4,1120.0 262.7,1119.0 262.9,1118.0 263.2,1117.0 263.5,1116.1 263.7,1115.1 264.0,1114.1 264.3,1113.1 264.5,1112.2 264.8,1111.2 265.0,1110.2 265.3,1109.2 265.6,1108.3 265.8,1107.3 266.1,1106.3 266.4,1105.3 266.6,1104.4 266.9,1103.4 267.2,1102.4 267.4,1101.5 267.7,1100.5 268.0,1099.5 268.2,1098.6 268.5,1097.6 268.8,1096.7 269.0,1095.7 269.3,1094.7 269.6,1093.8 269.9,1092.8 270.1,1091.9 270.4,1090.9 270.7,1089.9 270.9,1089.0 271.2,1088.0 271.5,1087.1 271.8,1086.1 272.0,1085.2 272.3,1084.2 272.6,1083.3 272.9,1082.3 273.1,1081.3 273.4,1080.4 273.7,1079.4 274.0,1078.5 274.3,1077.5 274.5,1076.6 274.8,1075.6 275.1,1074.7 275.4,1073.7 275.7,1072.8 275.9,1071.8 276.2,1070.8 276.5,1069.9 276.8,1068.9 277.0,1068.0 277.3,1067.0 277.6,1066.1 277.9,1065.1 278.2,1064.1 278.4,1063.2 278.7,1062.2 279.0,1061.3 279.3,1060.3 279.6,1059.3 279.8,1058.4 280.1,1057.4 280.4,1056.4 280.7,1055.5 281.0,1054.5 281.2,1053.6 281.5,1052.6 281.8,1051.6 282.1,1050.7 282.4,1049.7 282.7,1048.7 283.0,1047.8 283.3,1046.8 283.6,1045.9 283.9,1044.9 284.3,1044.0 284.6,1043.0 285.0,1042.1 285.3,1041.2 285.7,1040.2 286.1,1039.3 286.5,1038.4 286.9,1037.5 287.3,1036.6 287.7,1035.7 288.1,1034.8 288.6,1033.9 289.1,1033.0 289.6,1032.1 290.1,1031.2 290.6,1030.4 291.1,1029.5 291.6,1028.7 292.2,1027.8 292.8,1027.0 293.3,1026.2 293.9,1025.3 294.4,1024.5 295.0,1023.6 295.6,1022.8 296.1,1022.0 296.6,1021.1 297.2,1020.3 297.7,1019.4 298.2,1018.5 298.7,1017.7 299.2,1016.8 299.6,1015.9 300.1,1015.0 300.5,1014.1 301.0,1013.2 301.4,1012.4 301.8,1011.5 302.2,1010.5 302.6,1009.6 303.0,1008.7 303.4,1007.8 303.8,1006.9 304.1,1006.0 304.5,1005.0 304.8,1004.1 305.1,1003.2 305.5,1002.2 305.8,1001.3 306.1,1000.4 306.4,999.4 306.7,998.5 307.0,997.5 307.3,996.6 307.5,995.6 307.8,994.6 308.0,993.7 308.3,992.7 308.5,991.8 308.8,990.8 309.0,989.8 309.3,988.8 309.5,987.9 309.7,986.9 309.9,985.9 310.1,984.9 310.3,984.0 310.5,983.0 310.7,982.0 310.9,981.0 311.1,980.0 311.3,979.1 311.5,978.1 311.7,977.1 311.9,976.1 312.1,975.1 312.3,974.1 312.5,973.2 312.7,972.2 312.8,971.2 313.0,970.2 313.2,969.2 313.4,968.2 313.6,967.2 313.7,966.2 313.9,965.2 314.1,964.3 314.3,963.3 314.4,962.3 314.6,961.3 314.8,960.3 315.0,959.3 315.1,958.3 315.3,957.3 315.5,956.3 315.7,955.3 315.8,954.4 316.0,953.4 316.2,952.4 316.4,951.4 316.5,950.4 316.7,949.4 316.9,948.4 317.1,947.4 317.2,946.4 317.4,945.4 317.6,944.5 317.8,943.5 317.9,942.5 318.1,941.5 318.3,940.5 318.5,939.5 318.7,938.5 318.8,937.5 319.0,936.6 319.2,935.6 319.4,934.6 319.6,933.6 319.8,932.6 320.0,931.6 320.2,930.6 320.4,929.7 320.6,928.7 320.7,927.7 320.9,926.7 321.1,925.7 321.4,924.8 321.6,923.8 321.8,922.8 322.0,921.8 322.2,920.9 322.4,919.9 322.6,918.9 322.8,917.9 323.1,917.0 323.3,916.0 323.5,915.0 323.7,914.0 324.0,913.1 324.2,912.1 324.4,911.1 324.7,910.2 324.9,909.2 325.2,908.3 325.4,907.3 325.7,906.3 325.9,905.4 326.2,904.4 326.4,903.5 326.7,902.5 327.0,901.6 327.2,900.6 327.5,899.6 327.8,898.7 328.1,897.7 328.3,896.8 328.6,895.9 328.9,894.9 329.2,894.0 329.5,893.0 329.8,892.1 330.1,891.1 330.4,890.2 330.7,889.2 331.1,888.3 331.4,887.3 331.7,886.4 332.0,885.5 332.3,884.5 332.7,883.6 333.0,882.6 333.3,881.7 333.7,880.8 334.0,879.8 334.3,878.9 334.7,877.9 335.0,877.0 335.4,876.1 335.7,875.1 336.1,874.2 336.5,873.2 336.8,872.3 337.2,871.3 337.5,870.4 337.9,869.5 338.3,868.5 338.6,867.6 339.0,866.6 339.3,865.7 339.7,864.7 340.0,863.8 340.4,862.8 340.7,861.9 341.0,860.9 341.4,860.0 341.7,859.0 342.0,858.1 342.3,857.1 342.6,856.2 342.9,855.2 343.2,854.2 343.5,853.3 343.8,852.3 344.1,851.4 344.4,850.4 344.7,849.4 344.9,848.5 345.2,847.5 345.5,846.5 345.7,845.6 346.0,844.6 346.2,843.6 346.5,842.7 346.7,841.7 347.0,840.7 347.2,839.8 347.5,838.8 347.7,837.8 347.9,836.9 348.1,835.9 348.4,834.9 348.6,833.9 348.8,833.0 349.0,832.0 349.2,831.0 349.4,830.0 349.6,829.1 349.8,828.1 350.0,827.1 350.2,826.1 350.4,825.1 350.6,824.2 350.8,823.2 351.0,822.2 351.2,821.2 351.4,820.2 351.5,819.3 351.7,818.3 351.9,817.3 352.1,816.3 352.2,815.3 352.4,814.3 352.6,813.4 352.7,812.4 352.9,811.4 353.1,810.4 353.2,809.4 353.4,808.4 353.6,807.4 353.7,806.5 353.9,805.5 354.0,804.5 354.2,803.5 354.3,802.5 354.5,801.5 354.6,800.5 354.8,799.6 354.9,798.6 355.1,797.6 355.2,796.6 355.4,795.6 355.5,794.6 355.7,793.6 355.8,792.6 356.0,791.6 356.1,790.7 356.3,789.7 356.4,788.7 356.6,787.7 356.7,786.7 356.9,785.7 357.0,784.7 357.2,783.7 357.3,782.8 357.5,781.8 357.6,780.8 357.8,779.8 357.9,778.8 358.1,777.8 358.2,776.8 358.4,775.8 358.5,774.9 358.7,773.9 358.8,772.9 359.0,771.9 359.2,770.9 359.3,769.9 359.5,768.9 359.6,767.9 359.8,767.0 360.0,766.0 360.1,765.0 360.3,764.0 360.5,763.0 360.7,762.0 360.8,761.1 361.0,760.1 361.2,759.1 361.4,758.1 361.6,757.1 361.7,756.1 361.9,755.2 362.1,754.2 362.3,753.2 362.5,752.2 362.7,751.2 362.9,750.3 363.1,749.3 363.4,748.3 363.6,747.3 363.8,746.4 364.0,745.4 364.2,744.4 364.5,743.4 364.7,742.5 364.9,741.5 365.2,740.5 365.4,739.6 365.7,738.6 366.0,737.6 366.2,736.7 366.5,735.7 366.8,734.7 367.0,733.8 367.3,732.8 367.6,731.9 367.9,730.9 368.2,729.9 368.5,729.0 368.8,728.0 369.1,727.1 369.5,726.1 369.8,725.2 370.1,724.2 370.5,723.3 370.8,722.3 371.2,721.4 371.5,720.4 371.9,719.5 372.3,718.5 372.7,717.6 373.1,716.7 373.5,715.7 373.9,714.8 374.3,713.9 374.8,713.0 375.3,712.1 375.8,711.3 376.4,710.4 377.0,709.6 377.6,708.8 378.3,708.1 379.0,707.5 379.7,707.3 380.5,707.4 381.3,707.8 382.1,708.3 382.8,709.0 383.6,709.8 384.2,710.7 384.8,711.5 385.3,712.4 385.8,713.3 386.2,714.2 386.6,715.1 387.0,716.0 387.3,717.0 387.6,717.9 387.9,718.9 388.1,719.9 388.4,720.8 388.6,721.8 388.8,722.8 389.0,723.8 389.3,724.8 389.5,725.7 389.8,726.7 390.1,727.7 390.4,728.6 390.7,729.6 391.0,730.5 391.3,731.5 391.6,732.4 392.0,733.3 392.4,734.2 392.7,735.2 393.1,736.1 393.5,737.0 393.9,737.9 394.4,738.8 394.8,739.7 395.2,740.6 395.7,741.5 396.1,742.4 396.6,743.3 397.1,744.2 397.6,745.1 398.0,745.9 398.5,746.8 399.0,747.7 399.5,748.6 400.1,749.4 400.6,750.3 401.1,751.2 401.6,752.1 402.1,752.9 402.7,753.8 403.2,754.6 403.7,755.5 404.2,756.4 404.8,757.2 405.3,758.1 405.8,759.0 406.3,759.8 406.8,760.7 407.3,761.6 407.8,762.4 408.3,763.3 408.8,764.1 409.3,765.0 409.7,765.9 410.2,766.7 410.7,767.6 411.1,768.5 411.6,769.4 412.0,770.2 412.5,771.1 412.9,772.0 413.4,772.8 413.8,773.7 414.2,774.6 414.7,775.5 415.1,776.3 415.5,777.2 416.0,778.1 416.4,779.0 416.9,779.9 417.3,780.7 417.7,781.6 418.2,782.5 418.6,783.4 419.1,784.3 419.5,785.2 420.0,786.1 420.4,787.0 420.9,787.9 421.4,788.8 421.8,789.6 422.3,790.5 422.8,791.4 423.3,792.3 423.7,793.2 424.2,794.1 424.7,795.1 425.1,796.0 425.6,796.9 426.1,797.8 426.5,798.7 427.0,799.6 427.4,800.5 427.9,801.4 428.3,802.3 428.7,803.3 429.2,804.2 429.6,805.1 430.0,806.0 430.4,807.0 430.8,807.9 431.1,808.8 431.5,809.7 431.8,810.7 432.2,811.6 432.5,812.6 432.8,813.5 433.2,814.4 433.5,815.4 433.8,816.3 434.0,817.3 434.3,818.2 434.6,819.2 434.9,820.1 435.1,821.1 435.4,822.0 435.7,823.0 435.9,823.9 436.1,824.9 436.4,825.8 436.6,826.8 436.8,827.8 437.0,828.7 437.3,829.7 437.5,830.7 437.7,831.6 437.9,832.6 438.1,833.6 438.3,834.5 438.5,835.5 438.7,836.5 438.9,837.5 439.1,838.4 439.3,839.4 439.5,840.4 439.7,841.4 439.9,842.3 440.0,843.3 440.2,844.3 440.4,845.3 440.6,846.3 440.8,847.3 441.0,848.3 441.2,849.2 441.4,850.2 441.6,851.2 441.8,852.2 442.0,853.2 442.2,854.2 442.4,855.2 442.7,856.2 442.9,857.2 443.1,858.2 443.3,859.2 443.6,860.2 443.8,861.2 444.0,862.2 444.3,863.2 444.6,864.2 444.8,865.2 445.1,866.1 445.4,867.1 445.8,868.1 446.1,869.0 446.5,869.9 446.9,870.8 447.3,871.7 447.8,872.6 448.2,873.4 448.8,874.2 449.3,875.0 449.9,875.7 450.5,876.4 451.2,877.1 451.9,877.6 452.7,878.0 453.5,878.1 454.3,877.9 455.1,877.5 455.8,876.8 456.6,875.9 457.3,875.0 457.9,874.1 458.6,873.2 459.2,872.2 459.9,871.4 460.5,870.5 461.2,869.7 462.0,869.0 462.8,868.4 463.6,867.9 464.4,867.5 465.3,867.3 466.2,867.4 467.1,867.7 467.9,868.2 468.7,868.8 469.4,869.5 470.1,870.2 470.6,871.0 471.2,871.8 471.6,872.6 472.1,873.5 472.5,874.4 472.8,875.3 473.2,876.3 473.5,877.2 473.8,878.2 474.0,879.2 474.3,880.2 474.6,881.1 474.8,882.1 475.1,883.1 475.4,884.1 475.6,885.1 475.8,886.1 476.1,887.0 476.3,888.0 476.6,889.0 476.8,890.0 477.0,891.0 477.3,892.0 477.5,892.9 477.7,893.9 477.9,894.9 478.1,895.9 478.4,896.9 478.6,897.9 478.8,898.8 479.0,899.8 479.2,900.8 479.4,901.8 479.6,902.8 479.8,903.8 480.0,904.8 480.1,905.7 480.3,906.7 480.5,907.7 480.7,908.7 480.9,909.7 481.1,910.7 481.2,911.6 481.4,912.6 481.6,913.6 481.7,914.6 481.9,915.6 482.1,916.6 482.2,917.6 482.4,918.5 482.5,919.5 482.7,920.5 482.8,921.5 483.0,922.5 483.1,923.5 483.3,924.4 483.4,925.4 483.6,926.4 483.7,927.4 483.9,928.4 484.0,929.4 484.1,930.4 484.3,931.4 484.4,932.3 484.6,933.3 484.7,934.3 484.8,935.3 484.9,936.3 485.1,937.3 485.2,938.3 485.3,939.2 485.5,940.2 485.6,941.2 485.7,942.2 485.8,943.2 486.0,944.2 486.1,945.2 486.2,946.2 486.3,947.1 486.4,948.1 486.6,949.1 486.7,950.1 486.8,951.1 486.9,952.1 487.0,953.1 487.1,954.1 487.3,955.1 487.4,956.0 487.5,957.0 487.6,958.0 487.7,959.0 487.8,960.0 487.9,961.0 488.0,962.0 488.1,963.0 488.3,964.0 488.4,965.0 488.5,965.9 488.6,966.9 488.7,967.9 488.8,968.9 488.9,969.9 489.0,970.9 489.1,971.9 489.2,972.9 489.3,973.9 489.4,974.9 489.5,975.9 489.6,976.8 489.7,977.8 489.8,978.8 489.9,979.8 490.0,980.8 490.1,981.8 490.2,982.8 490.4,983.8 490.5,984.8 490.6,985.8 490.7,986.8 490.8,987.8 490.9,988.8 491.0,989.8 491.1,990.8 491.2,991.7 491.3,992.7 491.4,993.7 491.5,994.7 491.6,995.7 491.7,996.7 491.8,997.7 491.9,998.7 492.0,999.7 492.1,1000.7 492.2,1001.7 492.3,1002.7 492.4,1003.7 492.5,1004.7 492.7,1005.7 492.8,1006.7 492.9,1007.7 493.0,1008.7 493.1,1009.7 493.2,1010.7 493.3,1011.7 493.4,1012.7 493.5,1013.7 493.6,1014.7 493.8,1015.7 493.9,1016.7 494.0,1017.7 494.1,1018.7 494.2,1019.7 494.3,1020.7 494.4,1021.7 494.6,1022.7 494.7,1023.7 494.8,1024.7 494.9,1025.7 495.0,1026.7 495.1,1027.7 495.3,1028.7 495.4,1029.7 495.5,1030.7 495.6,1031.7 495.8,1032.7 495.9,1033.7 496.0,1034.7 496.1,1035.7 496.2,1036.7 496.4,1037.7 496.5,1038.7 496.6,1039.7 496.7,1040.7 496.9,1041.7 497.0,1042.7 497.1,1043.7 497.3,1044.7 497.4,1045.7 497.5,1046.7 497.6,1047.7 497.8,1048.7 497.9,1049.7 498.0,1050.7 498.2,1051.7 498.3,1052.7 498.4,1053.7 498.5,1054.7 498.7,1055.7 498.8,1056.6 498.9,1057.6 499.1,1058.6 499.2,1059.6 499.3,1060.6 499.4,1061.6 499.6,1062.6 499.7,1063.6 499.8,1064.6 500.0,1065.6 500.1,1066.6 500.2,1067.6 500.4,1068.6 500.5,1069.6 500.6,1070.6 500.7,1071.6 500.9,1072.6 501.0,1073.5 501.1,1074.5 501.3,1075.5 501.4,1076.5 501.5,1077.5 501.7,1078.5 501.8,1079.5 501.9,1080.5 502.0,1081.5 502.2,1082.4 502.3,1083.4 502.4,1084.4 502.6,1085.4 502.7,1086.4 502.8,1087.4 502.9,1088.3 503.1,1089.3 503.2,1090.3 503.3,1091.3 503.5,1092.3 503.6,1093.2 503.7,1094.2 503.9,1095.2 504.0,1096.2 504.2,1097.1 504.3,1098.1 504.5,1099.1 504.6,1100.1 504.8,1101.0 504.9,1102.0 505.1,1103.0 505.3,1103.9 505.4,1104.9 505.6,1105.9 505.8,1106.9 506.0,1107.8 506.2,1108.8 506.4,1109.7 506.6,1110.7 506.8,1111.7 507.0,1112.6 507.3,1113.6 507.5,1114.6 507.8,1115.5 508.0,1116.5 508.3,1117.4 508.5,1118.4 508.8,1119.3 509.1,1120.3 509.4,1121.2 509.7,1122.2 510.0,1123.1 510.3,1124.1 510.7,1125.0 511.0,1126.0 511.4,1126.9 511.8,1127.9 512.1,1128.8 512.5,1129.8 512.9,1130.7 513.3,1131.6 513.8,1132.6 514.2,1133.5 514.6,1134.4 515.1,1135.3 515.5,1136.3 516.0,1137.2 516.5,1138.1 516.9,1139.0 517.4,1139.9 517.9,1140.8 518.4,1141.7 518.9,1142.6 519.4,1143.5 519.9,1144.3 520.4,1145.2 521.0,1146.1 521.5,1146.9 522.0,1147.8 522.6,1148.6 523.1,1149.4 523.6,1150.2 524.2,1151.1 524.7,1151.9 525.3,1152.7 525.8,1153.5 526.4,1154.3 527.0,1155.1 527.5,1155.9 528.1,1156.7 528.6,1157.5 529.2,1158.3 529.7,1159.1 530.3,1160.0 530.8,1160.8 531.4,1161.6 532.0,1162.4 532.5,1163.2 533.1,1164.1 533.6,1164.9 534.2,1165.7 534.7,1166.5 535.3,1167.4 535.9,1168.2 536.4,1169.0 537.0,1169.8 537.6,1170.7 538.1,1171.5 538.7,1172.3 539.3,1173.2 539.8,1174.0 540.4,1174.8 541.0,1175.6 541.6,1176.4 542.2,1177.3 542.8,1178.1 543.3,1178.9 543.9,1179.7 544.5,1180.5 545.1,1181.3 545.7,1182.2 546.4,1183.0 547.0,1183.8 547.6,1184.6 548.2,1185.4 548.8,1186.1 549.5,1186.9 550.1,1187.7 550.7,1188.5 551.4,1189.3 552.0,1190.0 552.7,1190.8 553.3,1191.6 554.0,1192.3 554.7,1193.0 555.4,1193.7 556.1,1194.4 556.8,1195.1 557.6,1195.7 558.3,1196.3 559.1,1196.9 559.9,1197.4 560.7,1197.9 561.5,1198.4 562.4,1198.8 563.3,1199.2 564.2,1199.5 565.1,1199.8 566.1,1200.1 567.1,1200.3 568.1,1200.4 569.2,1200.4 570.3,1200.4 571.4,1200.4 572.5,1200.4 572.5,1200.4" fill="#F5DEB3" stroke="#000" stroke-width="1.1" stroke-linejoin="round"/>
<g clip-path="url(#c2)">
<path d="M261.42 1220.20V687.75" stroke="#CD2626" stroke-width="1.5" stroke-dasharray="6.0 6.0" stroke-linecap="round" fill="none"/>
</g>
<rect x="59.70" y="687.75" width="532.50" height="532.45" fill="none" stroke="#000" stroke-width="0.75"/>
<path d="M158.30 1220.20H545.75M158.30 1220.20v6M287.45 1220.20v6M416.60 1220.20v6M545.75 1220.20v6" fill="none" stroke="#000" stroke-width="0.75"/>
<text transform="translate(158.30 1242.10) scale(0.93 1)" font-size="10.8" text-anchor="middle">85</text>
<text transform="translate(287.45 1242.10) scale(0.93 1)" font-size="10.8" text-anchor="middle">90</text>
<text transform="translate(416.60 1242.10) scale(0.93 1)" font-size="10.8" text-anchor="middle">95</text>
<text transform="translate(545.75 1242.10) scale(0.93 1)" font-size="10.8" text-anchor="middle">100</text>
<path d="M59.70 730.60V1200.40M59.70 1200.40h-6M59.70 1043.80h-6M59.70 887.20h-6M59.70 730.60h-6" fill="none" stroke="#000" stroke-width="0.75"/>
<text transform="translate(44.90 1201.10) rotate(-90)" font-size="11" text-anchor="middle">0.00</text>
<text transform="translate(44.90 1044.50) rotate(-90)" font-size="11" text-anchor="middle">0.05</text>
<text transform="translate(44.90 887.90) rotate(-90)" font-size="11" text-anchor="middle">0.10</text>
<text transform="translate(44.90 731.30) rotate(-90)" font-size="11" text-anchor="middle">0.15</text>
<text x="325.95" y="671.90" font-size="21.65" font-weight="bold" text-anchor="middle">Motif score threshold: 89.000</text>
<text x="325.95" y="1266.00" font-size="15.7" text-anchor="middle">Motif score</text>
<text transform="translate(22.10 954.38) rotate(-90)" font-size="15.75" text-anchor="middle">Density</text>
<polygon points="719.2,1200.4 719.8,1200.4 720.4,1200.4 720.9,1200.4 721.5,1200.4 722.0,1200.4 722.6,1200.3 723.1,1200.2 723.6,1200.0 724.0,1199.9 724.5,1199.7 724.9,1199.5 725.4,1199.3 725.8,1199.1 726.2,1198.9 726.6,1198.6 727.0,1198.4 727.3,1198.1 727.7,1197.8 728.0,1197.5 728.4,1197.2 728.7,1196.8 729.0,1196.5 729.3,1196.1 729.7,1195.8 729.9,1195.4 730.2,1195.0 730.5,1194.6 730.8,1194.2 731.1,1193.8 731.3,1193.4 731.6,1193.0 731.9,1192.5 732.1,1192.1 732.4,1191.7 732.6,1191.2 732.9,1190.8 733.1,1190.3 733.4,1189.9 733.6,1189.4 733.9,1189.0 734.1,1188.5 734.4,1188.1 734.6,1187.6 734.9,1187.2 735.1,1186.7 735.4,1186.2 735.6,1185.8 735.9,1185.4 736.2,1184.9 736.4,1184.5 736.7,1184.0 737.0,1183.6 737.3,1183.2 737.6,1182.8 737.9,1182.4 738.2,1181.9 738.5,1181.6 738.9,1181.2 739.2,1180.8 739.6,1180.4 739.9,1180.1 740.3,1179.7 740.7,1179.4 741.1,1179.1 741.5,1178.8 741.9,1178.5 742.3,1178.2 742.7,1178.0 743.2,1177.8 743.6,1177.7 744.1,1177.5 744.5,1177.5 745.0,1177.4 745.4,1177.4 745.9,1177.4 746.4,1177.4 746.9,1177.5 747.4,1177.5 747.9,1177.5 748.4,1177.5 748.9,1177.5 749.4,1177.5 749.9,1177.5 750.4,1177.4 750.9,1177.3 751.4,1177.2 751.9,1177.1 752.4,1176.9 752.9,1176.7 753.3,1176.5 753.8,1176.3 754.3,1176.1 754.8,1175.9 755.2,1175.6 755.7,1175.4 756.2,1175.2 756.6,1174.9 757.0,1174.7 757.5,1174.5 757.9,1174.2 758.4,1174.0 758.8,1173.8 759.2,1173.6 759.7,1173.3 760.1,1173.1 760.5,1172.9 761.0,1172.7 761.4,1172.5 761.9,1172.3 762.3,1172.1 762.8,1172.0 763.2,1171.8 763.7,1171.6 764.2,1171.5 764.7,1171.3 765.2,1171.2 765.6,1171.1 766.1,1170.9 766.6,1170.8 767.1,1170.7 767.6,1170.6 768.1,1170.5 768.6,1170.4 769.1,1170.3 769.6,1170.2 770.1,1170.1 770.6,1170.0 771.1,1169.9 771.6,1169.8 772.1,1169.7 772.6,1169.6 773.1,1169.5 773.6,1169.5 774.1,1169.4 774.6,1169.3 775.1,1169.3 775.6,1169.2 776.0,1169.2 776.5,1169.2 777.0,1169.2 777.5,1169.2 778.0,1169.2 778.4,1169.2 778.9,1169.3 779.4,1169.4 779.9,1169.4 780.3,1169.5 780.8,1169.6 781.3,1169.8 781.7,1169.9 782.2,1170.1 782.7,1170.3 783.1,1170.5 783.6,1170.7 784.0,1171.0 784.5,1171.2 785.0,1171.5 785.4,1171.7 785.9,1172.0 786.3,1172.2 786.8,1172.5 787.3,1172.7 787.7,1172.9 788.2,1173.1 788.6,1173.3 789.1,1173.5 789.6,1173.6 790.0,1173.7 790.5,1173.8 790.9,1173.9 791.4,1173.9 791.9,1173.9 792.4,1173.8 792.8,1173.7 793.3,1173.6 793.8,1173.4 794.3,1173.3 794.7,1173.1 795.2,1172.9 795.7,1172.7 796.2,1172.5 796.7,1172.4 797.2,1172.2 797.6,1172.0 798.1,1171.9 798.6,1171.8 799.1,1171.7 799.6,1171.6 800.1,1171.6 800.6,1171.6 801.1,1171.6 801.6,1171.7 802.1,1171.7 802.6,1171.9 803.1,1172.0 803.6,1172.1 804.0,1172.3 804.5,1172.5 805.0,1172.7 805.5,1172.9 806.0,1173.0 806.5,1173.2 807.0,1173.4 807.5,1173.6 808.0,1173.8 808.5,1173.9 809.0,1174.1 809.5,1174.2 810.0,1174.3 810.5,1174.4 811.0,1174.4 811.5,1174.5 812.0,1174.4 812.5,1174.4 813.0,1174.3 813.5,1174.3 814.0,1174.2 814.4,1174.0 814.9,1173.9 815.4,1173.8 815.9,1173.7 816.4,1173.5 816.9,1173.4 817.4,1173.3 817.9,1173.2 818.4,1173.1 818.8,1173.1 819.3,1173.0 819.8,1173.0 820.3,1173.0 820.8,1173.1 821.3,1173.2 821.8,1173.3 822.2,1173.4 822.7,1173.6 823.2,1173.7 823.7,1173.9 824.2,1174.1 824.7,1174.3 825.2,1174.4 825.6,1174.6 826.1,1174.7 826.6,1174.8 827.1,1175.0 827.6,1175.1 828.1,1175.1 828.5,1175.2 829.0,1175.3 829.5,1175.3 830.0,1175.4 830.5,1175.4 831.0,1175.4 831.4,1175.4 831.9,1175.4 832.4,1175.3 832.9,1175.3 833.4,1175.2 833.9,1175.1 834.4,1175.1 834.8,1174.9 835.3,1174.8 835.8,1174.7 836.3,1174.6 836.8,1174.4 837.3,1174.2 837.7,1174.1 838.2,1173.9 838.7,1173.7 839.2,1173.6 839.7,1173.4 840.2,1173.2 840.7,1173.1 841.2,1172.9 841.6,1172.7 842.1,1172.6 842.6,1172.5 843.1,1172.4 843.6,1172.3 844.1,1172.2 844.6,1172.1 845.1,1172.1 845.6,1172.1 846.1,1172.1 846.5,1172.1 847.0,1172.1 847.5,1172.2 848.0,1172.2 848.5,1172.3 849.0,1172.4 849.5,1172.5 850.0,1172.6 850.5,1172.7 851.0,1172.8 851.5,1172.9 852.0,1173.1 852.4,1173.2 852.9,1173.3 853.4,1173.4 853.9,1173.5 854.4,1173.7 854.9,1173.8 855.4,1173.9 855.9,1173.9 856.4,1174.0 856.9,1174.1 857.4,1174.1 857.9,1174.1 858.4,1174.2 858.9,1174.1 859.4,1174.1 859.9,1174.1 860.4,1174.0 860.9,1173.9 861.4,1173.8 861.9,1173.7 862.3,1173.5 862.8,1173.3 863.3,1173.1 863.8,1172.9 864.2,1172.7 864.7,1172.5 865.1,1172.2 865.5,1172.0 866.0,1171.7 866.4,1171.4 866.8,1171.1 867.1,1170.8 867.5,1170.5 867.9,1170.1 868.2,1169.8 868.5,1169.4 868.9,1169.1 869.2,1168.7 869.5,1168.3 869.8,1167.9 870.1,1167.5 870.4,1167.2 870.7,1166.8 871.0,1166.4 871.3,1166.0 871.6,1165.6 871.9,1165.1 872.1,1164.7 872.4,1164.3 872.7,1163.9 873.0,1163.5 873.3,1163.1 873.6,1162.7 874.0,1162.3 874.3,1162.0 874.6,1161.6 874.9,1161.2 875.3,1160.8 875.7,1160.5 876.0,1160.1 876.4,1159.8 876.8,1159.4 877.2,1159.1 877.6,1158.8 878.1,1158.5 878.5,1158.2 878.9,1158.0 879.4,1157.7 879.8,1157.5 880.3,1157.3 880.8,1157.1 881.3,1156.9 881.7,1156.7 882.2,1156.6 882.7,1156.5 883.2,1156.4 883.7,1156.3 884.2,1156.2 884.7,1156.2 885.2,1156.2 885.7,1156.2 886.2,1156.2 886.6,1156.2 887.1,1156.2 887.6,1156.2 888.1,1156.3 888.6,1156.3 889.1,1156.3 889.5,1156.4 890.0,1156.4 890.5,1156.4 890.9,1156.4 891.4,1156.4 891.8,1156.3 892.3,1156.2 892.7,1156.1 893.2,1155.9 893.6,1155.7 894.0,1155.4 894.5,1155.1 894.9,1154.7 895.4,1154.3 895.8,1153.9 896.2,1153.5 896.6,1153.2 897.1,1152.8 897.5,1152.5 897.9,1152.2 898.3,1151.9 898.8,1151.6 899.2,1151.4 899.6,1151.1 900.0,1150.9 900.4,1150.7 900.8,1150.5 901.2,1150.3 901.7,1150.1 902.1,1149.9 902.5,1149.6 902.9,1149.4 903.3,1149.2 903.7,1148.9 904.1,1148.7 904.5,1148.4 904.9,1148.1 905.3,1147.8 905.7,1147.5 906.1,1147.2 906.4,1146.8 906.8,1146.5 907.2,1146.1 907.5,1145.7 907.9,1145.4 908.2,1145.0 908.6,1144.6 908.9,1144.2 909.2,1143.8 909.5,1143.4 909.8,1143.0 910.1,1142.5 910.3,1142.1 910.6,1141.7 910.8,1141.2 911.1,1140.8 911.3,1140.3 911.5,1139.9 911.7,1139.4 911.8,1139.0 912.0,1138.5 912.2,1138.1 912.3,1137.6 912.5,1137.1 912.6,1136.7 912.8,1136.2 912.9,1135.7 913.0,1135.3 913.1,1134.8 913.3,1134.3 913.4,1133.8 913.5,1133.3 913.6,1132.9 913.7,1132.4 913.9,1131.9 914.0,1131.4 914.1,1130.9 914.2,1130.5 914.3,1130.0 914.5,1129.5 914.6,1129.0 914.7,1128.5 914.9,1128.1 915.0,1127.6 915.2,1127.1 915.3,1126.6 915.4,1126.1 915.6,1125.7 915.7,1125.2 915.9,1124.7 916.0,1124.2 916.2,1123.7 916.3,1123.3 916.5,1122.8 916.6,1122.3 916.8,1121.8 916.9,1121.3 917.1,1120.9 917.3,1120.4 917.4,1119.9 917.6,1119.4 917.7,1119.0 917.9,1118.5 918.1,1118.0 918.2,1117.5 918.4,1117.0 918.6,1116.6 918.7,1116.1 918.9,1115.6 919.0,1115.1 919.2,1114.6 919.4,1114.2 919.5,1113.7 919.7,1113.2 919.9,1112.7 920.0,1112.2 920.2,1111.8 920.4,1111.3 920.5,1110.8 920.7,1110.3 920.9,1109.9 921.0,1109.4 921.2,1108.9 921.4,1108.4 921.5,1107.9 921.7,1107.5 921.8,1107.0 922.0,1106.5 922.1,1106.0 922.3,1105.5 922.5,1105.1 922.6,1104.6 922.8,1104.1 922.9,1103.6 923.1,1103.1 923.2,1102.7 923.4,1102.2 923.5,1101.7 923.7,1101.2 923.8,1100.7 924.0,1100.3 924.1,1099.8 924.3,1099.3 924.4,1098.8 924.5,1098.4 924.7,1097.9 924.8,1097.4 925.0,1096.9 925.1,1096.4 925.2,1096.0 925.4,1095.5 925.5,1095.0 925.6,1094.5 925.8,1094.0 925.9,1093.5 926.0,1093.1 926.2,1092.6 926.3,1092.1 926.4,1091.6 926.6,1091.1 926.7,1090.7 926.8,1090.2 927.0,1089.7 927.1,1089.2 927.2,1088.7 927.3,1088.3 927.5,1087.8 927.6,1087.3 927.7,1086.8 927.8,1086.3 928.0,1085.9 928.1,1085.4 928.2,1084.9 928.3,1084.4 928.5,1083.9 928.6,1083.4 928.7,1083.0 928.8,1082.5 928.9,1082.0 929.1,1081.5 929.2,1081.0 929.3,1080.5 929.4,1080.1 929.5,1079.6 929.6,1079.1 929.8,1078.6 929.9,1078.1 930.0,1077.6 930.1,1077.2 930.2,1076.7 930.3,1076.2 930.4,1075.7 930.6,1075.2 930.7,1074.7 930.8,1074.2 930.9,1073.8 931.0,1073.3 931.1,1072.8 931.2,1072.3 931.3,1071.8 931.4,1071.3 931.5,1070.8 931.7,1070.4 931.8,1069.9 931.9,1069.4 932.0,1068.9 932.1,1068.4 932.2,1067.9 932.3,1067.4 932.4,1067.0 932.5,1066.5 932.6,1066.0 932.7,1065.5 932.8,1065.0 932.9,1064.5 933.0,1064.0 933.1,1063.5 933.2,1063.1 933.3,1062.6 933.4,1062.1 933.5,1061.6 933.6,1061.1 933.7,1060.6 933.8,1060.1 933.9,1059.6 934.0,1059.2 934.1,1058.7 934.2,1058.2 934.3,1057.7 934.4,1057.2 934.5,1056.7 934.6,1056.2 934.7,1055.7 934.8,1055.2 934.9,1054.8 935.0,1054.3 935.1,1053.8 935.2,1053.3 935.3,1052.8 935.4,1052.3 935.4,1051.8 935.5,1051.3 935.6,1050.8 935.7,1050.3 935.8,1049.9 935.9,1049.4 936.0,1048.9 936.1,1048.4 936.2,1047.9 936.3,1047.4 936.4,1046.9 936.4,1046.4 936.5,1045.9 936.6,1045.4 936.7,1044.9 936.8,1044.5 936.9,1044.0 937.0,1043.5 937.1,1043.0 937.1,1042.5 937.2,1042.0 937.3,1041.5 937.4,1041.0 937.5,1040.5 937.6,1040.0 937.7,1039.5 937.7,1039.0 937.8,1038.6 937.9,1038.1 938.0,1037.6 938.1,1037.1 938.2,1036.6 938.2,1036.1 938.3,1035.6 938.4,1035.1 938.5,1034.6 938.6,1034.1 938.7,1033.6 938.7,1033.1 938.8,1032.6 938.9,1032.1 939.0,1031.7 939.1,1031.2 939.1,1030.7 939.2,1030.2 939.3,1029.7 939.4,1029.2 939.5,1028.7 939.5,1028.2 939.6,1027.7 939.7,1027.2 939.8,1026.7 939.8,1026.2 939.9,1025.7 940.0,1025.2 940.1,1024.7 940.1,1024.2 940.2,1023.7 940.3,1023.3 940.4,1022.8 940.5,1022.3 940.5,1021.8 940.6,1021.3 940.7,1020.8 940.8,1020.3 940.8,1019.8 940.9,1019.3 941.0,1018.8 941.0,1018.3 941.1,1017.8 941.2,1017.3 941.3,1016.8 941.3,1016.3 941.4,1015.8 941.5,1015.3 941.6,1014.8 941.6,1014.3 941.7,1013.8 941.8,1013.3 941.8,1012.9 941.9,1012.4 942.0,1011.9 942.0,1011.4 942.1,1010.9 942.2,1010.4 942.3,1009.9 942.3,1009.4 942.4,1008.9 942.5,1008.4 942.5,1007.9 942.6,1007.4 942.7,1006.9 942.7,1006.4 942.8,1005.9 942.9,1005.4 942.9,1004.9 943.0,1004.4 943.1,1003.9 943.1,1003.4 943.2,1002.9 943.3,1002.4 943.3,1001.9 943.4,1001.4 943.5,1000.9 943.5,1000.4 943.6,999.9 943.7,999.5 943.7,999.0 943.8,998.5 943.8,998.0 943.9,997.5 944.0,997.0 944.0,996.5 944.1,996.0 944.2,995.5 944.2,995.0 944.3,994.5 944.3,994.0 944.4,993.5 944.5,993.0 944.5,992.5 944.6,992.0 944.7,991.5 944.7,991.0 944.8,990.5 944.8,990.0 944.9,989.5 945.0,989.0 945.0,988.5 945.1,988.0 945.1,987.5 945.2,987.0 945.2,986.5 945.3,986.0 945.4,985.5 945.4,985.0 945.5,984.5 945.5,984.0 945.6,983.5 945.7,983.0 945.7,982.5 945.8,982.0 945.8,981.5 945.9,981.0 945.9,980.5 946.0,980.1 946.0,979.6 946.1,979.1 946.2,978.6 946.2,978.1 946.3,977.6 946.3,977.1 946.4,976.6 946.4,976.1 946.5,975.6 946.5,975.1 946.6,974.6 946.6,974.1 946.7,973.6 946.8,973.1 946.8,972.6 946.9,972.1 946.9,971.6 947.0,971.1 947.0,970.6 947.1,970.1 947.1,969.6 947.2,969.1 947.2,968.6 947.3,968.1 947.3,967.6 947.4,967.1 947.4,966.6 947.5,966.1 947.5,965.6 947.6,965.1 947.6,964.6 947.7,964.1 947.7,963.6 947.8,963.1 947.8,962.6 947.9,962.1 947.9,961.6 948.0,961.1 948.0,960.6 948.1,960.1 948.1,959.6 948.2,959.1 948.2,958.6 948.3,958.1 948.3,957.6 948.4,957.1 948.4,956.6 948.5,956.1 948.5,955.6 948.5,955.2 948.6,954.7 948.6,954.2 948.7,953.7 948.7,953.2 948.8,952.7 948.8,952.2 948.9,951.7 948.9,951.2 949.0,950.7 949.0,950.2 949.1,949.7 949.1,949.2 949.1,948.7 949.2,948.2 949.2,947.7 949.3,947.2 949.3,946.7 949.4,946.2 949.4,945.7 949.4,945.2 949.5,944.7 949.5,944.2 949.6,943.7 949.6,943.2 949.7,942.7 949.7,942.2 949.7,941.7 949.8,941.2 949.8,940.7 949.9,940.2 949.9,939.7 950.0,939.2 950.0,938.7 950.0,938.2 950.1,937.7 950.1,937.2 950.2,936.7 950.2,936.2 950.2,935.7 950.3,935.2 950.3,934.7 950.4,934.2 950.4,933.7 950.4,933.2 950.5,932.7 950.5,932.2 950.6,931.7 950.6,931.2 950.6,930.7 950.7,930.2 950.7,929.7 950.8,929.2 950.8,928.7 950.8,928.2 950.9,927.7 950.9,927.2 951.0,926.7 951.0,926.3 951.0,925.8 951.1,925.3 951.1,924.8 951.1,924.3 951.2,923.8 951.2,923.3 951.3,922.8 951.3,922.3 951.3,921.8 951.4,921.3 951.4,920.8 951.4,920.3 951.5,919.8 951.5,919.3 951.5,918.8 951.6,918.3 951.6,917.8 951.7,917.3 951.7,916.8 951.7,916.3 951.8,915.8 951.8,915.3 951.8,914.8 951.9,914.3 951.9,913.8 951.9,913.3 952.0,912.8 952.0,912.3 952.0,911.8 952.1,911.3 952.1,910.8 952.1,910.3 952.2,909.8 952.2,909.3 952.3,908.8 952.3,908.3 952.3,907.8 952.4,907.3 952.4,906.8 952.4,906.3 952.5,905.8 952.5,905.3 952.5,904.8 952.6,904.3 952.6,903.8 952.6,903.3 952.7,902.8 952.7,902.3 952.7,901.8 952.8,901.3 952.8,900.8 952.8,900.3 952.9,899.8 952.9,899.3 952.9,898.8 952.9,898.3 953.0,897.8 953.0,897.3 953.0,896.8 953.1,896.3 953.1,895.8 953.1,895.3 953.2,894.8 953.2,894.3 953.2,893.8 953.3,893.3 953.3,892.8 953.3,892.3 953.4,891.8 953.4,891.4 953.4,890.9 953.5,890.4 953.5,889.9 953.5,889.4 953.5,888.9 953.6,888.4 953.6,887.9 953.6,887.4 953.7,886.9 953.7,886.4 953.7,885.9 953.8,885.4 953.8,884.9 953.8,884.4 953.8,883.9 953.9,883.4 953.9,882.9 953.9,882.4 954.0,881.9 954.0,881.4 954.0,880.9 954.1,880.4 954.1,879.9 954.1,879.4 954.1,878.9 954.2,878.4 954.2,877.9 954.2,877.4 954.3,876.9 954.3,876.4 954.3,875.9 954.3,875.4 954.4,874.9 954.4,874.4 954.4,873.9 954.5,873.4 954.5,872.9 954.5,872.4 954.5,871.9 954.6,871.4 954.6,870.9 954.6,870.4 954.7,869.9 954.7,869.4 954.7,868.9 954.7,868.4 954.8,867.9 954.8,867.4 954.8,866.9 954.9,866.4 954.9,865.9 954.9,865.4 954.9,864.9 955.0,864.4 955.0,863.9 955.0,863.4 955.1,862.9 955.1,862.4 955.1,861.9 955.1,861.4 955.2,860.9 955.2,860.4 955.2,859.9 955.3,859.4 955.3,858.9 955.3,858.4 955.3,857.9 955.4,857.4 955.4,856.9 955.4,856.4 955.4,855.9 955.5,855.4 955.5,854.9 955.5,854.4 955.6,853.9 955.6,853.4 955.6,852.9 955.6,852.4 955.7,851.9 955.7,851.4 955.7,850.9 955.7,850.4 955.8,849.9 955.8,849.4 955.8,848.9 955.9,848.4 955.9,847.9 955.9,847.4 955.9,846.9 956.0,846.4 956.0,846.0 956.0,845.5 956.0,845.0 956.1,844.5 956.1,844.0 956.1,843.5 956.1,843.0 956.2,842.5 956.2,842.0 956.2,841.5 956.3,841.0 956.3,840.5 956.3,840.0 956.3,839.5 956.4,839.0 956.4,838.5 956.4,838.0 956.4,837.5 956.5,837.0 956.5,836.5 956.5,836.0 956.6,835.5 956.6,835.0 956.6,834.5 956.6,834.0 956.7,833.5 956.7,833.0 956.7,832.5 956.7,832.0 956.8,831.5 956.8,831.0 956.8,830.5 956.9,830.0 956.9,829.5 956.9,829.0 956.9,828.5 957.0,828.0 957.0,827.5 957.0,827.0 957.0,826.5 957.1,826.0 957.1,825.5 957.1,825.0 957.1,824.5 957.2,824.0 957.2,823.5 957.2,823.0 957.3,822.5 957.3,822.0 957.3,821.5 957.3,821.0 957.4,820.5 957.4,820.0 957.4,819.5 957.4,819.0 957.5,818.5 957.5,818.0 957.5,817.5 957.5,817.0 957.6,816.5 957.6,816.0 957.6,815.5 957.7,815.0 957.7,814.5 957.7,814.0 957.7,813.5 957.8,813.0 957.8,812.5 957.8,812.0 957.8,811.5 957.9,811.0 957.9,810.5 957.9,810.0 957.9,809.5 958.0,809.0 958.0,808.5 958.0,808.0 958.1,807.5 958.1,807.0 958.1,806.5 958.1,806.0 958.2,805.5 958.2,805.0 958.2,804.5 958.2,804.0 958.3,803.5 958.3,803.0 958.3,802.5 958.3,802.0 958.4,801.5 958.4,801.0 958.4,800.5 958.5,800.0 958.5,799.5 958.5,799.0 958.5,798.5 958.6,798.0 958.6,797.5 958.6,797.0 958.6,796.5 958.7,796.0 958.7,795.5 958.7,795.0 958.7,794.5 958.8,794.0 958.8,793.5 958.8,793.0 958.9,792.5 958.9,792.0 958.9,791.5 958.9,791.0 959.0,790.5 959.0,790.0 959.0,789.5 959.0,789.0 959.1,788.5 959.1,788.0 959.1,787.5 959.1,787.0 959.2,786.5 959.2,786.0 959.2,785.5 959.3,785.0 959.3,784.5 959.3,784.0 959.3,783.5 959.4,783.0 959.4,782.5 959.4,782.0 959.4,781.5 959.5,781.0 959.5,780.5 959.5,780.0 959.5,779.5 959.6,779.0 959.6,778.5 959.6,778.0 959.7,777.5 959.7,777.0 959.7,776.5 959.7,776.1 959.8,775.6 959.8,775.1 959.8,774.6 959.8,774.1 959.9,773.6 959.9,773.1 959.9,772.6 959.9,772.1 960.0,771.6 960.0,771.1 960.0,770.6 960.1,770.1 960.1,769.6 960.1,769.1 960.1,768.6 960.2,768.1 960.2,767.6 960.2,767.1 960.2,766.6 960.3,766.1 960.3,765.6 960.3,765.1 960.3,764.6 960.4,764.1 960.4,763.6 960.4,763.1 960.5,762.6 960.5,762.1 960.5,761.6 960.5,761.1 960.6,760.6 960.6,760.1 960.6,759.6 960.6,759.1 960.7,758.6 960.7,758.1 960.7,757.6 960.8,757.1 960.8,756.6 960.8,756.1 960.8,755.6 960.9,755.1 960.9,754.6 960.9,754.1 961.0,753.6 961.0,753.1 961.0,752.6 961.0,752.1 961.1,751.6 961.1,751.1 961.1,750.6 961.2,750.1 961.2,749.6 961.2,749.1 961.2,748.6 961.3,748.1 961.3,747.6 961.3,747.1 961.4,746.6 961.4,746.1 961.4,745.6 961.5,745.1 961.5,744.6 961.5,744.1 961.6,743.6 961.6,743.1 961.6,742.6 961.7,742.1 961.7,741.6 961.7,741.1 961.8,740.6 961.8,740.1 961.8,739.6 961.9,739.1 961.9,738.6 961.9,738.1 962.0,737.6 962.0,737.1 962.0,736.6 962.1,736.1 962.1,735.6 962.1,735.1 962.2,734.6 962.2,734.1 962.2,733.6 962.3,733.1 962.3,732.6 962.4,732.1 962.4,731.6 962.4,731.1 962.5,730.6 962.5,730.1 962.6,729.6 962.6,729.1 962.7,728.6 962.7,728.1 962.8,727.6 962.8,727.2 962.8,726.7 962.9,726.2 962.9,725.7 963.0,725.2 963.1,724.7 963.1,724.2 963.2,723.7 963.2,723.2 963.3,722.7 963.3,722.2 963.4,721.7 963.4,721.2 963.5,720.7 963.6,720.2 963.6,719.7 963.7,719.2 963.8,718.7 963.8,718.2 963.9,717.7 964.0,717.2 964.1,716.7 964.1,716.2 964.2,715.7 964.3,715.2 964.4,714.7 964.4,714.2 964.5,713.7 964.6,713.2 964.7,712.7 964.8,712.2 964.9,711.7 965.0,711.2 965.1,710.7 965.2,710.2 965.4,709.7 965.5,709.3 965.7,708.8 965.9,708.4 966.1,708.0 966.3,707.8 966.5,707.8 966.8,708.0 967.0,708.4 967.2,708.9 967.4,709.3 967.6,709.8 967.7,710.3 967.9,710.9 968.0,711.4 968.2,711.9 968.3,712.4 968.4,712.9 968.5,713.4 968.6,713.9 968.7,714.4 968.8,714.9 968.9,715.4 969.0,715.9 969.1,716.4 969.1,716.9 969.2,717.4 969.3,717.9 969.3,718.4 969.4,718.9 969.4,719.4 969.5,719.9 969.5,720.4 969.6,720.9 969.6,721.4 969.6,721.8 969.7,722.3 969.7,722.8 969.7,723.3 969.8,723.8 969.8,724.3 969.8,724.8 969.9,725.3 969.9,725.8 969.9,726.3 970.0,726.8 970.0,727.3 970.0,727.8 970.1,728.3 970.1,728.8 970.1,729.3 970.2,729.8 970.2,730.3 970.2,730.8 970.3,731.3 970.3,731.8 970.3,732.2 970.4,732.7 970.4,733.2 970.5,733.7 970.5,734.2 970.5,734.7 970.6,735.2 970.6,735.7 970.6,736.2 970.7,736.7 970.7,737.2 970.8,737.7 970.8,738.2 970.8,738.7 970.9,739.2 970.9,739.7 970.9,740.2 971.0,740.7 971.0,741.2 971.1,741.7 971.1,742.2 971.1,742.7 971.2,743.2 971.2,743.7 971.2,744.2 971.3,744.7 971.3,745.2 971.3,745.7 971.4,746.2 971.4,746.7 971.4,747.2 971.5,747.7 971.5,748.2 971.6,748.7 971.6,749.2 971.6,749.7 971.7,750.2 971.7,750.7 971.7,751.2 971.8,751.7 971.8,752.2 971.8,752.7 971.9,753.2 971.9,753.7 971.9,754.2 972.0,754.7 972.0,755.2 972.0,755.7 972.1,756.2 972.1,756.7 972.1,757.2 972.2,757.7 972.2,758.2 972.2,758.7 972.2,759.2 972.3,759.7 972.3,760.2 972.3,760.7 972.4,761.2 972.4,761.7 972.4,762.2 972.5,762.7 972.5,763.2 972.5,763.7 972.6,764.2 972.6,764.7 972.6,765.2 972.6,765.7 972.7,766.2 972.7,766.7 972.7,767.2 972.8,767.7 972.8,768.2 972.8,768.7 972.9,769.2 972.9,769.7 972.9,770.2 972.9,770.7 973.0,771.2 973.0,771.7 973.0,772.2 973.1,772.7 973.1,773.2 973.1,773.7 973.2,774.2 973.2,774.7 973.2,775.2 973.2,775.7 973.3,776.2 973.3,776.7 973.3,777.2 973.4,777.7 973.4,778.2 973.4,778.7 973.4,779.2 973.5,779.7 973.5,780.2 973.5,780.7 973.6,781.2 973.6,781.7 973.6,782.2 973.6,782.7 973.7,783.2 973.7,783.7 973.7,784.2 973.8,784.7 973.8,785.2 973.8,785.7 973.8,786.2 973.9,786.7 973.9,787.2 973.9,787.7 973.9,788.2 974.0,788.7 974.0,789.2 974.0,789.7 974.1,790.2 974.1,790.7 974.1,791.2 974.1,791.7 974.2,792.1 974.2,792.6 974.2,793.1 974.2,793.6 974.3,794.1 974.3,794.6 974.3,795.1 974.4,795.6 974.4,796.1 974.4,796.6 974.4,797.1 974.5,797.6 974.5,798.1 974.5,798.6 974.6,799.1 974.6,799.6 974.6,800.1 974.6,800.6 974.7,801.1 974.7,801.6 974.7,802.1 974.7,802.6 974.8,803.1 974.8,803.6 974.8,804.1 974.9,804.6 974.9,805.1 974.9,805.6 974.9,806.1 975.0,806.6 975.0,807.1 975.0,807.6 975.1,808.1 975.1,808.6 975.1,809.1 975.1,809.6 975.2,810.1 975.2,810.6 975.2,811.1 975.3,811.6 975.3,812.1 975.3,812.6 975.3,813.1 975.4,813.6 975.4,814.1 975.4,814.6 975.5,815.1 975.5,815.6 975.5,816.1 975.5,816.6 975.6,817.1 975.6,817.6 975.6,818.1 975.7,818.6 975.7,819.1 975.7,819.6 975.7,820.1 975.8,820.6 975.8,821.1 975.8,821.6 975.9,822.1 975.9,822.6 975.9,823.1 976.0,823.6 976.0,824.1 976.0,824.6 976.1,825.1 976.1,825.6 976.1,826.1 976.1,826.6 976.2,827.1 976.2,827.5 976.2,828.0 976.3,828.5 976.3,829.0 976.3,829.5 976.4,830.0 976.4,830.5 976.4,831.0 976.5,831.5 976.5,832.0 976.5,832.5 976.5,833.0 976.6,833.5 976.6,834.0 976.6,834.5 976.7,835.0 976.7,835.5 976.7,836.0 976.8,836.5 976.8,837.0 976.8,837.5 976.9,838.0 976.9,838.5 976.9,839.0 977.0,839.5 977.0,840.0 977.0,840.5 977.1,841.0 977.1,841.5 977.1,842.0 977.2,842.5 977.2,843.0 977.2,843.5 977.3,844.0 977.3,844.5 977.3,845.0 977.4,845.5 977.4,846.0 977.4,846.5 977.5,847.0 977.5,847.5 977.5,848.0 977.6,848.5 977.6,849.0 977.6,849.5 977.7,850.0 977.7,850.5 977.7,851.0 977.8,851.5 977.8,852.0 977.8,852.5 977.9,853.0 977.9,853.5 977.9,854.0 978.0,854.5 978.0,855.0 978.0,855.5 978.1,856.0 978.1,856.5 978.1,857.0 978.2,857.5 978.2,858.0 978.2,858.5 978.3,859.0 978.3,859.5 978.3,860.0 978.4,860.5 978.4,861.0 978.4,861.5 978.5,862.0 978.5,862.5 978.5,863.0 978.6,863.5 978.6,864.0 978.6,864.5 978.7,865.0 978.7,865.5 978.7,866.0 978.8,866.5 978.8,867.0 978.8,867.5 978.9,868.0 978.9,868.5 978.9,869.0 979.0,869.5 979.0,870.0 979.0,870.5 979.1,871.0 979.1,871.5 979.1,872.0 979.2,872.5 979.2,873.0 979.2,873.5 979.3,874.0 979.3,874.5 979.3,875.0 979.4,875.5 979.4,876.0 979.4,876.5 979.5,877.0 979.5,877.5 979.5,878.0 979.6,878.5 979.6,879.0 979.6,879.5 979.7,880.0 979.7,880.5 979.7,881.0 979.8,881.5 979.8,882.0 979.8,882.5 979.9,883.0 979.9,883.5 979.9,884.0 980.0,884.5 980.0,885.0 980.0,885.5 980.1,886.0 980.1,886.5 980.1,887.0 980.2,887.5 980.2,888.0 980.2,888.5 980.3,889.0 980.3,889.5 980.3,890.0 980.4,890.5 980.4,891.0 980.4,891.5 980.5,892.0 980.5,892.5 980.5,893.0 980.6,893.5 980.6,894.0 980.6,894.5 980.7,895.0 980.7,895.5 980.7,896.0 980.8,896.5 980.8,897.0 980.8,897.5 980.9,898.0 980.9,898.5 980.9,899.0 981.0,899.5 981.0,900.0 981.1,900.5 981.1,901.0 981.1,901.5 981.2,902.0 981.2,902.5 981.2,903.0 981.3,903.5 981.3,904.0 981.3,904.5 981.4,905.0 981.4,905.5 981.4,906.0 981.5,906.5 981.5,907.0 981.5,907.5 981.6,908.0 981.6,908.5 981.6,908.9 981.7,909.4 981.7,909.9 981.7,910.4 981.8,910.9 981.8,911.4 981.8,911.9 981.9,912.4 981.9,912.9 982.0,913.4 982.0,913.9 982.0,914.4 982.1,914.9 982.1,915.4 982.1,915.9 982.2,916.4 982.2,916.9 982.2,917.4 982.3,917.9 982.3,918.4 982.4,918.9 982.4,919.4 982.4,919.9 982.5,920.4 982.5,920.9 982.5,921.4 982.6,921.9 982.6,922.4 982.7,922.9 982.7,923.4 982.7,923.9 982.8,924.4 982.8,924.9 982.9,925.4 982.9,925.9 982.9,926.4 983.0,926.9 983.0,927.4 983.1,927.9 983.1,928.4 983.1,928.9 983.2,929.4 983.2,929.9 983.3,930.4 983.3,930.9 983.3,931.4 983.4,931.9 983.4,932.4 983.5,932.9 983.5,933.4 983.5,933.9 983.6,934.4 983.6,934.9 983.7,935.4 983.7,935.9 983.8,936.4 983.8,936.9 983.9,937.4 983.9,937.9 983.9,938.4 984.0,938.9 984.0,939.4 984.1,939.9 984.1,940.4 984.2,940.9 984.2,941.4 984.3,941.9 984.3,942.4 984.4,942.9 984.4,943.4 984.4,943.9 984.5,944.4 984.5,944.8 984.6,945.3 984.6,945.8 984.7,946.3 984.7,946.8 984.8,947.3 984.8,947.8 984.9,948.3 984.9,948.8 985.0,949.3 985.0,949.8 985.1,950.3 985.1,950.8 985.2,951.3 985.2,951.8 985.3,952.3 985.3,952.8 985.4,953.3 985.4,953.8 985.5,954.3 985.5,954.8 985.6,955.3 985.6,955.8 985.7,956.3 985.7,956.8 985.8,957.3 985.9,957.8 985.9,958.3 986.0,958.8 986.0,959.3 986.1,959.8 986.1,960.3 986.2,960.8 986.2,961.3 986.3,961.8 986.3,962.3 986.4,962.8 986.5,963.3 986.5,963.8 986.6,964.3 986.6,964.7 986.7,965.2 986.7,965.7 986.8,966.2 986.8,966.7 986.9,967.2 987.0,967.7 987.0,968.2 987.1,968.7 987.1,969.2 987.2,969.7 987.2,970.2 987.3,970.7 987.4,971.2 987.4,971.7 987.5,972.2 987.5,972.7 987.6,973.2 987.7,973.7 987.7,974.2 987.8,974.7 987.8,975.2 987.9,975.7 987.9,976.2 988.0,976.7 988.1,977.2 988.1,977.7 988.2,978.2 988.2,978.7 988.3,979.1 988.4,979.6 988.4,980.1 988.5,980.6 988.5,981.1 988.6,981.6 988.7,982.1 988.7,982.6 988.8,983.1 988.9,983.6 988.9,984.1 989.0,984.6 989.0,985.1 989.1,985.6 989.2,986.1 989.2,986.6 989.3,987.1 989.3,987.6 989.4,988.1 989.5,988.6 989.5,989.1 989.6,989.6 989.7,990.1 989.7,990.5 989.8,991.0 989.8,991.5 989.9,992.0 990.0,992.5 990.0,993.0 990.1,993.5 990.2,994.0 990.2,994.5 990.3,995.0 990.3,995.5 990.4,996.0 990.5,996.5 990.5,997.0 990.6,997.5 990.7,998.0 990.7,998.5 990.8,999.0 990.8,999.5 990.9,1000.0 991.0,1000.4 991.0,1000.9 991.1,1001.4 991.2,1001.9 991.2,1002.4 991.3,1002.9 991.4,1003.4 991.4,1003.9 991.5,1004.4 991.5,1004.9 991.6,1005.4 991.7,1005.9 991.7,1006.4 991.8,1006.9 991.9,1007.4 991.9,1007.9 992.0,1008.4 992.1,1008.8 992.1,1009.3 992.2,1009.8 992.2,1010.3 992.3,1010.8 992.4,1011.3 992.4,1011.8 992.5,1012.3 992.6,1012.8 992.6,1013.3 992.7,1013.8 992.8,1014.3 992.8,1014.8 992.9,1015.3 993.0,1015.8 993.0,1016.3 993.1,1016.7 993.2,1017.2 993.2,1017.7 993.3,1018.2 993.4,1018.7 993.4,1019.2 993.5,1019.7 993.6,1020.2 993.6,1020.7 993.7,1021.2 993.8,1021.7 993.8,1022.2 993.9,1022.7 994.0,1023.2 994.1,1023.6 994.1,1024.1 994.2,1024.6 994.3,1025.1 994.3,1025.6 994.4,1026.1 994.5,1026.6 994.6,1027.1 994.6,1027.6 994.7,1028.1 994.8,1028.6 994.9,1029.1 994.9,1029.6 995.0,1030.0 995.1,1030.5 995.2,1031.0 995.3,1031.5 995.3,1032.0 995.4,1032.5 995.5,1033.0 995.6,1033.5 995.7,1034.0 995.7,1034.5 995.8,1035.0 995.9,1035.5 996.0,1035.9 996.1,1036.4 996.2,1036.9 996.2,1037.4 996.3,1037.9 996.4,1038.4 996.5,1038.9 996.6,1039.4 996.7,1039.9 996.8,1040.4 996.9,1040.9 996.9,1041.3 997.0,1041.8 997.1,1042.3 997.2,1042.8 997.3,1043.3 997.4,1043.8 997.5,1044.3 997.6,1044.8 997.7,1045.3 997.8,1045.8 997.9,1046.3 998.0,1046.7 998.1,1047.2 998.2,1047.7 998.3,1048.2 998.4,1048.7 998.5,1049.2 998.6,1049.7 998.7,1050.2 998.8,1050.7 998.9,1051.2 999.0,1051.6 999.1,1052.1 999.2,1052.6 999.3,1053.1 999.5,1053.6 999.6,1054.1 999.7,1054.6 999.8,1055.1 999.9,1055.6 1000.0,1056.0 1000.1,1056.5 1000.2,1057.0 1000.4,1057.5 1000.5,1058.0 1000.6,1058.5 1000.7,1059.0 1000.8,1059.5 1001.0,1060.0 1001.1,1060.5 1001.2,1060.9 1001.3,1061.4 1001.4,1061.9 1001.6,1062.4 1001.7,1062.9 1001.8,1063.4 1002.0,1063.9 1002.1,1064.4 1002.2,1064.8 1002.3,1065.3 1002.5,1065.8 1002.6,1066.3 1002.7,1066.8 1002.8,1067.3 1003.0,1067.8 1003.1,1068.3 1003.2,1068.8 1003.4,1069.2 1003.5,1069.7 1003.6,1070.2 1003.8,1070.7 1003.9,1071.2 1004.0,1071.7 1004.2,1072.2 1004.3,1072.7 1004.4,1073.1 1004.6,1073.6 1004.7,1074.1 1004.8,1074.6 1004.9,1075.1 1005.1,1075.6 1005.2,1076.1 1005.3,1076.5 1005.5,1077.0 1005.6,1077.5 1005.7,1078.0 1005.8,1078.5 1006.0,1079.0 1006.1,1079.5 1006.2,1080.0 1006.4,1080.4 1006.5,1080.9 1006.6,1081.4 1006.7,1081.9 1006.9,1082.4 1007.0,1082.9 1007.1,1083.4 1007.2,1083.8 1007.4,1084.3 1007.5,1084.8 1007.6,1085.3 1007.8,1085.8 1007.9,1086.3 1008.0,1086.7 1008.1,1087.2 1008.3,1087.7 1008.4,1088.2 1008.5,1088.7 1008.6,1089.2 1008.8,1089.6 1008.9,1090.1 1009.0,1090.6 1009.2,1091.1 1009.3,1091.6 1009.4,1092.1 1009.6,1092.5 1009.7,1093.0 1009.8,1093.5 1010.0,1094.0 1010.1,1094.5 1010.2,1094.9 1010.4,1095.4 1010.5,1095.9 1010.6,1096.4 1010.8,1096.8 1010.9,1097.3 1011.1,1097.8 1011.2,1098.3 1011.3,1098.7 1011.5,1099.2 1011.6,1099.7 1011.8,1100.2 1011.9,1100.6 1012.1,1101.1 1012.2,1101.6 1012.4,1102.1 1012.5,1102.5 1012.7,1103.0 1012.8,1103.5 1013.0,1104.0 1013.1,1104.4 1013.3,1104.9 1013.4,1105.4 1013.6,1105.8 1013.8,1106.3 1013.9,1106.8 1014.1,1107.2 1014.3,1107.7 1014.4,1108.2 1014.6,1108.6 1014.8,1109.1 1014.9,1109.6 1015.1,1110.0 1015.3,1110.5 1015.5,1110.9 1015.6,1111.4 1015.8,1111.9 1016.0,1112.3 1016.2,1112.8 1016.4,1113.2 1016.6,1113.7 1016.8,1114.2 1017.0,1114.6 1017.2,1115.1 1017.4,1115.5 1017.6,1116.0 1017.8,1116.4 1018.0,1116.9 1018.2,1117.3 1018.4,1117.8 1018.6,1118.2 1018.8,1118.7 1019.1,1119.1 1019.3,1119.6 1019.5,1120.0 1019.7,1120.5 1020.0,1120.9 1020.2,1121.4 1020.5,1121.8 1020.7,1122.3 1020.9,1122.7 1021.2,1123.1 1021.4,1123.6 1021.7,1124.0 1021.9,1124.5 1022.2,1124.9 1022.5,1125.4 1022.7,1125.8 1023.0,1126.2 1023.2,1126.7 1023.5,1127.1 1023.8,1127.5 1024.0,1128.0 1024.3,1128.4 1024.5,1128.8 1024.8,1129.3 1025.1,1129.7 1025.3,1130.2 1025.6,1130.6 1025.9,1131.0 1026.1,1131.5 1026.4,1131.9 1026.6,1132.3 1026.9,1132.7 1027.2,1133.2 1027.4,1133.6 1027.7,1134.0 1027.9,1134.5 1028.2,1134.9 1028.4,1135.3 1028.7,1135.8 1028.9,1136.2 1029.2,1136.6 1029.4,1137.1 1029.7,1137.5 1029.9,1137.9 1030.1,1138.4 1030.4,1138.8 1030.6,1139.2 1030.8,1139.7 1031.0,1140.1 1031.3,1140.5 1031.5,1140.9 1031.7,1141.4 1031.9,1141.8 1032.1,1142.2 1032.3,1142.7 1032.5,1143.1 1032.8,1143.5 1033.0,1144.0 1033.2,1144.4 1033.4,1144.8 1033.6,1145.3 1033.9,1145.7 1034.1,1146.1 1034.4,1146.6 1034.6,1147.0 1034.9,1147.5 1035.1,1147.9 1035.4,1148.3 1035.7,1148.8 1035.9,1149.2 1036.2,1149.6 1036.5,1150.0 1036.8,1150.5 1037.1,1150.9 1037.4,1151.3 1037.7,1151.7 1038.1,1152.1 1038.4,1152.5 1038.7,1152.9 1039.1,1153.3 1039.4,1153.6 1039.8,1154.0 1040.1,1154.4 1040.5,1154.7 1040.8,1155.1 1041.2,1155.4 1041.6,1155.7 1042.0,1156.0 1042.4,1156.3 1042.8,1156.7 1043.2,1156.9 1043.6,1157.2 1044.0,1157.5 1044.4,1157.8 1044.8,1158.1 1045.2,1158.4 1045.6,1158.7 1046.0,1159.0 1046.4,1159.3 1046.8,1159.6 1047.2,1159.9 1047.6,1160.2 1047.9,1160.5 1048.3,1160.8 1048.7,1161.2 1049.0,1161.5 1049.4,1161.8 1049.8,1162.2 1050.1,1162.5 1050.5,1162.8 1050.8,1163.2 1051.2,1163.5 1051.6,1163.9 1051.9,1164.2 1052.3,1164.5 1052.7,1164.9 1053.0,1165.2 1053.4,1165.6 1053.8,1165.9 1054.1,1166.2 1054.5,1166.6 1054.9,1166.9 1055.3,1167.2 1055.7,1167.6 1056.1,1167.9 1056.5,1168.2 1056.9,1168.5 1057.4,1168.8 1057.8,1169.1 1058.2,1169.4 1058.6,1169.6 1059.1,1169.9 1059.5,1170.1 1060.0,1170.4 1060.4,1170.6 1060.9,1170.8 1061.3,1171.0 1061.8,1171.2 1062.3,1171.3 1062.7,1171.4 1063.2,1171.6 1063.7,1171.7 1064.1,1171.7 1064.6,1171.8 1065.1,1171.8 1065.6,1171.8 1066.1,1171.8 1066.6,1171.7 1067.0,1171.6 1067.5,1171.5 1068.0,1171.4 1068.5,1171.2 1069.0,1171.0 1069.5,1170.8 1070.0,1170.6 1070.5,1170.4 1071.0,1170.2 1071.5,1170.0 1072.0,1169.8 1072.4,1169.6 1072.9,1169.5 1073.4,1169.4 1073.9,1169.4 1074.4,1169.3 1074.9,1169.3 1075.4,1169.3 1075.9,1169.3 1076.4,1169.3 1076.8,1169.4 1077.3,1169.4 1077.8,1169.4 1078.3,1169.5 1078.7,1169.6 1079.2,1169.6 1079.7,1169.7 1080.2,1169.8 1080.6,1169.9 1081.1,1170.0 1081.6,1170.2 1082.0,1170.3 1082.5,1170.4 1083.0,1170.6 1083.4,1170.7 1083.9,1170.9 1084.4,1171.1 1084.8,1171.2 1085.3,1171.4 1085.8,1171.6 1086.2,1171.8 1086.7,1172.0 1087.2,1172.2 1087.6,1172.4 1088.1,1172.7 1088.6,1172.9 1089.0,1173.2 1089.5,1173.4 1090.0,1173.7 1090.4,1173.9 1090.9,1174.2 1091.4,1174.4 1091.9,1174.7 1092.4,1174.9 1092.8,1175.2 1093.3,1175.4 1093.8,1175.6 1094.3,1175.8 1094.8,1176.0 1095.2,1176.1 1095.7,1176.2 1096.2,1176.3 1096.7,1176.3 1097.2,1176.3 1097.7,1176.3 1098.1,1176.2 1098.6,1176.2 1099.1,1176.1 1099.6,1176.0 1100.1,1176.0 1100.6,1175.9 1101.1,1175.8 1101.6,1175.8 1102.0,1175.7 1102.5,1175.7 1103.0,1175.7 1103.5,1175.6 1104.0,1175.6 1104.5,1175.6 1105.0,1175.6 1105.4,1175.6 1105.9,1175.6 1106.4,1175.7 1106.9,1175.7 1107.4,1175.7 1107.9,1175.7 1108.4,1175.7 1108.9,1175.7 1109.3,1175.7 1109.8,1175.7 1110.3,1175.8 1110.8,1175.8 1111.3,1175.8 1111.8,1175.7 1112.3,1175.7 1112.8,1175.7 1113.2,1175.7 1113.7,1175.7 1114.2,1175.6 1114.7,1175.6 1115.2,1175.6 1115.7,1175.5 1116.2,1175.5 1116.7,1175.5 1117.2,1175.5 1117.6,1175.5 1118.1,1175.5 1118.6,1175.5 1119.1,1175.5 1119.6,1175.5 1120.1,1175.6 1120.6,1175.6 1121.1,1175.7 1121.6,1175.8 1122.1,1175.9 1122.5,1176.0 1123.0,1176.2 1123.5,1176.3 1124.0,1176.5 1124.5,1176.7 1125.0,1177.0 1125.5,1177.2 1126.0,1177.4 1126.5,1177.7 1127.0,1177.9 1127.4,1178.1 1127.9,1178.3 1128.4,1178.5 1128.9,1178.6 1129.4,1178.7 1129.9,1178.7 1130.4,1178.7 1130.9,1178.7 1131.4,1178.6 1131.9,1178.5 1132.4,1178.4 1132.9,1178.2 1133.3,1178.1 1133.8,1177.9 1134.3,1177.8 1134.8,1177.7 1135.3,1177.6 1135.8,1177.5 1136.3,1177.4 1136.8,1177.3 1137.3,1177.3 1137.8,1177.2 1138.3,1177.2 1138.8,1177.2 1139.3,1177.3 1139.7,1177.3 1140.2,1177.4 1140.7,1177.4 1141.2,1177.5 1141.7,1177.6 1142.2,1177.7 1142.7,1177.8 1143.2,1177.9 1143.7,1178.0 1144.2,1178.1 1144.7,1178.2 1145.2,1178.2 1145.7,1178.3 1146.1,1178.4 1146.6,1178.4 1147.1,1178.5 1147.6,1178.5 1148.1,1178.5 1148.6,1178.5 1149.1,1178.4 1149.6,1178.4 1150.1,1178.3 1150.6,1178.3 1151.1,1178.2 1151.5,1178.1 1152.0,1178.0 1152.5,1177.9 1153.0,1177.7 1153.5,1177.6 1154.0,1177.5 1154.5,1177.3 1155.0,1177.2 1155.5,1177.1 1156.0,1176.9 1156.5,1176.8 1156.9,1176.7 1157.4,1176.6 1157.9,1176.4 1158.4,1176.3 1158.9,1176.2 1159.4,1176.1 1159.9,1176.0 1160.4,1175.9 1160.9,1175.8 1161.3,1175.8 1161.8,1175.7 1162.3,1175.6 1162.8,1175.6 1163.3,1175.5 1163.8,1175.4 1164.3,1175.4 1164.7,1175.3 1165.2,1175.2 1165.7,1175.2 1166.2,1175.1 1166.7,1175.0 1167.2,1174.9 1167.7,1174.9 1168.1,1174.8 1168.6,1174.7 1169.1,1174.6 1169.6,1174.4 1170.1,1174.3 1170.6,1174.2 1171.1,1174.0 1171.5,1173.9 1172.0,1173.7 1172.5,1173.5 1173.0,1173.4 1173.5,1173.2 1173.9,1173.0 1174.4,1172.8 1174.9,1172.6 1175.4,1172.4 1175.9,1172.3 1176.4,1172.1 1176.9,1171.9 1177.3,1171.8 1177.8,1171.6 1178.3,1171.5 1178.8,1171.3 1179.3,1171.2 1179.8,1171.1 1180.3,1171.0 1180.8,1171.0 1181.3,1170.9 1181.8,1170.9 1182.3,1170.9 1182.8,1171.0 1183.3,1171.0 1183.8,1171.1 1184.2,1171.2 1184.7,1171.3 1185.2,1171.4 1185.6,1171.6 1186.1,1171.8 1186.5,1172.0 1186.9,1172.2 1187.3,1172.5 1187.7,1172.8 1188.1,1173.1 1188.5,1173.4 1188.8,1173.7 1189.2,1174.0 1189.5,1174.4 1189.8,1174.8 1190.2,1175.2 1190.5,1175.6 1190.8,1176.0 1191.1,1176.4 1191.4,1176.8 1191.7,1177.2 1192.0,1177.7 1192.2,1178.1 1192.5,1178.6 1192.8,1179.0 1193.0,1179.5 1193.3,1179.9 1193.5,1180.4 1193.8,1180.8 1194.0,1181.3 1194.2,1181.7 1194.5,1182.2 1194.7,1182.6 1194.9,1183.1 1195.2,1183.5 1195.4,1184.0 1195.6,1184.4 1195.8,1184.9 1196.0,1185.3 1196.2,1185.8 1196.5,1186.2 1196.7,1186.7 1196.9,1187.1 1197.1,1187.6 1197.3,1188.0 1197.6,1188.4 1197.8,1188.9 1198.0,1189.3 1198.2,1189.8 1198.5,1190.2 1198.7,1190.6 1198.9,1191.1 1199.2,1191.5 1199.4,1191.9 1199.7,1192.3 1199.9,1192.8 1200.2,1193.2 1200.5,1193.6 1200.7,1194.0 1201.0,1194.4 1201.3,1194.8 1201.6,1195.2 1201.9,1195.6 1202.2,1196.0 1202.5,1196.4 1202.9,1196.8 1203.2,1197.2 1203.5,1197.5 1203.9,1197.9 1204.3,1198.2 1204.6,1198.6 1205.0,1198.9 1205.4,1199.1 1205.8,1199.4 1206.3,1199.7 1206.7,1199.9 1207.1,1200.1 1207.6,1200.3 1208.1,1200.4 1208.6,1200.4 1209.1,1200.4 1209.6,1200.4 1210.1,1200.4 1210.7,1200.4 1211.2,1200.4 1211.8,1200.4 1212.4,1200.4 1212.6,1200.4" fill="#F5DEB3" stroke="#000" stroke-width="1.1" stroke-linejoin="round"/>
<g clip-path="url(#c3)">
<path d="M911.54 1220.20V687.75" stroke="#006400" stroke-width="1.5" stroke-dasharray="6.0 6.0" stroke-linecap="round" fill="none"/>
<path d="M1019.46 1220.20V687.75" stroke="#006400" stroke-width="1.5" stroke-dasharray="6.0 6.0" stroke-linecap="round" fill="none"/>
</g>
<rect x="699.70" y="687.75" width="532.50" height="532.45" fill="none" stroke="#000" stroke-width="0.75"/>
<path d="M778.62 1220.20H1152.38M778.62 1220.20v6M872.06 1220.20v6M965.50 1220.20v6M1058.94 1220.20v6M1152.38 1220.20v6" fill="none" stroke="#000" stroke-width="0.75"/>
<text transform="translate(778.62 1242.10) scale(0.93 1)" font-size="10.8" text-anchor="middle">-400</text>
<text transform="translate(872.06 1242.10) scale(0.93 1)" font-size="10.8" text-anchor="middle">-200</text>
<text transform="translate(965.50 1242.10) scale(0.93 1)" font-size="10.8" text-anchor="middle">0</text>
<text transform="translate(1058.94 1242.10) scale(0.93 1)" font-size="10.8" text-anchor="middle">200</text>
<text transform="translate(1152.38 1242.10) scale(0.93 1)" font-size="10.8" text-anchor="middle">400</text>
<path d="M699.70 749.80V1200.40M699.70 1200.40h-6M699.70 1125.30h-6M699.70 1050.20h-6M699.70 975.10h-6M699.70 900.00h-6M699.70 824.90h-6M699.70 749.80h-6" fill="none" stroke="#000" stroke-width="0.75"/>
<text transform="translate(684.90 1201.10) rotate(-90)" font-size="11" text-anchor="middle">0.000</text>
<text transform="translate(684.90 1126.00) rotate(-90)" font-size="11" text-anchor="middle">0.001</text>
<text transform="translate(684.90 1050.90) rotate(-90)" font-size="11" text-anchor="middle">0.002</text>
<text transform="translate(684.90 975.80) rotate(-90)" font-size="11" text-anchor="middle">0.003</text>
<text transform="translate(684.90 900.70) rotate(-90)" font-size="11" text-anchor="middle">0.004</text>
<text transform="translate(684.90 825.60) rotate(-90)" font-size="11" text-anchor="middle">0.005</text>
<text transform="translate(684.90 750.50) rotate(-90)" font-size="11" text-anchor="middle">0.006</text>
<text x="965.65" y="671.90" font-size="21.7" font-weight="bold" text-anchor="middle">Enrichment zone: 115.50</text>
<text x="965.95" y="1266.00" font-size="15.9" text-anchor="middle">Distance to peak summit</text>
<text transform="translate(662.10 954.38) rotate(-90)" font-size="15.75" text-anchor="middle">Density</text>
<path d="M1017.25 703.3H1041.2" stroke="#006400" stroke-width="1.125" stroke-dasharray="1.125 3.375" stroke-linecap="round"/>
<path d="M1017.25 718.8H1041.2" stroke="#CD2626" stroke-width="1.125" stroke-dasharray="1.125 3.375" stroke-linecap="round"/>
<circle cx="1028.95" cy="734.5" r="2.95" fill="#0000FF"/>
<text x="1052.2" y="707.8" font-size="12.9">enrichment zone = 115.5</text>
<text x="1052.2" y="723.3" font-size="12.9">motif score threshold = 89.000</text>
<text x="1052.2" y="738.8" font-size="12.9">centrality p-val = -39.4298</text>
</svg></body></html>
